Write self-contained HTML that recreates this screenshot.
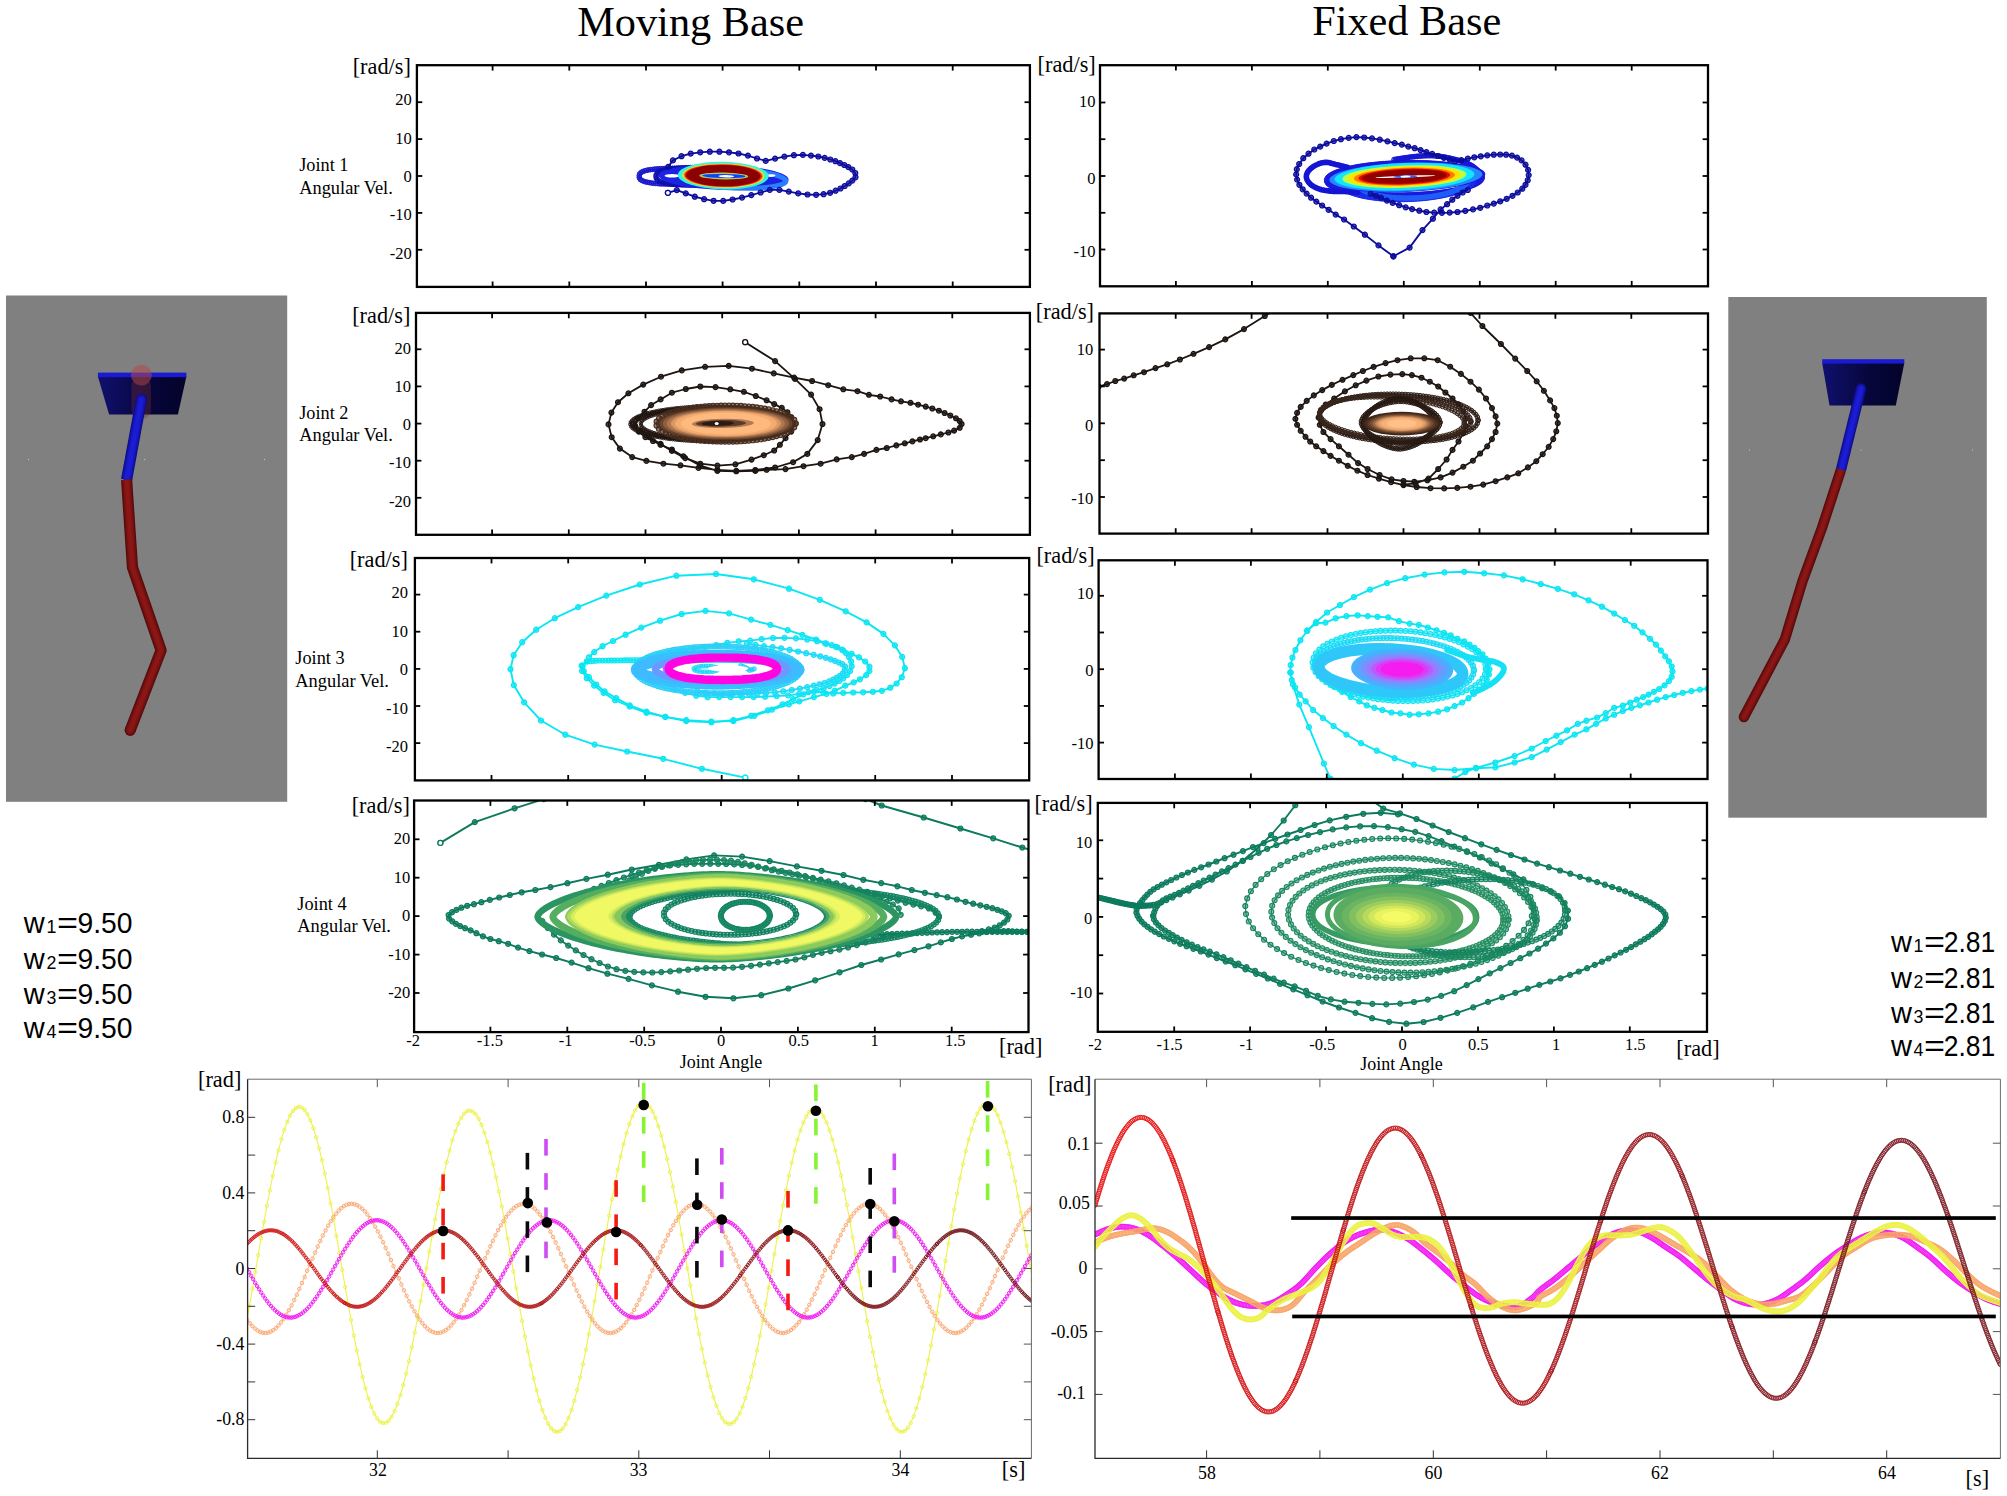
<!DOCTYPE html><html><head><meta charset="utf-8"><title>Moving Base vs Fixed Base</title><style>html,body{margin:0;padding:0;background:#fff}svg{display:block}text{fill:#000}</style></head><body><svg width="2007" height="1496" viewBox="0 0 2007 1496">
<defs><clipPath id="cL1"><rect x="416.9" y="65.2" width="613" height="221.7"/></clipPath><clipPath id="cL2"><rect x="416" y="312.9" width="613.9" height="221.9"/></clipPath><clipPath id="cL3"><rect x="414.9" y="558" width="614.3" height="222.4"/></clipPath><clipPath id="cL4"><rect x="414.1" y="800.5" width="614.4" height="231.6"/></clipPath><clipPath id="cR1"><rect x="1100" y="65.2" width="608" height="221.1"/></clipPath><clipPath id="cR2"><rect x="1099.5" y="313.4" width="608.5" height="220.2"/></clipPath><clipPath id="cR3"><rect x="1098.6" y="560.3" width="608.9" height="218.7"/></clipPath><clipPath id="cR4"><rect x="1097.8" y="802.9" width="609.2" height="228.9"/></clipPath><marker id="m0" markerUnits="userSpaceOnUse" markerWidth="6.6" markerHeight="6.6" refX="3.3" refY="3.3" viewBox="0 0 6.6 6.6"><circle cx="3.3" cy="3.3" r="2.3" fill="#1717cc" fill-opacity="0.5" stroke="#1717cc" stroke-width="1.0"/></marker><marker id="m1" markerUnits="userSpaceOnUse" markerWidth="6.6" markerHeight="6.6" refX="3.3" refY="3.3" viewBox="0 0 6.6 6.6"><circle cx="3.3" cy="3.3" r="2.3" fill="#0f0fb0" fill-opacity="0.5" stroke="#0f0fb0" stroke-width="1.0"/></marker><marker id="m2" markerUnits="userSpaceOnUse" markerWidth="7.4" markerHeight="7.4" refX="3.7" refY="3.7" viewBox="0 0 7.4 7.4"><circle cx="3.7" cy="3.7" r="2.5" fill="#0c0c9c" fill-opacity="0.7" stroke="#0c0c9c" stroke-width="1.2"/></marker><marker id="m3" markerUnits="userSpaceOnUse" markerWidth="6.8" markerHeight="6.8" refX="3.4" refY="3.4" viewBox="0 0 6.8 6.8"><circle cx="3.4" cy="3.4" r="2.4" fill="#1818dc" fill-opacity="0.5" stroke="#1818dc" stroke-width="1.0"/></marker><marker id="m4" markerUnits="userSpaceOnUse" markerWidth="6.6" markerHeight="6.6" refX="3.3" refY="3.3" viewBox="0 0 6.6 6.6"><circle cx="3.3" cy="3.3" r="2.3" fill="#1c2cec" fill-opacity="0.4" stroke="#1c2cec" stroke-width="1.0"/></marker><marker id="m5" markerUnits="userSpaceOnUse" markerWidth="6.4" markerHeight="6.4" refX="3.2" refY="3.2" viewBox="0 0 6.4 6.4"><circle cx="3.2" cy="3.2" r="2.2" fill="#2060f8" fill-opacity="0.4" stroke="#2060f8" stroke-width="1.0"/></marker><marker id="m6" markerUnits="userSpaceOnUse" markerWidth="6.6" markerHeight="6.6" refX="3.3" refY="3.3" viewBox="0 0 6.6 6.6"><circle cx="3.3" cy="3.3" r="2.3" fill="#1616d4" fill-opacity="0.5" stroke="#1616d4" stroke-width="1.0"/></marker><marker id="m7" markerUnits="userSpaceOnUse" markerWidth="7.4" markerHeight="7.4" refX="3.7" refY="3.7" viewBox="0 0 7.4 7.4"><circle cx="3.7" cy="3.7" r="2.4" fill="#1c1512" fill-opacity="0.75" stroke="#1c1512" stroke-width="1.3"/></marker><marker id="m8" markerUnits="userSpaceOnUse" markerWidth="5.2" markerHeight="5.2" refX="2.6" refY="2.6" viewBox="0 0 5.2 5.2"><circle cx="2.6" cy="2.6" r="1.7" fill="#241812" fill-opacity="0.4" stroke="#241812" stroke-width="0.9"/></marker><marker id="m9" markerUnits="userSpaceOnUse" markerWidth="7.4" markerHeight="7.4" refX="3.7" refY="3.7" viewBox="0 0 7.4 7.4"><circle cx="3.7" cy="3.7" r="2.6" fill="#4a2e1e" fill-opacity="0.6" stroke="#4a2e1e" stroke-width="1.1"/></marker><marker id="m10" markerUnits="userSpaceOnUse" markerWidth="6.4" markerHeight="6.4" refX="3.2" refY="3.2" viewBox="0 0 6.4 6.4"><circle cx="3.2" cy="3.2" r="2.2" fill="#2c1d15" fill-opacity="0.45" stroke="#2c1d15" stroke-width="1.0"/></marker><marker id="m11" markerUnits="userSpaceOnUse" markerWidth="6.4" markerHeight="6.4" refX="3.2" refY="3.2" viewBox="0 0 6.4 6.4"><circle cx="3.2" cy="3.2" r="2.2" fill="#33221a" fill-opacity="0.45" stroke="#33221a" stroke-width="1.0"/></marker><marker id="m12" markerUnits="userSpaceOnUse" markerWidth="6.4" markerHeight="6.4" refX="3.2" refY="3.2" viewBox="0 0 6.4 6.4"><circle cx="3.2" cy="3.2" r="2.2" fill="#3a281e" fill-opacity="0.45" stroke="#3a281e" stroke-width="1.0"/></marker><marker id="m13" markerUnits="userSpaceOnUse" markerWidth="6.6" markerHeight="6.6" refX="3.3" refY="3.3" viewBox="0 0 6.6 6.6"><circle cx="3.3" cy="3.3" r="2.3" fill="#241812" fill-opacity="0.5" stroke="#241812" stroke-width="1.0"/></marker><marker id="m14" markerUnits="userSpaceOnUse" markerWidth="6.4" markerHeight="6.4" refX="3.2" refY="3.2" viewBox="0 0 6.4 6.4"><circle cx="3.2" cy="3.2" r="2.2" fill="#2a1c14" fill-opacity="0.5" stroke="#2a1c14" stroke-width="1.0"/></marker><marker id="m15" markerUnits="userSpaceOnUse" markerWidth="7.4" markerHeight="7.4" refX="3.7" refY="3.7" viewBox="0 0 7.4 7.4"><circle cx="3.7" cy="3.7" r="2.5" fill="#0ae6f2" fill-opacity="0.7" stroke="#0ae6f2" stroke-width="1.2"/></marker><marker id="m16" markerUnits="userSpaceOnUse" markerWidth="7" markerHeight="7" refX="3.5" refY="3.5" viewBox="0 0 7 7"><circle cx="3.5" cy="3.5" r="2.4" fill="#0ae6f2" fill-opacity="0.45" stroke="#0ae6f2" stroke-width="1.1"/></marker><marker id="m17" markerUnits="userSpaceOnUse" markerWidth="7.4" markerHeight="7.4" refX="3.7" refY="3.7" viewBox="0 0 7.4 7.4"><circle cx="3.7" cy="3.7" r="2.5" fill="#14e2f4" fill-opacity="0.7" stroke="#14e2f4" stroke-width="1.2"/></marker><marker id="m18" markerUnits="userSpaceOnUse" markerWidth="7.4" markerHeight="7.4" refX="3.7" refY="3.7" viewBox="0 0 7.4 7.4"><circle cx="3.7" cy="3.7" r="2.5" fill="#1cdcf6" fill-opacity="0.7" stroke="#1cdcf6" stroke-width="1.2"/></marker><marker id="m19" markerUnits="userSpaceOnUse" markerWidth="7.2" markerHeight="7.2" refX="3.6" refY="3.6" viewBox="0 0 7.2 7.2"><circle cx="3.6" cy="3.6" r="2.5" fill="#2ccff8" fill-opacity="0.55" stroke="#2ccff8" stroke-width="1.1"/></marker><marker id="m20" markerUnits="userSpaceOnUse" markerWidth="7.4" markerHeight="7.4" refX="3.7" refY="3.7" viewBox="0 0 7.4 7.4"><circle cx="3.7" cy="3.7" r="2.6" fill="#38c0ff" fill-opacity="0.6" stroke="#38c0ff" stroke-width="1.1"/></marker><marker id="m21" markerUnits="userSpaceOnUse" markerWidth="5.8" markerHeight="5.8" refX="2.9" refY="2.9" viewBox="0 0 5.8 5.8"><circle cx="2.9" cy="2.9" r="2.0" fill="#20d8f4" fill-opacity="0.5" stroke="#20d8f4" stroke-width="0.9"/></marker><marker id="m22" markerUnits="userSpaceOnUse" markerWidth="6.2" markerHeight="6.2" refX="3.1" refY="3.1" viewBox="0 0 6.2 6.2"><circle cx="3.1" cy="3.1" r="2.2" fill="#28ccf6" fill-opacity="0.6" stroke="#28ccf6" stroke-width="0.9"/></marker><marker id="m23" markerUnits="userSpaceOnUse" markerWidth="7.2" markerHeight="7.2" refX="3.6" refY="3.6" viewBox="0 0 7.2 7.2"><circle cx="3.6" cy="3.6" r="2.5" fill="#0fe2f4" fill-opacity="0.55" stroke="#0fe2f4" stroke-width="1.1"/></marker><marker id="m24" markerUnits="userSpaceOnUse" markerWidth="7.2" markerHeight="7.2" refX="3.6" refY="3.6" viewBox="0 0 7.2 7.2"><circle cx="3.6" cy="3.6" r="2.5" fill="#1cdaf5" fill-opacity="0.55" stroke="#1cdaf5" stroke-width="1.1"/></marker><marker id="m25" markerUnits="userSpaceOnUse" markerWidth="7.4" markerHeight="7.4" refX="3.7" refY="3.7" viewBox="0 0 7.4 7.4"><circle cx="3.7" cy="3.7" r="2.5" fill="#0c7a5c" fill-opacity="0.7" stroke="#0c7a5c" stroke-width="1.2"/></marker><marker id="m26" markerUnits="userSpaceOnUse" markerWidth="7.4" markerHeight="7.4" refX="3.7" refY="3.7" viewBox="0 0 7.4 7.4"><circle cx="3.7" cy="3.7" r="2.5" fill="#137e5e" fill-opacity="0.7" stroke="#137e5e" stroke-width="1.2"/></marker><marker id="m27" markerUnits="userSpaceOnUse" markerWidth="7.4" markerHeight="7.4" refX="3.7" refY="3.7" viewBox="0 0 7.4 7.4"><circle cx="3.7" cy="3.7" r="2.5" fill="#12805e" fill-opacity="0.7" stroke="#12805e" stroke-width="1.2"/></marker><marker id="m28" markerUnits="userSpaceOnUse" markerWidth="7.4" markerHeight="7.4" refX="3.7" refY="3.7" viewBox="0 0 7.4 7.4"><circle cx="3.7" cy="3.7" r="2.5" fill="#188660" fill-opacity="0.7" stroke="#188660" stroke-width="1.2"/></marker><marker id="m29" markerUnits="userSpaceOnUse" markerWidth="7.2" markerHeight="7.2" refX="3.6" refY="3.6" viewBox="0 0 7.2 7.2"><circle cx="3.6" cy="3.6" r="2.5" fill="#138460" fill-opacity="0.5" stroke="#138460" stroke-width="1.1"/></marker><marker id="m30" markerUnits="userSpaceOnUse" markerWidth="7.2" markerHeight="7.2" refX="3.6" refY="3.6" viewBox="0 0 7.2 7.2"><circle cx="3.6" cy="3.6" r="2.5" fill="#108060" fill-opacity="0.5" stroke="#108060" stroke-width="1.1"/></marker><marker id="m31" markerUnits="userSpaceOnUse" markerWidth="7.2" markerHeight="7.2" refX="3.6" refY="3.6" viewBox="0 0 7.2 7.2"><circle cx="3.6" cy="3.6" r="2.5" fill="#148662" fill-opacity="0.5" stroke="#148662" stroke-width="1.1"/></marker><marker id="m32" markerUnits="userSpaceOnUse" markerWidth="7.4" markerHeight="7.4" refX="3.7" refY="3.7" viewBox="0 0 7.4 7.4"><circle cx="3.7" cy="3.7" r="2.5" fill="#0f7d5e" fill-opacity="0.7" stroke="#0f7d5e" stroke-width="1.2"/></marker><marker id="m33" markerUnits="userSpaceOnUse" markerWidth="7.2" markerHeight="7.2" refX="3.6" refY="3.6" viewBox="0 0 7.2 7.2"><circle cx="3.6" cy="3.6" r="2.5" fill="#15835f" fill-opacity="0.5" stroke="#15835f" stroke-width="1.1"/></marker><marker id="m34" markerUnits="userSpaceOnUse" markerWidth="7.2" markerHeight="7.2" refX="3.6" refY="3.6" viewBox="0 0 7.2 7.2"><circle cx="3.6" cy="3.6" r="2.5" fill="#1b8860" fill-opacity="0.5" stroke="#1b8860" stroke-width="1.1"/></marker><marker id="m35" markerUnits="userSpaceOnUse" markerWidth="7.2" markerHeight="7.2" refX="3.6" refY="3.6" viewBox="0 0 7.2 7.2"><circle cx="3.6" cy="3.6" r="2.5" fill="#218c61" fill-opacity="0.5" stroke="#218c61" stroke-width="1.1"/></marker><marker id="m36" markerUnits="userSpaceOnUse" markerWidth="7.2" markerHeight="7.2" refX="3.6" refY="3.6" viewBox="0 0 7.2 7.2"><circle cx="3.6" cy="3.6" r="2.5" fill="#289062" fill-opacity="0.5" stroke="#289062" stroke-width="1.1"/></marker><linearGradient id="gRed" x1="0" x2="1" y1="0" y2="0"><stop offset="0" stop-color="#5e0c0c"/><stop offset="0.45" stop-color="#961818"/><stop offset="1" stop-color="#5a0a0a"/></linearGradient><linearGradient id="gNavy" x1="0" x2="1" y1="0" y2="0"><stop offset="0" stop-color="#10106e"/><stop offset="0.6" stop-color="#06063a"/><stop offset="1" stop-color="#03032a"/></linearGradient><clipPath id="cBL"><rect x="247.6" y="1079.2" width="783.8000000000001" height="379.0999999999999"/></clipPath><marker id="m37" markerUnits="userSpaceOnUse" markerWidth="5.2" markerHeight="5.2" refX="2.6" refY="2.6" viewBox="0 0 5.2 5.2"><circle cx="2.6" cy="2.6" r="1.7" fill="none" stroke="#ecf24a" stroke-width="0.9"/></marker><marker id="m38" markerUnits="userSpaceOnUse" markerWidth="5.4" markerHeight="5.4" refX="2.7" refY="2.7" viewBox="0 0 5.4 5.4"><circle cx="2.7" cy="2.7" r="1.75" fill="none" stroke="#f9a873" stroke-width="0.95"/></marker><marker id="m39" markerUnits="userSpaceOnUse" markerWidth="5.3" markerHeight="5.3" refX="2.6" refY="2.6" viewBox="0 0 5.3 5.3"><circle cx="2.6" cy="2.6" r="1.75" fill="none" stroke="#f31af3" stroke-width="0.9"/></marker><marker id="m40" markerUnits="userSpaceOnUse" markerWidth="4.9" markerHeight="4.9" refX="2.5" refY="2.5" viewBox="0 0 4.9 4.9"><circle cx="2.5" cy="2.5" r="1.6" fill="none" stroke="#d01414" stroke-width="0.85"/></marker><marker id="m41" markerUnits="userSpaceOnUse" markerWidth="4.9" markerHeight="4.9" refX="2.5" refY="2.5" viewBox="0 0 4.9 4.9"><circle cx="2.5" cy="2.5" r="1.6" fill="none" stroke="#c21415" stroke-width="0.85"/></marker><marker id="m42" markerUnits="userSpaceOnUse" markerWidth="4.9" markerHeight="4.9" refX="2.5" refY="2.5" viewBox="0 0 4.9 4.9"><circle cx="2.5" cy="2.5" r="1.6" fill="none" stroke="#b41415" stroke-width="0.85"/></marker><marker id="m43" markerUnits="userSpaceOnUse" markerWidth="4.9" markerHeight="4.9" refX="2.5" refY="2.5" viewBox="0 0 4.9 4.9"><circle cx="2.5" cy="2.5" r="1.6" fill="none" stroke="#a61416" stroke-width="0.85"/></marker><marker id="m44" markerUnits="userSpaceOnUse" markerWidth="4.9" markerHeight="4.9" refX="2.5" refY="2.5" viewBox="0 0 4.9 4.9"><circle cx="2.5" cy="2.5" r="1.6" fill="none" stroke="#981416" stroke-width="0.85"/></marker><marker id="m45" markerUnits="userSpaceOnUse" markerWidth="4.9" markerHeight="4.9" refX="2.5" refY="2.5" viewBox="0 0 4.9 4.9"><circle cx="2.5" cy="2.5" r="1.6" fill="none" stroke="#8a1417" stroke-width="0.85"/></marker><marker id="m46" markerUnits="userSpaceOnUse" markerWidth="4.9" markerHeight="4.9" refX="2.5" refY="2.5" viewBox="0 0 4.9 4.9"><circle cx="2.5" cy="2.5" r="1.6" fill="none" stroke="#7c1417" stroke-width="0.85"/></marker><marker id="m47" markerUnits="userSpaceOnUse" markerWidth="4.9" markerHeight="4.9" refX="2.5" refY="2.5" viewBox="0 0 4.9 4.9"><circle cx="2.5" cy="2.5" r="1.6" fill="none" stroke="#6e1418" stroke-width="0.85"/></marker><clipPath id="cBR"><rect x="1095.0" y="1079.2" width="905.4000000000001" height="379.0999999999999"/></clipPath><marker id="m48" markerUnits="userSpaceOnUse" markerWidth="6.8" markerHeight="6.8" refX="3.4" refY="3.4" viewBox="0 0 6.8 6.8"><circle cx="3.4" cy="3.4" r="2.55" fill="#f31af3" fill-opacity="0.12" stroke="#f31af3" stroke-width="0.85"/></marker><marker id="m49" markerUnits="userSpaceOnUse" markerWidth="6.8" markerHeight="6.8" refX="3.4" refY="3.4" viewBox="0 0 6.8 6.8"><circle cx="3.4" cy="3.4" r="2.55" fill="#f9a567" fill-opacity="0.12" stroke="#f9a567" stroke-width="0.85"/></marker><marker id="m50" markerUnits="userSpaceOnUse" markerWidth="6.8" markerHeight="6.8" refX="3.4" refY="3.4" viewBox="0 0 6.8 6.8"><circle cx="3.4" cy="3.4" r="2.55" fill="#ecf246" fill-opacity="0.12" stroke="#ecf246" stroke-width="0.85"/></marker><marker id="m51" markerUnits="userSpaceOnUse" markerWidth="6" markerHeight="6" refX="3" refY="3" viewBox="0 0 6 6"><circle cx="3" cy="3" r="2.15" fill="none" stroke="#ea1212" stroke-width="0.85"/></marker><marker id="m52" markerUnits="userSpaceOnUse" markerWidth="6" markerHeight="6" refX="3" refY="3" viewBox="0 0 6 6"><circle cx="3" cy="3" r="2.15" fill="none" stroke="#e01313" stroke-width="0.85"/></marker><marker id="m53" markerUnits="userSpaceOnUse" markerWidth="6" markerHeight="6" refX="3" refY="3" viewBox="0 0 6 6"><circle cx="3" cy="3" r="2.15" fill="none" stroke="#d61315" stroke-width="0.85"/></marker><marker id="m54" markerUnits="userSpaceOnUse" markerWidth="6" markerHeight="6" refX="3" refY="3" viewBox="0 0 6 6"><circle cx="3" cy="3" r="2.15" fill="none" stroke="#cb1416" stroke-width="0.85"/></marker><marker id="m55" markerUnits="userSpaceOnUse" markerWidth="6" markerHeight="6" refX="3" refY="3" viewBox="0 0 6 6"><circle cx="3" cy="3" r="2.15" fill="none" stroke="#c11518" stroke-width="0.85"/></marker><marker id="m56" markerUnits="userSpaceOnUse" markerWidth="6" markerHeight="6" refX="3" refY="3" viewBox="0 0 6 6"><circle cx="3" cy="3" r="2.15" fill="none" stroke="#b71619" stroke-width="0.85"/></marker><marker id="m57" markerUnits="userSpaceOnUse" markerWidth="6" markerHeight="6" refX="3" refY="3" viewBox="0 0 6 6"><circle cx="3" cy="3" r="2.15" fill="none" stroke="#ad161b" stroke-width="0.85"/></marker><marker id="m58" markerUnits="userSpaceOnUse" markerWidth="6" markerHeight="6" refX="3" refY="3" viewBox="0 0 6 6"><circle cx="3" cy="3" r="2.15" fill="none" stroke="#a3171c" stroke-width="0.85"/></marker><marker id="m59" markerUnits="userSpaceOnUse" markerWidth="6" markerHeight="6" refX="3" refY="3" viewBox="0 0 6 6"><circle cx="3" cy="3" r="2.15" fill="none" stroke="#99181e" stroke-width="0.85"/></marker><marker id="m60" markerUnits="userSpaceOnUse" markerWidth="6" markerHeight="6" refX="3" refY="3" viewBox="0 0 6 6"><circle cx="3" cy="3" r="2.15" fill="none" stroke="#8e191f" stroke-width="0.85"/></marker><marker id="m61" markerUnits="userSpaceOnUse" markerWidth="6" markerHeight="6" refX="3" refY="3" viewBox="0 0 6 6"><circle cx="3" cy="3" r="2.15" fill="none" stroke="#841921" stroke-width="0.85"/></marker><marker id="m62" markerUnits="userSpaceOnUse" markerWidth="6" markerHeight="6" refX="3" refY="3" viewBox="0 0 6 6"><circle cx="3" cy="3" r="2.15" fill="none" stroke="#7a1a22" stroke-width="0.85"/></marker></defs>
<rect width="2007" height="1496" fill="#fff"/>
<polyline fill="none" stroke="#1717cc" stroke-width="1.2" stroke-linejoin="round" marker-start="url(#m0)" marker-mid="url(#m0)" marker-end="url(#m0)" points="718.5,176.2 718.2,178.2 716.9,179.8 715.2,180.8 713.3,181.5 711.4,182 709.5,182.5 707.5,182.8 705.5,183.1 703.5,183.3 701.5,183.5 699.5,183.7 697.5,183.8 695.5,183.9 693.5,184 691.5,184 689.5,184.1 687.5,184.1 685.5,184.1 683.5,184.1 681.5,184.2 679.5,184.2 677.5,184.2 675.5,184.1 673.5,184.1 671.5,184.1 669.5,184.1 667.5,184.1 665.5,184 663.5,183.9 661.5,183.9 659.6,183.8 657.6,183.6 655.6,183.5 653.6,183.3 651.6,183 649.6,182.7 647.6,182.3 645.7,181.9 643.8,181.3 641.9,180.5 640.3,179.4 639.3,177.7 639.2,175.7 639.7,173.8 641.2,172.4 642.9,171.5 644.8,170.8 646.8,170.3 648.7,169.9 650.7,169.6 652.7,169.4 654.7,169.1 656.6,169 658.6,168.8 660.6,168.7 662.6,168.6 664.6,168.5 666.6,168.5 668.6,168.4 670.6,168.4 672.6,168.4 674.6,168.4 676.6,168.3 678.6,168.3 680.6,168.3 682.6,168.4 684.6,168.4 686.6,168.4 688.6,168.4 690.6,168.4 692.6,168.5 694.6,168.6 696.6,168.7 698.6,168.8 700.6,168.9 702.6,169.1 704.6,169.3 706.6,169.6 708.6,169.9 710.5,170.3 712.5,170.7 714.4,171.4 716.2,172.2 717.7,173.5 718.4,175.3 718.5,176.2"/>
<polyline fill="none" stroke="#0f0fb0" stroke-width="1.2" stroke-linejoin="round" marker-start="url(#m1)" marker-mid="url(#m1)" marker-end="url(#m1)" points="749.6,176.4 749.3,178.3 748.1,180 746.5,181.1 744.6,181.8 742.7,182.4 740.8,182.9 738.8,183.3 736.8,183.6 734.9,183.9 732.9,184.2 730.9,184.3 728.9,184.5 726.9,184.7 724.9,184.8 722.9,184.9 720.9,185 718.9,185 716.9,185.1 714.9,185.1 712.9,185.1 710.9,185.2 708.9,185.2 706.9,185.2 704.9,185.2 702.9,185.2 700.9,185.2 698.9,185.2 696.9,185.2 694.9,185.2 692.9,185.1 690.9,185.1 688.9,185.1 686.9,185 684.9,185 682.9,184.9 680.9,184.8 678.9,184.7 676.9,184.5 674.9,184.4 672.9,184.2 671,184 669,183.7 667,183.4 665,183 663.1,182.5 661.2,181.9 659.3,181.2 657.6,180.1 656.4,178.6 656,176.6 656.2,174.7 657.2,173 658.9,171.8 660.7,171 662.6,170.4 664.5,169.9 666.5,169.5 668.5,169.2 670.4,168.9 672.4,168.6 674.4,168.4 676.4,168.3 678.4,168.1 680.4,168 682.4,167.9 684.4,167.8 686.4,167.7 688.4,167.7 690.4,167.6 692.4,167.6 694.4,167.6 696.4,167.6 698.4,167.6 700.4,167.6 702.4,167.6 704.4,167.6 706.4,167.6 708.4,167.6 710.4,167.6 712.4,167.6 714.4,167.6 716.4,167.7 718.4,167.7 720.4,167.8 722.4,167.9 724.4,168 726.4,168.1 728.4,168.2 730.4,168.4 732.4,168.6 734.4,168.8 736.3,169 738.3,169.4 740.3,169.7 742.2,170.2 744.1,170.7 746,171.5 747.7,172.5 749.1,173.9 749.5,175.9"/>
<ellipse cx="723.6" cy="177.5" rx="65" ry="12.6" fill="#1c24e4" transform="rotate(1.8 723.6 177.5)"/>
<ellipse cx="734" cy="178.5" rx="52" ry="9.3" fill="none" stroke="#2a7dff" stroke-width="5.0" transform="rotate(3 734 178.5)"/>
<ellipse cx="672.1" cy="175.7" rx="7.5" ry="1.7" fill="#ffffff"/>
<ellipse cx="770.9" cy="175.6" rx="4.5" ry="1.4" fill="#ffffff"/>
<ellipse cx="723.3" cy="175.6" rx="45.5" ry="13.8" fill="#35f2d8" transform="rotate(1 723.3 175.6)"/>
<ellipse cx="723.3" cy="175.6" rx="41.2" ry="12.2" fill="#d8f03a" transform="rotate(1 723.3 175.6)"/>
<ellipse cx="723.3" cy="175.6" rx="40" ry="11.7" fill="#ff9a10" transform="rotate(1 723.3 175.6)"/>
<ellipse cx="723.3" cy="175.6" rx="38.8" ry="11.2" fill="#e81a0a" transform="rotate(1 723.3 175.6)"/>
<ellipse cx="723.3" cy="175.6" rx="37.2" ry="10.6" fill="#8b0000" transform="rotate(1 723.3 175.6)"/>
<ellipse cx="723.8" cy="176" rx="24.5" ry="3.4" fill="#e8c020" transform="rotate(1 723.8 176)"/>
<ellipse cx="723.8" cy="176" rx="23.3" ry="2.6" fill="#38e0e0" transform="rotate(1 723.8 176)"/>
<ellipse cx="723.8" cy="176" rx="21.5" ry="2" fill="#1b3cf0" transform="rotate(1 723.8 176)"/>
<ellipse cx="726.3" cy="176.2" rx="8" ry="1.3" fill="#ffffff" transform="rotate(1 726.3 176.2)"/>
<polyline fill="none" stroke="#0c0c9c" stroke-width="1.8" stroke-linejoin="round" marker-start="url(#m2)" marker-mid="url(#m2)" marker-end="url(#m2)" points="667.9,192.8 676.8,190.1 685.8,193.4 694.8,196.7 704.1,199.2 713.6,200.8 723.2,200.9 732.6,199.5 742,197.6 751.3,195.1 760.6,192.5 769.8,189.9 779.4,189.9 788.8,191.6 798.2,193.4 807.5,194.5 816.1,194.8 823.6,194.2 830.1,192.8 835.6,190.7 840.5,188.5 844.7,186 848.7,183.4 852.3,180.6 855.5,177.3 855.3,173 852.3,169.5 848.4,167.1 844.3,165 840,163.1 835.4,161.2 830.3,159.5 824.7,157.9 818.3,156.5 811,155.6 802.9,154.9 793.9,155.2 784.4,156.6 775.1,158.6 765.7,160.9 757,158.5 747.9,155.6 738.5,153.5 729,152.3 719.4,151.7 709.8,151.7 700.2,152.3 690.7,153.6 681.5,156.2 672.9,160.4 668.2,166.9"/>
<polyline fill="none" stroke="#1818dc" stroke-width="1.0" stroke-linejoin="round" marker-start="url(#m3)" marker-mid="url(#m3)" marker-end="url(#m3)" points="1482.1,177.4 1481.8,178.9 1480.9,180.3 1479.8,181.4 1478.5,182.4 1477.1,183.2 1475.7,184 1474.3,184.7 1472.8,185.3 1471.3,185.9 1469.8,186.4 1468.3,186.9 1466.8,187.4 1465.2,187.9 1463.7,188.3 1462.1,188.7 1460.6,189.1 1459,189.4 1457.5,189.8 1455.9,190.1 1454.3,190.4 1452.8,190.7 1451.2,191 1449.6,191.2 1448,191.5 1446.4,191.8 1444.9,192 1443.3,192.2 1441.7,192.4 1440.1,192.6 1438.5,192.8 1436.9,193 1435.3,193.2 1433.8,193.4 1432.2,193.5 1430.6,193.7 1429,193.8 1427.4,194 1425.8,194.1 1424.2,194.2 1422.6,194.3 1421,194.4 1419.4,194.5 1417.8,194.6 1416.2,194.7 1414.6,194.8 1413,194.9 1411.4,194.9 1409.8,195 1408.2,195 1406.6,195.1 1405,195.1 1403.4,195.2 1401.8,195.2 1400.2,195.2 1398.6,195.2 1397,195.2 1395.4,195.2 1393.8,195.2 1392.2,195.2 1390.6,195.1 1389,195.1 1387.4,195.1 1385.8,195 1384.2,195 1382.6,194.9 1381,194.8 1379.4,194.8 1377.8,194.7 1376.2,194.6 1374.6,194.5 1373,194.4 1371.4,194.2 1369.8,194.1 1368.3,194 1366.7,193.8 1365.1,193.7 1363.5,193.5 1361.9,193.3 1360.3,193.1 1358.7,192.9 1357.1,192.7 1355.5,192.5 1354,192.2 1352.4,192 1350.8,191.7 1349.2,191.4 1347.7,191.1 1346.1,190.8 1344.5,190.4 1343,190.1 1341.4,189.6 1339.9,189.2 1338.4,188.8 1336.8,188.3 1335.3,187.7 1333.9,187.1 1332.4,186.4 1331,185.7 1329.6,184.8 1328.4,183.8 1327.4,182.6 1326.7,181.1 1326.8,179.6 1327.4,178.1 1328.5,176.9 1329.7,175.9 1331,175 1332.4,174.2 1333.9,173.5 1335.3,172.8 1336.8,172.2 1338.3,171.7 1339.8,171.2 1341.3,170.7 1342.9,170.2 1344.4,169.8 1346,169.4 1347.5,169 1349.1,168.6 1350.6,168.3 1352.2,167.9 1353.8,167.6 1355.3,167.3 1356.9,167 1358.5,166.7 1360.1,166.5 1361.7,166.2 1363.2,166 1364.8,165.8 1366.4,165.5 1368,165.3 1369.6,165.1 1371.2,164.9 1372.8,164.8 1374.3,164.6 1375.9,164.4 1377.5,164.3 1379.1,164.1 1380.7,164 1382.3,163.8 1383.9,163.7 1385.5,163.6 1387.1,163.5 1388.7,163.4 1390.3,163.3 1391.9,163.2 1393.5,163.1 1395.1,163 1396.7,163 1398.3,162.9 1399.9,162.9 1401.5,162.8 1403.1,162.8 1404.7,162.7 1406.3,162.7 1407.9,162.7 1409.5,162.7 1411.1,162.7 1412.7,162.7 1414.3,162.7 1415.9,162.7 1417.5,162.7 1419.1,162.8 1420.7,162.8 1422.3,162.8 1423.9,162.9 1425.5,163 1427.1,163 1428.7,163.1 1430.3,163.2 1431.9,163.3 1433.5,163.4 1435.1,163.5 1436.7,163.6 1438.2,163.7 1439.8,163.9 1441.4,164 1443,164.2 1444.6,164.3 1446.2,164.5 1447.8,164.7 1449.4,164.9 1451,165.1 1452.6,165.3 1454.1,165.6 1455.7,165.8 1457.3,166.1 1458.9,166.4 1460.4,166.7 1462,167 1463.6,167.3 1465.1,167.7 1466.7,168.1 1468.2,168.5 1469.8,168.9 1471.3,169.4 1472.8,170 1474.3,170.5 1475.8,171.2 1477.2,171.9 1478.6,172.7 1479.9,173.7 1481,174.8 1481.8,176.1 1482.1,177.4"/>
<polyline fill="none" stroke="#1c2cec" stroke-width="1.0" stroke-linejoin="round" marker-start="url(#m4)" marker-mid="url(#m4)" marker-end="url(#m4)" points="1474.2,179.4 1473.8,180.9 1473.1,182.2 1472.2,183.4 1471.2,184.4 1470,185.4 1468.8,186.3 1467.5,187.1 1466.2,187.8 1464.9,188.5 1463.6,189.2 1462.2,189.8 1460.8,190.4 1459.4,190.9 1458,191.4 1456.6,191.9 1455.1,192.4 1453.7,192.8 1452.3,193.2 1450.8,193.6 1449.4,194 1447.9,194.4 1446.5,194.7 1445,195.1 1443.5,195.4 1442.1,195.7 1440.6,196 1439.1,196.2 1437.6,196.5 1436.2,196.7 1434.7,197 1433.2,197.2 1431.7,197.4 1430.2,197.6 1428.7,197.8 1427.2,198 1425.8,198.2 1424.3,198.3 1422.8,198.5 1421.3,198.6 1419.8,198.7 1418.3,198.8 1416.8,198.9 1415.3,199 1413.8,199.1 1412.3,199.2 1410.8,199.3 1409.3,199.3 1407.8,199.4 1406.3,199.4 1404.8,199.5 1403.3,199.5 1401.8,199.5 1400.3,199.5 1398.8,199.5 1397.3,199.5 1395.8,199.5 1394.3,199.4 1392.8,199.4 1391.3,199.3 1389.8,199.3 1388.3,199.2 1386.8,199.1 1385.3,199 1383.8,198.9 1382.3,198.8 1380.8,198.7 1379.3,198.5 1377.8,198.4 1376.3,198.2 1374.9,198 1373.4,197.8 1371.9,197.6 1370.4,197.4 1368.9,197.2 1367.4,196.9 1366,196.6 1364.5,196.4 1363,196.1 1361.6,195.7 1360.1,195.4 1358.6,195 1357.2,194.6 1355.8,194.2 1354.3,193.8 1352.9,193.3 1351.5,192.8 1350.1,192.2 1348.7,191.6 1347.4,191 1346.1,190.3 1344.8,189.5 1343.5,188.6 1342.4,187.7 1341.4,186.6 1340.5,185.4 1339.9,184 1339.7,183.3"/>
<polyline fill="none" stroke="#2060f8" stroke-width="1.0" stroke-linejoin="round" marker-start="url(#m5)" marker-mid="url(#m5)" marker-end="url(#m5)" points="1468.6,180.9 1467.8,182.2 1466.9,183.4 1465.9,184.4 1464.7,185.4 1463.5,186.3 1462.3,187.1 1461,187.9 1459.7,188.6 1458.3,189.2 1456.9,189.9 1455.5,190.4 1454.2,191 1452.7,191.5 1451.3,192 1449.9,192.4 1448.5,192.9 1447,193.3 1445.6,193.6 1444.1,194 1442.6,194.4 1441.2,194.7 1439.7,195 1438.2,195.3 1436.8,195.6 1435.3,195.8 1433.8,196 1432.3,196.3 1430.8,196.5 1429.4,196.7 1427.9,196.9 1426.4,197 1424.9,197.2 1423.4,197.3 1421.9,197.5 1420.4,197.6 1418.9,197.7 1417.4,197.8 1415.9,197.9 1414.4,197.9 1412.9,198 1411.4,198 1409.9,198 1408.4,198.1 1406.9,198.1 1405.4,198.1 1403.9,198 1402.4,198 1400.9,197.9 1399.4,197.9 1397.9,197.8 1396.4,197.7 1394.9,197.6 1393.4,197.5 1391.9,197.4 1390.4,197.2 1388.9,197.1 1387.5,196.9 1386,196.7 1384.5,196.5 1383,196.2 1381.5,196 1380.1,195.7 1378.6,195.4 1377.1,195.1 1375.6,194.8 1374.2,194.4 1372.7,194 1371.3,193.6 1369.9,193.2 1368.5,192.7 1367,192.2 1365.7,191.6 1364.3,191 1362.9,190.3 1361.6,189.6 1360.3,188.8 1359.1,187.9 1358,187 1357,185.9"/>
<polyline fill="none" stroke="#1616d4" stroke-width="1.0" stroke-linejoin="round" marker-start="url(#m6)" marker-mid="url(#m6)" marker-end="url(#m6)" points="1394,159.5 1395.6,159.3 1397.2,159 1398.7,158.8 1400.3,158.5 1401.9,158.3 1403.5,158 1405.1,157.8 1406.7,157.6 1408.2,157.4 1409.8,157.1 1411.4,156.9 1413,156.8 1414.6,156.6 1416.2,156.4 1417.8,156.2 1419.4,156.1 1421,156 1422.6,155.9 1424.2,155.8 1425.8,155.8 1427.4,155.7 1429,155.7 1430.6,155.7 1432.2,155.7 1433.8,155.8 1435.4,155.9 1436.9,156 1438.5,156.2 1440.1,156.4 1441.7,156.6 1443.3,156.9 1444.9,157.1 1446.4,157.4 1448,157.7 1449.6,158.1 1451.1,158.4 1452.7,158.8 1454.2,159.2 1455.8,159.6 1457.3,160 1458.9,160.4 1460.4,160.9 1461.9,161.4 1463.4,161.9 1464.9,162.5 1466.4,163 1467.9,163.7 1469.4,164.3 1470.8,165.1 1472.2,165.9 1473.5,166.8 1474.8,167.7 1476,168.8 1477.2,169.8 1478.4,170.9 1479.5,171.8"/>
<polyline fill="none" stroke="#1414d2" stroke-width="5.6" stroke-linecap="round" stroke-linejoin="round" points="1357.7,192.5 1356.7,192.5 1355.4,192.3 1353.8,192.2 1352.1,192 1350.2,191.9 1348.3,191.7 1346.5,191.6 1344.8,191.5 1343.1,191.5 1341.5,191.4 1339.9,191.4 1338.2,191.4 1336.6,191.4 1335,191.4 1333.4,191.4 1331.8,191.3 1330.3,191.1 1328.8,190.9 1327.2,190.8 1325.7,190.5 1324.3,190.3 1322.9,190 1321.5,189.7 1320.2,189.3 1318.9,188.9 1317.6,188.4 1316.4,187.9 1315.2,187.3 1314,186.7 1313,186.1 1312,185.5 1311.1,184.8 1310.3,184.1 1309.5,183.3 1308.8,182.5 1308.2,181.7 1307.6,180.8 1307.2,180 1306.8,179.1 1306.6,178.3 1306.4,177.5 1306.3,176.7 1306.4,175.9 1306.5,175 1306.7,174.2 1307,173.4 1307.4,172.6 1307.9,171.8 1308.4,171 1309.1,170.2 1310,169.3 1310.8,168.5 1311.8,167.7 1312.8,166.9 1313.9,166.2 1315,165.6 1316.1,165 1317.3,164.5 1318.6,163.9 1319.9,163.4 1321.2,163 1322.6,162.7 1324,162.5 1325.3,162.4 1326.7,162.4 1328.2,162.5 1329.7,162.8 1331.2,163.2 1332.7,163.6 1334.1,164 1335.6,164.4 1337,164.7 1338.4,165 1339.9,165.4 1341.4,165.8 1342.9,166.1 1344.3,166.5 1345.5,166.8 1346.6,167.1 1347.4,167.3"/>
<ellipse cx="1405.9" cy="177.1" rx="79.5" ry="14.8" fill="#1a1ae0" transform="rotate(-2.2 1405.9 177.1)"/>
<ellipse cx="1405.9" cy="177.1" rx="76.5" ry="14.3" fill="#2488ff" transform="rotate(-2.2 1405.9 177.1)"/>
<ellipse cx="1404.4" cy="176.6" rx="70" ry="13.6" fill="#10e6ff" transform="rotate(-2.2 1404.4 176.6)"/>
<ellipse cx="1404.4" cy="176.6" rx="62" ry="11.2" fill="#b8ff48" transform="rotate(-2.2 1404.4 176.6)"/>
<ellipse cx="1404.4" cy="176.6" rx="56.5" ry="10.2" fill="#ffe400" transform="rotate(-2.2 1404.4 176.6)"/>
<ellipse cx="1404.4" cy="176.6" rx="50.5" ry="8.9" fill="#ff7800" transform="rotate(-2.2 1404.4 176.6)"/>
<ellipse cx="1404.4" cy="176.6" rx="46" ry="7.9" fill="#e00a00" transform="rotate(-2.2 1404.4 176.6)"/>
<ellipse cx="1404.4" cy="176.6" rx="42.5" ry="6.9" fill="#930000" transform="rotate(-2.2 1404.4 176.6)"/>
<ellipse cx="1405.4" cy="176.6" rx="30" ry="0.9" fill="#ffffff" transform="rotate(-2.2 1405.4 176.6)"/>
<ellipse cx="1405.4" cy="176.6" rx="12" ry="1.3" fill="#3060f0" transform="rotate(-2.2 1405.4 176.6)"/>
<ellipse cx="1405.4" cy="176.6" rx="5" ry="1" fill="#ffffff" transform="rotate(-2.2 1405.4 176.6)"/>
<polyline fill="none" stroke="#0c0c9c" stroke-width="1.8" stroke-linejoin="round" marker-start="url(#m2)" marker-mid="url(#m2)" marker-end="url(#m2)" points="1393.4,256.3 1378.5,245.4 1364.9,234.7 1353.8,226.5 1344.1,219.5 1335.7,214.6 1328.6,209.8 1322.1,205.5 1316.3,201.6 1311.1,197.7 1306.6,193.6 1302.7,189.3 1299.4,184.8 1297.1,179.6 1296.2,174.4 1296.8,169.2 1299.2,164 1303.3,158.2 1308.5,153.7 1314.3,149.5 1320.2,146.6 1326.6,143.6 1333.8,141 1340.9,139.2 1348.7,137.9 1356.4,137.1 1364.2,137.5 1372,138.4 1379.8,139.7 1387.5,141.4 1394.7,143.1 1401.8,144.6 1408.3,146.6 1414.7,148.2 1420.6,150.1 1426.4,152.1 1432.2,153.9 1438.1,156 1443.9,157.8 1449.7,159.5 1454.9,161.2 1461.4,160.2 1467.8,158.6 1474.3,157.3 1480.8,156.3 1487.3,155.4 1493.8,154.7 1500.2,154.5 1506.1,154.7 1511.9,155.6 1517.1,157.6 1521.6,160.4 1525.5,164.7 1528.1,169.9 1528.7,175.1 1527.7,180.2 1525.5,184.8 1522.3,188.7 1517.7,192.5 1512.5,195.8 1506.7,198.8 1500.2,201.4 1493.8,203.6 1487.3,205.5 1480.2,207.8 1473,209.4 1465.3,210.9 1457.5,212 1449.7,212.6 1441.9,212.8 1434.2,212.6 1426.4,212 1419.3,210.7 1412.1,209.1 1405.7,207.4 1399.2,205.2 1392.7,202.9 1386.9,200.6 1381,197.7 1375.9,195.8 1370.7,193.8"/>
<polyline fill="none" stroke="#0c0c9c" stroke-width="1.8" stroke-linejoin="round" marker-start="url(#m2)" marker-mid="url(#m2)" marker-end="url(#m2)" points="1393.4,256.3 1409.6,247.6 1422.5,230.1 1432.9,218.7 1440.6,209.4 1447.1,204.2 1452.3,199.7 1457.5,195.8 1462.7,192.5 1467.8,190"/>
<polyline fill="none" stroke="#1c1512" stroke-width="1.8" stroke-linejoin="round" marker-start="url(#m7)" marker-mid="url(#m7)" marker-end="url(#m7)" points="745.2,342.2 775.1,361.1 795,378.9 811.1,394.6 819.6,409.2 822.5,424 817.7,440.1 807.3,453.9 793.1,462.2 775.1,467.5 755.3,470 736.3,470.9 717.4,469.8 698.5,467.9 680.5,465.3 663.4,463.7 646.4,460.9 632.2,457.1 619.9,448.6 611.7,437.2 608.5,424.4 611.4,412.6 618,402.2 628.4,393.3 643.2,384.6 661,376.7 681.8,370.4 705.1,366.8 728.7,365.9 752,368.7 773.8,373.4 794.1,377.6 812.1,381 828.2,385.2 843.3,389.3 857.5,391.2 868.9,394.8 880.2,396.5 891.6,399.4 901,401.3 910.5,402.8 918.1,404.7 925.7,406.6 932.3,408.5 938.9,410.7 944.6,413 950.3,415.5 956,418.3 959.7,421.1 961.6,424 959.7,427.8 954.1,430.6 948.4,432.5 940.8,434.4 933.2,436.3 925.7,438.2 920,439.5 912.4,441.4 904.8,443.3 896.3,445.4 886.8,448 876.4,449.9 864.1,453.9 851.8,457.1 836.7,459.4 820.6,463.7 803.5,466.2 785.5,469.1 766.6,469.8 755.3,470.9 736.3,471.3 717.4,470.9 700.3,465.6 683.3,456.2 671.9,449.5 660.6,444.8 653,441 645.4,437.2 638.8,431.6 635,425.9"/>
<polyline fill="none" stroke="#1c1512" stroke-width="1.8" stroke-linejoin="round" marker-start="url(#m7)" marker-mid="url(#m7)" marker-end="url(#m7)" points="635,425.9 637.9,418.3 644.5,411.7 651.1,405.1 660.6,399.4 671.9,392.7 685.8,389 700.3,386.5 715.5,387.1 730.3,389.3 743.9,391.8 755.8,396 766.6,400.3 774.2,404.1 781.8,407.9 787.4,412.2 791.2,417.4 793.1,424 791.2,431.6 785.5,438.2 779.9,444.8 774.2,450.5 763.8,455.2 751.5,459.6 735.4,464.3 717.4,465.6 700.3,463.7 685.2,458.1 671.9,450.9 660.6,443.9 649.2,437.2 639.8,430.6 633.1,424"/>
<polyline fill="none" stroke="#241812" stroke-width="1.1" stroke-linejoin="round" marker-start="url(#m8)" marker-mid="url(#m8)" marker-end="url(#m8)" points="793.1,424 792.5,426.1 791.2,427.8 789.4,429.2 787.6,430.3 785.6,431.3 783.6,432.2 781.5,432.9 779.4,433.7 777.3,434.3 775.2,434.9 773.1,435.4 770.9,435.9 768.8,436.4 766.6,436.8 764.5,437.3 762.3,437.6 760.1,438 758,438.3 755.8,438.6 753.6,438.9 751.4,439.2 749.2,439.4 747,439.7 744.9,439.9 742.7,440.1 740.5,440.3 738.3,440.5 736.1,440.6 733.9,440.7 731.7,440.9 729.5,441 727.3,441.1 725.1,441.2 722.9,441.2 720.7,441.3 718.5,441.3 716.3,441.4 714.1,441.4 711.9,441.4 709.7,441.4 707.5,441.4 705.3,441.4 703.1,441.3 700.9,441.3 698.7,441.2 696.5,441.1 694.3,441 692.1,440.9 689.9,440.8 687.7,440.6 685.5,440.5 683.3,440.3 681.1,440.1 679,439.9 676.8,439.7 674.6,439.5 672.4,439.2 670.2,439 668,438.7 665.8,438.4 663.7,438.1 661.5,437.7 659.3,437.3 657.2,436.9 655,436.5 652.9,436 650.7,435.5 648.6,435 646.5,434.4 644.4,433.8 642.3,433.1 640.2,432.3 638.2,431.5 636.2,430.5 634.3,429.4 632.5,428.1 631.1,426.4 630.3,424.4 630.7,422.2 632,420.5 633.7,419 635.5,417.9 637.5,416.8 639.5,416 641.5,415.2 643.6,414.4 645.7,413.8 647.8,413.2 649.9,412.6 652.1,412.1 654.2,411.7 656.4,411.2 658.6,410.8 660.7,410.4 662.9,410.1 665.1,409.7 667.2,409.4 669.4,409.1 671.6,408.8 673.8,408.6 676,408.3 678.2,408.1 680.4,407.9 682.5,407.7 684.7,407.6 686.9,407.4 689.1,407.3 691.3,407.1 693.5,407 695.7,406.9 697.9,406.8 700.1,406.7 702.3,406.7 704.5,406.6 706.7,406.6 708.9,406.6 711.1,406.6 713.3,406.6 715.5,406.6 717.7,406.6 719.9,406.7 722.1,406.7 724.3,406.8 726.5,406.9 728.7,407 730.9,407.1 733.1,407.2 735.3,407.3 737.5,407.5 739.7,407.6 741.9,407.8 744.1,408 746.3,408.2 748.4,408.4 750.6,408.7 752.8,409 755,409.2 757.2,409.5 759.4,409.9 761.5,410.2 763.7,410.6 765.9,411 768,411.4 770.2,411.9 772.3,412.4 774.5,412.9 776.6,413.5 778.7,414.1 780.8,414.8 782.8,415.5 784.9,416.4 786.9,417.3 788.8,418.4 790.6,419.7 792.1,421.2 793,423.2"/>
<polyline fill="none" stroke="#241812" stroke-width="1.1" stroke-linejoin="round" marker-start="url(#m8)" marker-mid="url(#m8)" marker-end="url(#m8)" points="792.2,424 791.6,426.1 790.1,427.7 788.4,429.1 786.5,430.2 784.5,431.2 782.5,432 780.4,432.8 778.3,433.4 776.2,434.1 774.1,434.6 772,435.1 769.8,435.6 767.7,436.1 765.5,436.5 763.3,436.9 761.2,437.2 759,437.6 756.8,437.9 754.6,438.2 752.5,438.5 750.3,438.7 748.1,439 745.9,439.2 743.7,439.4 741.5,439.6 739.3,439.7 737.1,439.9 734.9,440 732.7,440.1 730.5,440.3 728.3,440.4 726.1,440.4 723.9,440.5 721.7,440.6 719.5,440.6 717.3,440.6 715.1,440.6 712.9,440.6 710.7,440.6 708.5,440.6 706.3,440.6 704.1,440.5 701.9,440.5 699.7,440.4 697.5,440.3 695.3,440.2 693.1,440.1 691,439.9 688.8,439.8 686.6,439.6 684.4,439.5 682.2,439.3 680,439 677.8,438.8 675.6,438.6 673.4,438.3 671.2,438 669.1,437.7 666.9,437.4 664.7,437 662.6,436.7 660.4,436.2 658.2,435.8 656.1,435.3 653.9,434.8 651.8,434.3 649.7,433.7 647.6,433 645.5,432.3 643.5,431.5 641.5,430.6 639.5,429.6 637.7,428.3 636.1,426.8 635.1,424.8 635.3,422.7 636.4,420.8 638.1,419.4 639.9,418.2 641.9,417.2 643.9,416.3 646,415.5 648,414.8 650.1,414.2 652.3,413.6 654.4,413 656.5,412.5 658.7,412.1 660.8,411.6 663,411.2 665.2,410.9 667.4,410.5 669.5,410.2 671.7,409.9 673.9,409.6 676.1,409.3 678.3,409.1 680.4,408.9 682.6,408.7 684.8,408.5 687,408.3 689.2,408.1 691.4,408 693.6,407.9 695.8,407.8 698,407.7 700.2,407.6 702.4,407.5 704.6,407.4 706.8,407.4 709,407.4 711.2,407.3 713.4,407.3 715.6,407.3 717.8,407.4 720,407.4 722.2,407.4 724.4,407.5 726.6,407.6 728.8,407.6 731,407.7 733.2,407.9 735.4,408 737.6,408.1 739.8,408.3 742,408.5 744.2,408.6 746.4,408.8 748.5,409.1 750.7,409.3 752.9,409.6 755.1,409.8 757.3,410.1 759.5,410.5 761.6,410.8 763.8,411.2 766,411.6 768.1,412 770.3,412.4 772.4,412.9 774.5,413.5 776.7,414.1 778.8,414.7 780.9,415.4 782.9,416.1 784.9,417 786.9,418 788.8,419.1 790.5,420.5 791.8,422.3 792.2,424"/>
<polyline fill="none" stroke="#241812" stroke-width="1.1" stroke-linejoin="round" marker-start="url(#m8)" marker-mid="url(#m8)" marker-end="url(#m8)" points="792.2,424 791.5,426.1 790.1,427.7 788.3,429 786.4,430.1 784.4,431 782.3,431.8 780.3,432.5 778.2,433.2 776.1,433.8 773.9,434.3 771.8,434.8 769.6,435.3 767.5,435.7 765.3,436.1 763.1,436.5 761,436.9 758.8,437.2 756.6,437.5 754.4,437.7 752.2,438 750.1,438.2 747.9,438.5 745.7,438.7 743.5,438.8 741.3,439 739.1,439.2 736.9,439.3 734.7,439.4 732.5,439.5 730.3,439.6 728.1,439.7 725.9,439.8 723.7,439.8 721.5,439.9 719.3,439.9 717.1,439.9 714.9,439.9 712.7,439.9 710.5,439.8 708.3,439.8 706.1,439.7 703.9,439.7 701.7,439.6 699.5,439.5 697.3,439.4 695.1,439.2 692.9,439.1 690.7,438.9 688.5,438.8 686.4,438.6 684.2,438.4 682,438.1 679.8,437.9 677.6,437.6 675.4,437.4 673.2,437.1 671.1,436.7 668.9,436.4 666.7,436 664.6,435.6 662.4,435.1 660.3,434.7 658.1,434.1 656,433.6 653.9,433 651.8,432.3 649.7,431.5 647.7,430.7 645.7,429.7 643.9,428.5 642.2,427.1 641,425.3 640.8,423.1 641.9,421.2 643.5,419.7 645.3,418.5 647.3,417.5 649.3,416.6 651.3,415.9 653.4,415.2 655.5,414.5 657.7,414 659.8,413.4 661.9,412.9 664.1,412.5 666.3,412.1 668.4,411.7 670.6,411.3 672.8,411 674.9,410.7 677.1,410.4 679.3,410.1 681.5,409.9 683.7,409.6 685.9,409.4 688.1,409.2 690.3,409.1 692.4,408.9 694.6,408.8 696.8,408.6 699,408.5 701.2,408.4 703.4,408.3 705.6,408.2 707.8,408.2 710,408.1 712.2,408.1 714.4,408.1 716.6,408.1 718.8,408.1 721,408.1 723.2,408.1 725.4,408.2 727.6,408.3 729.8,408.3 732,408.4 734.2,408.5 736.4,408.6 738.6,408.8 740.8,408.9 743,409.1 745.2,409.3 747.4,409.5 749.6,409.7 751.8,409.9 753.9,410.2 756.1,410.4 758.3,410.7 760.5,411.1 762.7,411.4 764.8,411.8 767,412.1 769.2,412.6 771.3,413 773.5,413.5 775.6,414.1 777.7,414.6 779.8,415.3 781.9,416 783.9,416.8 786,417.7 787.9,418.7 789.7,420 791.3,421.5 792.1,423.5"/>
<polyline fill="none" stroke="#4a2e1e" stroke-width="1.0" stroke-linejoin="round" marker-start="url(#m9)" marker-mid="url(#m9)" marker-end="url(#m9)" points="795.6,423.6 794.1,427.3 791.2,429.9 787.7,431.9 784,433.5 780.3,434.9 776.4,436 772.6,437 768.7,437.8 764.7,438.5 760.8,439.2 756.8,439.7 752.8,440.2 748.9,440.6 744.9,440.9 740.9,441.2 736.9,441.4 732.9,441.5 728.9,441.6 724.9,441.6 720.9,441.5 716.9,441.4 712.9,441.3 708.9,441.1 704.9,440.8 700.9,440.4 696.9,440 693,439.5 689,438.9 685.1,438.2 681.2,437.4 677.3,436.5 673.4,435.4 669.6,434.2 665.9,432.7 662.3,430.9 659,428.7 656.6,425.5 656.7,421.6 659.1,418.5 662.4,416.2 666,414.4 669.7,413 673.5,411.8 677.4,410.7 681.3,409.8 685.2,409 689.1,408.3 693.1,407.7 697,407.2 701,406.8 705,406.5 709,406.2 713,405.9 717,405.8 721,405.7 725,405.6 729,405.6 733,405.7 737,405.9 741,406 745,406.3 749,406.6 752.9,407 756.9,407.5 760.9,408.1 764.8,408.7 768.7,409.4 772.7,410.3 776.5,411.3 780.4,412.4 784.1,413.7 787.8,415.3 791.2,417.4 794.2,420 795.6,423.6"/>
<ellipse cx="725.9" cy="423.6" rx="69" ry="16.8" fill="#4a3020"/>
<ellipse cx="725.9" cy="423.6" rx="66.5" ry="16" fill="#6a452e"/>
<ellipse cx="725.9" cy="423.6" rx="63" ry="15" fill="#8e6040"/>
<ellipse cx="725.9" cy="423.6" rx="59" ry="14" fill="#b07850"/>
<ellipse cx="725.9" cy="423.6" rx="55" ry="13.2" fill="#d99764"/>
<ellipse cx="725.9" cy="423.6" rx="51" ry="12.4" fill="#f4ab70"/>
<ellipse cx="725.9" cy="423.6" rx="45" ry="10.8" fill="#ffb87e"/>
<ellipse cx="722.9" cy="423.4" rx="31" ry="4.6" fill="#b07a54" transform="rotate(-1 722.9 423.4)"/>
<ellipse cx="720.9" cy="423.4" rx="25" ry="3.4" fill="#5a3a28" transform="rotate(-1 720.9 423.4)"/>
<ellipse cx="717.9" cy="423.4" rx="16" ry="2.4" fill="#2a1a12" transform="rotate(-1 717.9 423.4)"/>
<ellipse cx="716.7" cy="423.4" rx="2" ry="1.5" fill="#ffffff"/>
<polyline fill="none" stroke="#1c1512" stroke-width="1.8" stroke-linejoin="round" marker-start="url(#m7)" marker-mid="url(#m7)" marker-end="url(#m7)" clip-path="url(#cR2)" points="1098.6,386.5 1107,384.1 1115.3,381 1124.2,378.6 1133.7,375.3 1144,372.2 1155.5,368.1 1167.2,364.3 1179.9,359.5 1193.5,353.8 1209.1,347.1 1225.3,339.4 1244,329.1 1264.8,316 1276.8,308.8"/>
<polyline fill="none" stroke="#1c1512" stroke-width="1.8" stroke-linejoin="round" marker-start="url(#m7)" marker-mid="url(#m7)" marker-end="url(#m7)" clip-path="url(#cR2)" points="1464.5,306.4 1470.5,312.9 1482.4,326 1500.9,344 1515.2,358.6 1527.2,371 1536.7,381.3 1543.9,390.8 1550.1,400.4 1554.4,408.1 1556.8,415.7 1557.8,423.1 1556.3,431.3 1553.2,439.1 1548.7,446.8 1542.7,454.2 1536.3,461.2 1527.9,467.4 1518.3,473.3 1507.3,477.4 1495.6,481.2 1483.2,484.6 1470.5,486.7 1457.3,487.9 1444.2,488.4 1430.5,488.2 1416.7,487 1403.5,485.1 1391.1,482.2 1378.9,478.6 1367.6,475 1357.4,470.7 1347.8,465.9 1338.9,460.7 1330.6,455.9 1323.4,451.1 1316.2,446.3 1310.2,441.5 1305.5,436.8 1300.7,430.8 1297.1,424.8 1295.4,418.8 1297.1,412.8 1300.7,406.9 1306.7,400.9 1313.8,395.4 1322.2,390.1 1331.8,384.9 1342.5,379.8 1353.3,375.1 1362.9,371 1373.6,366.9 1385.6,363.1 1397.5,360.2 1410.7,358.3 1424.3,358.3 1437.7,360.2 1450.2,366.7 1460.9,373.9 1470.5,381.7 1478.9,389.6 1486,398.5 1492,408.1 1495.6,416.4 1497.3,423.6 1495.6,432 1492,439.1 1487.2,446.3 1480.1,453.5 1472.9,460.7 1463.3,466.7 1452.5,472.6 1440.6,477.4 1427.4,480.3 1414.3,481.7 1403.5,481 1391.6,479.3 1379.6,475 1367.6,469 1358.1,463.1 1348.5,454.7 1338.9,446.3 1330.6,439.1 1323.4,432 1319.8,424.8 1318.6,417.6 1321,410.4 1325.8,404.5 1334.2,398.5 1344.9,391.3 1355.7,385.3 1366.4,380.6 1378.4,376.5 1390.4,374.6 1402.3,374.1 1411.9,375.1 1421.5,377.7 1429.8,381.7 1438.2,386.5 1445.4,392.5 1452.5,398.5 1458.5,404.5 1463.3,411.6 1465.7,418.8 1465.7,426 1463.3,433.2 1458.5,441.5 1452.5,449.9 1446.6,459.5 1438.2,469 1428.6,478.6 1415.5,483.4 1403.5,484.6"/>
<polyline fill="none" stroke="#2c1d15" stroke-width="1.1" stroke-linejoin="round" marker-start="url(#m10)" marker-mid="url(#m10)" marker-end="url(#m10)" points="1478.1,420.5 1477.4,423.4 1475.8,425.9 1473.7,428 1471.3,429.8 1468.7,431.3 1466,432.6 1463.2,433.8 1460.4,434.8 1457.6,435.8 1454.7,436.6 1451.8,437.3 1448.9,438 1445.9,438.6 1443,439.2 1440,439.7 1437,440.1 1434.1,440.5 1431.1,440.8 1428.1,441.1 1425.1,441.4 1422.1,441.6 1419.1,441.8 1416.1,441.9 1413.1,442 1410.1,442.1 1407.1,442.1 1404.1,442.1 1401.1,442.1 1398.1,442 1395.1,441.9 1392.1,441.8 1389.1,441.6 1386.1,441.4 1383.2,441.1 1380.2,440.9 1377.2,440.5 1374.2,440.2 1371.2,439.8 1368.3,439.4 1365.3,438.9 1362.3,438.4 1359.4,437.8 1356.5,437.2 1353.5,436.5 1350.6,435.8 1347.7,435 1344.8,434.2 1342,433.3 1339.2,432.3 1336.4,431.2 1333.6,430 1330.9,428.7 1328.3,427.2 1325.8,425.6 1323.5,423.7 1321.5,421.4 1320,418.9 1319.4,415.9 1320,413 1321.5,410.5 1323.6,408.3 1326,406.5 1328.6,405 1331.3,403.7 1334,402.5 1336.9,401.4 1339.7,400.5 1342.6,399.7 1345.5,398.9 1348.4,398.2 1351.3,397.6 1354.3,397.1 1357.3,396.6 1360.2,396.1 1363.2,395.7 1366.2,395.4 1369.2,395.1 1372.1,394.8 1375.1,394.6 1378.1,394.4 1381.1,394.3 1384.1,394.2 1387.1,394.1 1390.1,394.1 1393.1,394.1 1396.1,394.1 1399.1,394.2 1402.1,394.3 1405.1,394.4 1408.1,394.6 1411.1,394.8 1414.1,395 1417.1,395.3 1420.1,395.6 1423.1,396 1426,396.4 1429,396.8 1432,397.3 1434.9,397.8 1437.9,398.4 1440.8,399 1443.7,399.6 1446.6,400.3 1449.5,401.1 1452.4,401.9 1455.3,402.9 1458.1,403.8 1460.9,404.9 1463.7,406.1 1466.4,407.4 1469,408.9 1471.5,410.5 1473.8,412.4 1475.9,414.6 1477.4,417.1 1478.1,420"/>
<polyline fill="none" stroke="#33221a" stroke-width="1.1" stroke-linejoin="round" marker-start="url(#m11)" marker-mid="url(#m11)" marker-end="url(#m11)" points="1470.9,421.9 1470.1,424.8 1468.3,427.2 1466.1,429.2 1463.5,430.8 1460.9,432.2 1458.1,433.3 1455.3,434.4 1452.4,435.3 1449.6,436.1 1446.6,436.8 1443.7,437.4 1440.8,438 1437.8,438.4 1434.8,438.9 1431.9,439.3 1428.9,439.6 1425.9,439.9 1422.9,440.1 1419.9,440.3 1416.9,440.4 1413.9,440.5 1410.9,440.6 1407.9,440.6 1404.9,440.6 1401.9,440.6 1398.9,440.5 1395.9,440.4 1392.9,440.3 1389.9,440.1 1386.9,439.9 1383.9,439.6 1381,439.3 1378,439 1375,438.6 1372,438.2 1369,437.8 1366.1,437.3 1363.1,436.8 1360.2,436.3 1357.2,435.6 1354.3,435 1351.4,434.3 1348.5,433.5 1345.6,432.7 1342.8,431.8 1339.9,430.8 1337.1,429.8 1334.3,428.6 1331.6,427.3 1329,425.9 1326.4,424.3 1324,422.5 1321.9,420.4 1320.2,417.9 1319.4,415.1 1319.9,412.1 1321.5,409.6 1323.6,407.5 1326.1,405.8 1328.7,404.4 1331.5,403.1 1334.3,402.1 1337.1,401.1 1340,400.3 1342.9,399.6 1345.9,398.9 1348.8,398.4 1351.8,397.9 1354.7,397.4 1357.7,397 1360.7,396.7 1363.7,396.4 1366.7,396.2 1369.7,396 1372.6,395.8 1375.6,395.7 1378.6,395.6 1381.6,395.6 1384.6,395.6 1387.6,395.6 1390.6,395.7 1393.6,395.8 1396.6,395.9 1399.6,396.1 1402.6,396.3 1405.6,396.5 1408.6,396.8 1411.6,397.1 1414.6,397.5 1417.5,397.9 1420.5,398.3 1423.5,398.7 1426.4,399.3 1429.4,399.8 1432.3,400.4 1435.2,401 1438.2,401.7 1441.1,402.5 1444,403.3 1446.8,404.2 1449.7,405.1 1452.5,406.2 1455.3,407.3 1458,408.6 1460.7,409.9 1463.2,411.5 1465.7,413.2 1467.9,415.2 1469.7,417.6 1470.8,420.4 1470.9,421.9"/>
<polyline fill="none" stroke="#3a281e" stroke-width="1.1" stroke-linejoin="round" marker-start="url(#m12)" marker-mid="url(#m12)" marker-end="url(#m12)" points="1464.3,423.2 1463.3,426.3 1461,428.7 1458.3,430.6 1455.4,432.1 1452.4,433.4 1449.2,434.4 1446.1,435.3 1442.8,436 1439.6,436.7 1436.4,437.2 1433.1,437.7 1429.8,438.1 1426.5,438.4 1423.2,438.7 1419.9,438.9 1416.7,439.1 1413.4,439.2 1410.1,439.2 1406.8,439.2 1403.5,439.2 1400.2,439.1 1396.9,439 1393.6,438.8 1390.3,438.6 1387,438.3 1383.7,438.1 1380.4,437.7 1377.1,437.3 1373.9,436.9 1370.6,436.4 1367.3,435.9 1364.1,435.3 1360.8,434.7 1357.6,434 1354.4,433.3 1351.2,432.5 1348,431.7 1344.8,430.7 1341.7,429.7 1338.6,428.6 1335.5,427.4 1332.5,426.1 1329.6,424.6 1326.7,422.9 1324.1,420.9 1321.7,418.6 1320,415.8 1319.6,412.6 1320.8,409.6 1323.1,407.2 1325.9,405.4 1328.8,403.9 1331.9,402.7 1335,401.7 1338.2,400.8 1341.4,400.1 1344.7,399.4 1347.9,398.9 1351.2,398.4 1354.5,398 1357.7,397.7 1361,397.5 1364.3,397.3 1367.6,397.1 1370.9,397 1374.2,397 1377.5,397 1380.8,397 1384.1,397.1 1387.4,397.2 1390.7,397.4 1394,397.6 1397.3,397.9 1400.6,398.2 1403.9,398.5 1407.1,398.9 1410.4,399.4 1413.7,399.8 1416.9,400.4 1420.2,400.9 1423.4,401.6 1426.6,402.3 1429.9,403 1433.1,403.8 1436.2,404.7 1439.4,405.6 1442.5,406.6 1445.7,407.7 1448.7,409 1451.7,410.3 1454.7,411.8 1457.5,413.6 1460.1,415.5 1462.4,417.9 1464,420.8 1464.3,423.2"/>
<polyline fill="none" stroke="#241812" stroke-width="1.1" stroke-linejoin="round" marker-start="url(#m13)" marker-mid="url(#m13)" marker-end="url(#m13)" points="1435.1,423.6 1434.7,426 1433.8,428.2 1432.7,430.3 1431.3,432.3 1429.8,434.2 1428.2,435.9 1426.4,437.5 1424.6,439.1 1422.6,440.5 1420.6,441.8 1418.6,443 1416.5,444.2 1414.3,445.2 1412.1,446.1 1409.8,446.9 1407.5,447.6 1405.2,448.2 1402.8,448.6 1400.4,448.9 1398,448.9 1395.7,448.6 1393.3,448.2 1391,447.6 1388.7,446.9 1386.4,446.1 1384.2,445.2 1382,444.2 1379.9,443.1 1377.8,441.8 1375.8,440.5 1373.9,439.1 1372,437.6 1370.3,435.9 1368.6,434.2 1367.1,432.3 1365.8,430.3 1364.6,428.2 1363.8,426 1363.3,423.6 1363.7,421.3 1364.6,419 1365.7,416.9 1367.1,414.9 1368.6,413.1 1370.2,411.3 1372,409.7 1373.8,408.2 1375.8,406.7 1377.8,405.4 1379.8,404.2 1381.9,403.1 1384.1,402 1386.3,401.1 1388.6,400.3 1390.9,399.6 1393.2,399 1395.6,398.6 1398,398.3 1400.3,398.3 1402.7,398.6 1405.1,399 1407.4,399.6 1409.7,400.3 1412,401.1 1414.2,402 1416.4,403 1418.5,404.1 1420.6,405.3 1422.6,406.7 1424.5,408.1 1426.4,409.6 1428.1,411.2 1429.8,413 1431.3,414.8 1432.6,416.8 1433.8,418.9 1434.6,421.2 1435.1,423.5"/>
<polyline fill="none" stroke="#2a1c14" stroke-width="1.1" stroke-linejoin="round" marker-start="url(#m14)" marker-mid="url(#m14)" marker-end="url(#m14)" points="1440.1,422.4 1439.5,424.9 1438.3,427.2 1436.8,429.3 1434.9,431.1 1432.9,432.8 1430.8,434.3 1428.6,435.7 1426.3,436.9 1424,438.1 1421.6,439.1 1419.2,440 1416.7,440.8 1414.2,441.5 1411.7,442.1 1409.1,442.6 1406.5,443 1404,443.3 1401.4,443.4 1398.8,443.4 1396.2,443.2 1393.6,442.8 1391,442.4 1388.5,441.8 1386,441.2 1383.5,440.4 1381,439.6 1378.6,438.6 1376.2,437.6 1373.9,436.4 1371.7,435.1 1369.5,433.7 1367.4,432.1 1365.5,430.3 1363.8,428.4 1362.4,426.2 1361.4,423.8 1361.3,421.2 1362.3,418.8 1363.6,416.6 1365.3,414.7 1367.2,412.9 1369.3,411.3 1371.5,409.8 1373.7,408.5 1376,407.3 1378.4,406.3 1380.8,405.3 1383.2,404.4 1385.7,403.7 1388.2,403 1390.8,402.5 1393.3,402 1395.9,401.7 1398.5,401.4 1401.1,401.4 1403.7,401.5 1406.3,401.8 1408.9,402.2 1411.4,402.7 1413.9,403.3 1416.5,403.9 1418.9,404.7 1421.4,405.6 1423.8,406.6 1426.1,407.8 1428.4,409 1430.6,410.3 1432.7,411.8 1434.7,413.5 1436.6,415.3 1438.2,417.4 1439.4,419.7 1440.1,422.2"/>
<ellipse cx="1401.6" cy="423.6" rx="39" ry="11.8" fill="#3a2418"/>
<ellipse cx="1401.6" cy="423.6" rx="36.5" ry="10.8" fill="#4a2e20"/>
<ellipse cx="1401.6" cy="423.6" rx="34" ry="10" fill="#5e3c28"/>
<ellipse cx="1401.6" cy="423.6" rx="31.5" ry="9.2" fill="#7a5034"/>
<ellipse cx="1401.6" cy="423.6" rx="29" ry="8.4" fill="#9a6844"/>
<ellipse cx="1401.6" cy="423.6" rx="26.5" ry="7.6" fill="#c08858"/>
<ellipse cx="1401.6" cy="423.6" rx="24" ry="6.8" fill="#e4a06a"/>
<ellipse cx="1401.6" cy="423.6" rx="21" ry="5.8" fill="#f8b078"/>
<ellipse cx="1401.6" cy="423.6" rx="15" ry="4" fill="#ffc08a"/>
<polyline fill="none" stroke="#0ae6f2" stroke-width="1.9" stroke-linejoin="round" marker-start="url(#m15)" marker-mid="url(#m15)" marker-end="url(#m15)" clip-path="url(#cL3)" points="745.3,777.6 701.9,768.8 663.2,758.8 627.2,751.5 594.6,744.6 565.3,734.7 541,720.5 524.1,702.3 513.8,685.1 510.5,669.2 513.6,655.2 522.2,642.2 536.2,629.7 554.8,618.2 578.1,607.1 606.3,595.6 639.8,584.5 676.4,575.7 716,574 753.8,579.3 789,588.7 819.8,599.8 845.7,611.3 866.6,622.4 883.4,633.9 894.9,645.4 902.2,656.9 904.9,668.2 901.8,677.2 896.6,683.5 890.3,687.7 881.9,690.8 872.9,691.8 863.1,692.3 853.2,692.5 843.2,692.9 833.2,693.5 823.3,692.3 813.9,691.8 803.4,694.3 793,699.2 782.5,704.4 767.9,710.3 751.1,715.9 733.3,720.1 711.4,722.2 686.2,721.1 665.3,716.9 646.5,712.8 629.7,706.5 615.1,700.2 603.6,692.9 594.2,685.6 586.8,678.2 582,670.9 581.6,665.7 586.8,661.5"/>
<polyline fill="none" stroke="#0ae6f2" stroke-width="1.4" stroke-linejoin="round" marker-start="url(#m16)" marker-mid="url(#m16)" marker-end="url(#m16)" points="586.8,661.5 589.9,661.3 593,661 596.1,660.8 599.2,660.6 602.3,660.6 605.4,660.6 608.5,660.5 611.6,660.5 614.7,660.5 617.8,660.4 620.9,660.4 624,660.3 627.1,660.3 630.2,660.2 633.3,660.2 636.4,660.1 639.5,660.1 642.3,660"/>
<polyline fill="none" stroke="#0ae6f2" stroke-width="1.9" stroke-linejoin="round" marker-start="url(#m15)" marker-mid="url(#m15)" marker-end="url(#m15)" points="588.9,657.3 594.2,652.1 602.5,646.2 613,641 625.6,634.7 641.3,627.6 660.1,620.7 681.6,614 705.5,610.9 729.1,613.4 751.1,619.6 770.4,624.9 787.7,630.1 802.4,634.9 816,639.5 826.5,643.7 835.9,646.8 843.2,650.4 851.6,653.8 858.9,657.3 865.2,661.5 869.4,666.7 869.4,670.9 866.2,675.1 859.9,679.3 853.7,682.4 845.3,685.6 834.8,690.8 826.5,693.9 813.9,697.1 799.3,701.3 788.8,704.4 772,709.6 754.3,715.9 733.3,721.1 711.4,721.6 686.2,720.1 665.3,716.9 646.5,711.7 629.7,705.4 616.1,698.1 604.6,691.4 596.3,684.5 588.9,677.2 583.7,670.9 582.7,665.7"/>
<polyline fill="none" stroke="#14e2f4" stroke-width="1.8" stroke-linejoin="round" marker-start="url(#m17)" marker-mid="url(#m17)" marker-end="url(#m17)" points="648.6,658.4 659.6,655.1 670.7,652.3 682.1,650.7 693.5,648.7 704.8,646.9 716.2,645 727.4,642.8 738.8,641.3 750.2,640.7 761.6,639.1 773,638 784.5,637.8 796,638.3 807.2,639.6 817.1,641.2 825.1,643.3 831.8,645.2 837.4,647.3 842.1,649.7 845.9,653 848.9,657 851.2,661.4 851.7,666.3 850.1,671 847.1,675 843.3,678.2 839.1,681 834.6,683.6 829.5,686 823.7,688.2 816.8,690.2 808.6,692.1 799,694 788.1,695.4 776.6,696 765.1,696.7 753.6,697.1 742.1,697.1 730.6,697.1 719.1,697.1 707.6,697.2 696.2,695.7 685.1,692.8 674.3,689.1"/>
<polyline fill="none" stroke="#1cdcf6" stroke-width="1.8" stroke-linejoin="round" marker-start="url(#m18)" marker-mid="url(#m18)" marker-end="url(#m18)" points="746.9,643.7 755.5,644.9 764,646.1 772.6,647.1 781.1,648.3 789.6,649.8 798.1,651.5 806.2,653.2 813.7,654.8 820.2,656.3 825.8,657.8 830.7,659.4 835,660.9 838.9,662.5 842.4,664.2 845.2,666.6 844.8,670.2 842.8,673.4 839.9,675.8 836.6,677.8 833,679.6 829.1,681.4 824.6,683 819.5,684.3 813.7,685.6 807.2,687.1 799.9,688.6 791.8,690 783.3,691.3 774.7,692.2 766.1,692.9 757.5,693.4 748.9,693.9 740.2,694 731.6,694 723,693.8 714.4,693.3 705.8,692.5 697.3,691.2"/>
<polyline fill="none" stroke="#2ccff8" stroke-width="1.2" stroke-linejoin="round" marker-start="url(#m19)" marker-mid="url(#m19)" marker-end="url(#m19)" points="800.3,669.9 799.7,672.8 798,675.3 795.9,677.4 793.5,679.2 790.9,680.7 788.2,682.1 785.5,683.2 782.7,684.3 779.8,685.3 777,686.2 774.1,687 771.2,687.7 768.3,688.4 765.3,689 762.4,689.6 759.4,690.1 756.5,690.6 753.5,691 750.5,691.4 747.5,691.7 744.6,692 741.6,692.3 738.6,692.5 735.6,692.7 732.6,692.9 729.6,693.1 726.6,693.2 723.6,693.2 720.6,693.3 717.6,693.3 714.6,693.3 711.6,693.2 708.6,693.2 705.6,693.1 702.6,692.9 699.6,692.7 696.6,692.5 693.6,692.3 690.6,692 687.6,691.7 684.7,691.4 681.7,691 678.7,690.5 675.8,690.1 672.8,689.6 669.9,689 666.9,688.4 664,687.7 661.1,687 658.2,686.2 655.3,685.3 652.5,684.3 649.7,683.2 647,682 644.3,680.7 641.7,679.1 639.3,677.3 637.2,675.2 635.6,672.7 635,669.8 635.7,666.9 637.3,664.4 639.4,662.3 641.9,660.5 644.4,659 647.1,657.6 649.9,656.4 652.7,655.4 655.5,654.4 658.4,653.5 661.3,652.7 664.2,652 667.1,651.3 670,650.7 673,650.1 675.9,649.6 678.9,649.2 681.9,648.7 684.8,648.4 687.8,648 690.8,647.7 693.8,647.4 696.8,647.2 699.8,647 702.8,646.8 705.8,646.7 708.8,646.6 711.8,646.5 714.8,646.4 717.8,646.4 720.8,646.4 723.8,646.5 726.8,646.6 729.8,646.7 732.8,646.8 735.8,647 738.8,647.2 741.7,647.4 744.7,647.7 747.7,648 750.7,648.4 753.7,648.8 756.6,649.2 759.6,649.7 762.6,650.2 765.5,650.8 768.4,651.4 771.4,652.1 774.3,652.8 777.2,653.6 780,654.5 782.9,655.5 785.7,656.5 788.4,657.8 791.1,659.1 793.6,660.7 796,662.5 798.2,664.6 799.7,667.1 800.3,669.9"/>
<polyline fill="none" stroke="#38c0ff" stroke-width="1.2" stroke-linejoin="round" marker-start="url(#m20)" marker-mid="url(#m20)" marker-end="url(#m20)" points="801.3,669.7 800.8,671.6 799.5,673.1 798,674.3 796.3,675.4 794.5,676.3 792.7,677.1 790.8,677.8 788.9,678.4 787,679 785.1,679.6 783.1,680.1 781.2,680.6 779.2,681 777.3,681.4 775.3,681.8 773.3,682.2 771.4,682.5 769.4,682.8 767.4,683.1 765.4,683.4 763.5,683.7 761.5,683.9 759.5,684.2 757.5,684.4 755.5,684.6 753.5,684.8 751.5,685 749.5,685.1 747.5,685.3 745.5,685.4 743.6,685.6 741.6,685.7 739.6,685.8 737.6,685.9 735.6,686 733.6,686.1 731.6,686.2 729.6,686.2 727.6,686.3 725.6,686.3 723.6,686.4 721.6,686.4 719.6,686.4 717.6,686.4 715.6,686.4 713.6,686.4 711.6,686.4 709.6,686.3 707.6,686.3 705.6,686.2 703.6,686.2 701.6,686.1 699.6,686 697.6,685.9 695.6,685.8 693.6,685.7 691.6,685.6 689.6,685.4 687.6,685.3 685.6,685.1 683.6,685 681.6,684.8 679.6,684.6 677.6,684.4 675.7,684.1 673.7,683.9 671.7,683.6 669.7,683.4 667.7,683.1 665.7,682.8 663.8,682.5 661.8,682.1 659.8,681.8 657.9,681.4 655.9,681 654,680.5 652,680 650.1,679.5 648.2,679 646.3,678.4 644.4,677.7 642.5,677 640.7,676.2 638.9,675.3 637.2,674.3 635.6,673 634.4,671.4 633.9,669.5 634.5,667.6 635.8,666.1 637.4,664.9 639.1,663.9 640.9,663 642.7,662.2 644.6,661.5 646.5,660.8 648.4,660.2 650.4,659.7 652.3,659.2 654.2,658.7 656.2,658.3 658.1,657.9 660.1,657.5 662.1,657.1 664,656.8 666,656.5 668,656.2 670,655.9 672,655.6 673.9,655.4 675.9,655.1 677.9,654.9 679.9,654.7 681.9,654.5 683.9,654.3 685.9,654.2 687.9,654 689.9,653.9 691.9,653.7 693.9,653.6 695.9,653.5 697.9,653.4 699.8,653.3 701.8,653.2 703.8,653.1 705.8,653.1 707.8,653 709.8,653 711.8,653 713.8,652.9 715.8,652.9 717.8,652.9 719.8,652.9 721.8,652.9 723.8,653 725.8,653 727.8,653 729.8,653.1 731.8,653.2 733.8,653.2 735.8,653.3 737.8,653.4 739.8,653.5 741.8,653.6 743.8,653.8 745.8,653.9 747.8,654 749.8,654.2 751.8,654.4 753.8,654.6 755.8,654.8 757.8,655 759.8,655.2 761.7,655.4 763.7,655.7 765.7,656 767.7,656.2 769.7,656.5 771.6,656.9 773.6,657.2 775.6,657.6 777.5,658 779.5,658.4 781.4,658.8 783.4,659.3 785.3,659.8 787.2,660.4 789.2,661 791,661.6 792.9,662.3 794.7,663.1 796.5,664.1 798.2,665.1 799.7,666.4 800.9,668 801.3,669.7"/>
<ellipse cx="717.2" cy="669.7" rx="78" ry="11.5" fill="none" stroke="#3fbaff" stroke-width="9"/>
<ellipse cx="721.2" cy="669.4" rx="66" ry="11.5" fill="none" stroke="#6a9aff" stroke-width="7"/>
<ellipse cx="722.7" cy="669.1" rx="57.5" ry="11" fill="none" stroke="#9a78ff" stroke-width="5"/>
<polygon fill="none" stroke="#ff05e2" stroke-width="8.4" stroke-linejoin="round" points="776.8,668.8 776.8,669.4 776.7,669.9 776.5,670.5 776.2,670.9 775.9,671.4 775.5,671.9 775,672.3 774.5,672.7 773.9,673.2 773.2,673.6 772.4,674 771.6,674.3 770.7,674.7 769.8,675.1 768.7,675.4 767.6,675.8 766.5,676.1 765.3,676.4 764,676.7 762.6,677 761.2,677.3 759.8,677.6 758.2,677.8 756.6,678 755,678.3 753.3,678.5 751.6,678.7 749.8,678.9 747.9,679 746,679.2 744,679.3 742,679.5 740,679.6 737.8,679.7 735.6,679.8 733.4,679.8 731,679.9 728.6,679.9 725.9,679.9 722.8,680 719.7,679.9 717.1,679.9 714.6,679.9 712.3,679.8 710,679.8 707.8,679.7 705.7,679.6 703.6,679.5 701.6,679.3 699.6,679.2 697.7,679 695.9,678.9 694.1,678.7 692.3,678.5 690.6,678.3 689,678 687.4,677.8 685.9,677.6 684.4,677.3 683,677 681.7,676.7 680.4,676.4 679.2,676.1 678,675.8 676.9,675.4 675.9,675.1 674.9,674.7 674,674.3 673.2,674 672.5,673.6 671.8,673.2 671.2,672.7 670.6,672.3 670.1,671.9 669.7,671.4 669.4,670.9 669.1,670.5 669,669.9 668.9,669.4 668.8,668.8 668.9,668.1 669,667.6 669.1,667.1 669.4,666.6 669.7,666.1 670.1,665.6 670.6,665.2 671.2,664.8 671.8,664.4 672.5,663.9 673.2,663.6 674,663.2 674.9,662.8 675.9,662.4 676.9,662.1 678,661.7 679.2,661.4 680.4,661.1 681.7,660.8 683,660.5 684.4,660.2 685.9,660 687.4,659.7 689,659.5 690.6,659.2 692.3,659 694.1,658.8 695.9,658.6 697.7,658.5 699.6,658.3 701.6,658.2 703.6,658 705.7,657.9 707.8,657.8 710,657.7 712.3,657.7 714.6,657.6 717.1,657.6 719.7,657.6 722.8,657.6 725.9,657.6 728.6,657.6 731,657.6 733.4,657.7 735.6,657.7 737.8,657.8 740,657.9 742,658 744,658.2 746,658.3 747.9,658.5 749.8,658.6 751.6,658.8 753.3,659 755,659.2 756.6,659.5 758.2,659.7 759.8,660 761.2,660.2 762.6,660.5 764,660.8 765.3,661.1 766.5,661.4 767.6,661.7 768.7,662.1 769.8,662.4 770.7,662.8 771.6,663.2 772.4,663.6 773.2,663.9 773.9,664.4 774.5,664.8 775,665.2 775.5,665.6 775.9,666.1 776.2,666.6 776.5,667.1 776.7,667.6 776.8,668.1 776.8,668.8"/>
<polyline fill="none" stroke="#20d8f4" stroke-width="1.0" stroke-linejoin="round" marker-start="url(#m21)" marker-mid="url(#m21)" marker-end="url(#m21)" points="718.7,669 716.8,670.5 714.4,671.2 712,671.6 709.5,671.8 707,671.9 704.5,671.9 702,671.8 699.5,671.5 697.1,671 694.7,670.2 693.9,668.4 696.1,667.3 698.6,666.7 701,666.3 703.5,666.2 706,666.1 708.5,666.2 711,666.3 713.5,666.7 715.9,667.2 718.2,668.2"/>
<polyline fill="none" stroke="#28ccf6" stroke-width="1.0" stroke-linejoin="round" marker-start="url(#m22)" marker-mid="url(#m22)" marker-end="url(#m22)" points="740.7,665.7 743,666.6 745.3,667.5 747.5,668.8 749.5,670.2 751.8,669.8 754.1,668.9"/>
<ellipse cx="728.1" cy="668.4" rx="20" ry="3.2" fill="#ffffff"/>
<polyline fill="none" stroke="#0ae6f2" stroke-width="1.9" stroke-linejoin="round" marker-start="url(#m15)" marker-mid="url(#m15)" marker-end="url(#m15)" clip-path="url(#cR3)" points="1710.6,688.1 1707.4,688.6 1699.9,689.6 1691.4,691.1 1682.8,692.8 1674.2,695 1665.7,697.1 1657.1,699.7 1648.5,702.5 1639.9,705.3 1631.4,707.8 1622.8,711 1614.2,714.7 1605.7,718.5 1596,723.9 1586.4,729.3 1574.6,734.6 1560.7,742.1 1546.7,749.6 1531.7,757.1 1514.6,762.5 1495.3,767.4 1476,768.3 1454.6,770 1433.8,768.9 1413.9,764.6 1394.6,758.2 1376.8,750.7 1361,743.2 1346.4,734.6 1333.6,726 1322.9,718.1 1313.2,710 1305.7,701.4 1299.7,694.6 1295,687.5 1291.8,680 1290.3,672.5 1290.7,665 1292.4,657.5 1295.4,650 1300.4,640.3 1307.2,630.7 1316,622.1 1327.1,612.5 1340,605 1353.9,597.1 1370,589.6 1387.1,583.1 1405.3,578.2 1424.6,574.6 1444.5,572.4 1464.3,571.8 1484.2,573.3 1503.9,575.4 1522.7,579.3 1540.7,584 1557.9,588.9 1574.2,594.3 1588.5,600.3 1602,606.7 1614.2,613.6 1624.9,620 1634.2,625.8 1642.5,632.4 1650,638.8 1656,644.6 1660.9,650.6 1665.2,656.4 1668.9,661.3 1671.7,666.5 1672.5,671.4 1671.7,676.8 1668.9,681.1 1664.6,685.3 1659.2,689 1653.9,691.8 1648.5,694.6 1643.2,697.1 1636.7,699.7 1630.3,702.5 1622.8,705.7 1614.2,707.8 1605.7,713.2 1597.1,717.5 1586.4,720.7 1577.8,723.9 1567.1,730.3 1556.4,735.7 1545.7,741 1531.7,748.5 1514.6,756 1495.3,762.5 1476,767.8 1465.3,772.1 1454.6,778.5 1449.3,782.8"/>
<polyline fill="none" stroke="#0ae6f2" stroke-width="1.9" stroke-linejoin="round" marker-start="url(#m15)" marker-mid="url(#m15)" marker-end="url(#m15)" clip-path="url(#cR3)" points="1290.7,672.5 1292.9,684.3 1299.3,704.6 1308.9,727.1 1323.9,763.5 1330.3,778.5 1332.5,783.9"/>
<polyline fill="none" stroke="#0ae6f2" stroke-width="1.9" stroke-linejoin="round" marker-start="url(#m15)" marker-mid="url(#m15)" marker-end="url(#m15)" points="1307.2,630.7 1316,623.2 1325.4,622.6 1335.7,618.3 1346.4,616.1 1357.6,615.3 1367.8,616.1 1377.5,616.8 1388.2,617.4 1398.9,621.1 1409.6,623.6 1418.8,624.9 1427.8,627.5 1436.4,630.3 1443.9,632.8 1450.8,635.4 1457.4,638.8 1464.3,641.4 1469.6,644.6 1474.5,647.8 1478.2,651.1 1482.5,654.3 1485.7,658.6 1488.3,663.9 1489.5,669.3 1488.9,674.6 1486.8,680 1483.5,685.3 1479.3,689.6 1473.9,693.9 1468.5,698.2 1462.1,702.5 1454.6,706.1 1447.1,709.3 1438.1,711.7 1428.5,713.4 1418.8,714.3 1409.6,714.7 1400.4,713.4 1391.4,712.5 1382.4,710 1374.3,707.8 1366.8,705.3 1359.3,701.4 1350.7,697.1 1342.1,691.8 1333.6,686.4 1326.1,680 1319.6,673.6"/>
<polyline fill="none" stroke="#0fe2f4" stroke-width="1.2" stroke-linejoin="round" marker-start="url(#m23)" marker-mid="url(#m23)" marker-end="url(#m23)" points="1486,669.3 1485,674.2 1482.5,678.5 1479.2,682.2 1475.3,685.3 1471.1,688 1466.6,690.3 1462,692.2 1457.3,693.9 1452.5,695.4 1447.7,696.6 1442.8,697.7 1437.9,698.6 1432.9,699.4 1428,700 1423,700.5 1418,700.8 1413,701 1408,701.1 1403,701.1 1398,701 1393,700.7 1388,700.3 1383.1,699.8 1378.1,699.2 1373.2,698.5 1368.2,697.6 1363.3,696.6 1358.5,695.5 1353.6,694.2 1348.9,692.7 1344.1,691.1 1339.5,689.3 1334.9,687.2 1330.5,684.9 1326.2,682.3 1322.2,679.3 1318.6,675.9 1315.5,672 1313.3,667.5 1312.6,662.5 1313.6,657.7 1316,653.3 1319.4,649.6 1323.2,646.4 1327.5,643.8 1331.9,641.5 1336.5,639.5 1341.2,637.8 1346,636.3 1350.8,635.1 1355.7,634 1360.6,633.1 1365.6,632.3 1370.5,631.7 1375.5,631.2 1380.5,630.9 1385.5,630.7 1390.5,630.6 1395.5,630.6 1400.5,630.7 1405.5,631 1410.5,631.3 1415.4,631.8 1420.4,632.4 1425.3,633.2 1430.3,634 1435.2,635 1440,636.2 1444.9,637.4 1449.7,638.9 1454.4,640.5 1459,642.3 1463.6,644.4 1468,646.7 1472.3,649.3 1476.3,652.2 1480,655.6 1483.1,659.6 1485.3,664 1486,669"/>
<polyline fill="none" stroke="#1cdaf5" stroke-width="1.2" stroke-linejoin="round" marker-start="url(#m24)" marker-mid="url(#m24)" marker-end="url(#m24)" points="1473.8,671 1473.1,674.5 1471.4,677.6 1469.1,680.4 1466.4,682.7 1463.4,684.8 1460.3,686.6 1457.1,688.1 1453.7,689.5 1450.3,690.7 1446.9,691.8 1443.4,692.7 1439.9,693.6 1436.4,694.3 1432.9,695 1429.3,695.5 1425.7,696 1422.2,696.4 1418.6,696.8 1415,697 1411.4,697.2 1407.8,697.4 1404.2,697.5 1400.6,697.5 1397,697.4 1393.4,697.3 1389.8,697.2 1386.2,696.9 1382.6,696.6 1379,696.3 1375.5,695.9 1371.9,695.4 1368.3,694.9 1364.8,694.3 1361.3,693.6 1357.7,692.8 1354.2,692 1350.8,691.1 1347.3,690.1 1343.9,689 1340.5,687.8 1337.1,686.4 1333.8,685 1330.6,683.4 1327.5,681.6 1324.5,679.7 1321.6,677.4 1319,675 1316.8,672.1 1315.2,668.9 1314.6,665.4 1315,661.8 1316.5,658.6 1318.7,655.7 1321.4,653.3 1324.3,651.2 1327.4,649.4 1330.6,647.8 1333.9,646.3 1337.3,645.1 1340.7,644 1344.2,643 1347.7,642.1 1351.2,641.4 1354.7,640.7 1358.3,640.1 1361.9,639.6 1365.4,639.2 1369,638.8 1372.6,638.5 1376.2,638.3 1379.8,638.2 1383.4,638.1 1387,638.1 1390.6,638.1 1394.2,638.2 1397.8,638.3 1401.4,638.6 1405,638.8 1408.6,639.2 1412.1,639.6 1415.7,640 1419.3,640.6 1422.8,641.1 1426.4,641.8 1429.9,642.5 1433.4,643.4 1436.9,644.3 1440.3,645.2 1443.8,646.3 1447.2,647.5 1450.5,648.8 1453.8,650.2 1457.1,651.8 1460.2,653.5 1463.3,655.4 1466.2,657.6 1468.8,660 1471.1,662.8 1472.9,665.9 1473.8,669.4"/>
<polyline fill="none" stroke="#14e0f6" stroke-width="5.8" stroke-linecap="round" stroke-linejoin="round" points="1447.1,650 1448.6,650.5 1450.7,651.2 1453.1,652.1 1455.8,653 1458.6,654 1461.4,654.9 1464.1,655.7 1466.4,656.4 1468.5,657 1470.5,657.5 1472.4,657.9 1474.3,658.3 1476.1,658.6 1477.9,659 1479.7,659.3 1481.4,659.6 1483.1,659.9 1484.9,660.2 1486.6,660.4 1488.2,660.6 1489.8,660.9 1491.4,661.1 1492.9,661.4 1494.3,661.8 1495.6,662.2 1496.9,662.7 1498.1,663.2 1499.3,663.7 1500.4,664.3 1501.4,664.9 1502.2,665.5 1502.8,666.1 1503.3,666.7 1503.6,667.3 1503.8,667.9 1503.9,668.6 1503.8,669.3 1503.7,670 1503.5,670.7 1503.3,671.4 1502.9,672.2 1502.5,673 1501.9,673.8 1501.3,674.6 1500.7,675.5 1500,676.3 1499.2,677.1 1498.5,677.8 1497.8,678.6 1497.1,679.3 1496.3,679.9 1495.6,680.6 1494.8,681.3 1493.9,681.9 1493,682.6 1492.1,683.2 1491.2,683.8 1490.2,684.5 1489.1,685.1 1488.1,685.7 1487,686.3 1485.9,686.9 1484.7,687.5 1483.5,688.1 1482.2,688.8 1480.8,689.4 1479.2,690.1 1477.6,690.8 1476.2,691.4 1474.8,692 1473.7,692.5 1472.8,692.8"/>
<ellipse cx="1390.8" cy="670.3" rx="72" ry="21.3" fill="none" stroke="#2fc6fa" stroke-width="11.5" transform="rotate(3 1390.8 670.3)"/>
<ellipse cx="1402.1" cy="669.3" rx="51" ry="20.5" fill="#46b2ff" transform="rotate(2 1402.1 669.3)"/>
<ellipse cx="1402.1" cy="669.3" rx="46" ry="17.5" fill="#5ca2ff" transform="rotate(1 1402.1 669.3)"/>
<ellipse cx="1402.1" cy="669.3" rx="41" ry="15.2" fill="#7a90ff" transform="rotate(1 1402.1 669.3)"/>
<ellipse cx="1402.1" cy="669.3" rx="36" ry="13" fill="#9a7afe" transform="rotate(1 1402.1 669.3)"/>
<ellipse cx="1402.1" cy="669.3" rx="31" ry="11" fill="#bc5afb" transform="rotate(1 1402.1 669.3)"/>
<ellipse cx="1402.1" cy="669.3" rx="26.5" ry="9.2" fill="#dc3af6" transform="rotate(1 1402.1 669.3)"/>
<ellipse cx="1402.1" cy="669.3" rx="21.5" ry="7.4" fill="#f41cee" transform="rotate(1 1402.1 669.3)"/>
<polyline fill="none" stroke="#0c7a5c" stroke-width="1.9" stroke-linejoin="round" marker-start="url(#m25)" marker-mid="url(#m25)" marker-end="url(#m25)" clip-path="url(#cL4)" points="440.4,842.9 474.8,822.1 514.6,808.3 543.7,799.1"/>
<polyline fill="none" stroke="#0c7a5c" stroke-width="1.9" stroke-linejoin="round" marker-start="url(#m25)" marker-mid="url(#m25)" marker-end="url(#m25)" clip-path="url(#cL4)" points="865.5,799.1 881.7,805.5 923.7,817.5 960.4,828.5 993.2,838.3 1022.3,847.5 1037.1,852.1"/>
<polyline fill="none" stroke="#0c7a5c" stroke-width="1.9" stroke-linejoin="round" marker-start="url(#m25)" marker-mid="url(#m25)" marker-end="url(#m25)" clip-path="url(#cL4)" points="981.9,931.2 988.7,929.4 994.7,927.5 999.8,925.3 1004,922.6 1007.3,919.5 1008.7,915.8 1005.8,913.2 1001.8,911.4 997.3,909.8 992.3,908.2 986.6,906.8 980.3,905.3 973.2,903.7 965.5,901.8 956.9,899.5 947.4,897.2 936.7,895.1 924.9,892.8 911.8,890 897.4,886.3 881.2,883.1 863.3,879.8 843.5,875 821.5,870.8 796.9,866.4 769.7,861.1 742.1,856.6 714.1,855.4 686.4,859.4 659,864.8 631.8,869.5 607.8,874.7 586.4,878.9 567.4,883.2 550.5,887.1 535.3,890 521.7,892.3 509.8,895 499.2,897.5 489.8,899.9 481.4,902.2 473.9,904.2 467.2,905.8 461.4,907.7 456.4,909.9 452,912.2 448.6,915 449.1,918.6 452.2,921.3 455.9,923.8 460.2,926.1 465.1,928.2 470.6,930.4 476.4,933.2 482.9,936.3 490.4,939 498.8,941.2 508.1,943.8 518.1,947.6 529.4,951.1 542.1,954.5 556.2,958 571.6,962.6 588.5,968.2 607.4,973.7 628.6,978.9 651.9,985.4 678,991.7 705.5,996.8 733.4,998.3 761.2,995.2 788.4,988.5 815.2,980.3 839.6,972.3 861.3,965 881.1,959.5 898.6,954.4 914.4,950.1 928.5,946.3 940.8,942.4 951.9,939 962,936.4 971.1,934.7 979.2,933.3 986.4,932 992.9,931.4 998.6,931.2 1003.8,931.2 1008.4,931.2 1012.4,931.4 1016.8,931.6 1021.7,931.7 1027.1,931.8 1033.2,931.8 1037.1,931.8"/>
<polyline fill="none" stroke="#0c7a5c" stroke-width="1.8" stroke-linejoin="round" marker-start="url(#m25)" marker-mid="url(#m25)" marker-end="url(#m25)" clip-path="url(#cL4)" points="1037.1,931.8 1032.1,931.8 1027.1,931.8 1022.1,931.8 1017.1,931.8 1012.1,931.8 1007.1,931.8 1002.1,931.8 997.1,931.8 992.1,931.8 987.1,931.8 982.1,931.8 977.1,931.8 972.1,931.7 967.1,931.7 962.1,931.8 957.1,931.8 952.1,931.9 947.1,932.1 942.1,932.2 937.1,932.3 932.1,932.5 927.1,932.7 922.1,932.9 917.1,933.1 912.1,933.3 907.1,933.5 902.1,933.6 897.1,933.8 892.1,934 887.1,934.2 882.1,934.4 877.1,934.6 872.1,934.8 867.1,935.1 862.1,935.5 857.2,936.1 852.2,937 847.3,937.9 844,938.5"/>
<polyline fill="none" stroke="#137e5e" stroke-width="1.8" stroke-linejoin="round" marker-start="url(#m26)" marker-mid="url(#m26)" marker-end="url(#m26)" points="542.2,921 547.9,928 554,934.6 560.8,940.4 568.2,945.6 575.8,950.4 583.5,955 591.5,959.2 599.6,963 607.9,966.5 616.5,969.2 625.3,970.9 634.3,971.9 643.3,972.4 652.3,972.5 661.3,972.1 670.2,971.4 679.2,970.5 688.1,969.7 697.1,968.8 706.1,968 715.1,967.8 724.1,967.8 733.1,967.6 742,966.8 751,965.8 759.9,964.6 768.8,963.3 777.7,962.1 786.6,960.9 795.5,959.5 804.3,957.4 812.9,954.9 821.7,952.8 830.5,951.2 839.4,949.6 848.1,947.5 856.8,945.1 865.4,942.5 874.1,940 882.7,937.6 891.4,935.3"/>
<polyline fill="none" stroke="#12805e" stroke-width="1.8" stroke-linejoin="round" marker-start="url(#m27)" marker-mid="url(#m27)" marker-end="url(#m27)" points="586.6,891.9 594,888.9 601.4,885.9 608.9,883 616.4,880.2 623.9,877.5 631.5,874.9 639.1,872.5 646.7,870.1 654.5,868 662.3,866.5 670.2,865.4 678.2,864.8 686.2,864.3 694.2,863.9 702.2,863.8 710.2,863.7 718.2,863.8 726.2,864 734.2,864.4 742.1,865 750.1,865.8 758,866.8 765.9,868 773.8,869.4 781.7,870.9 789.5,872.5 797.3,874.3 805.1,876.1 812.9,877.9 820.7,879.6 828.5,881.4 836.3,883.3 844,885.4 851.7,887.6 859.4,889.7 867.1,891.8 874.8,894 882.5,896.1 890.2,898.3 897.9,900.6 905.6,902.7 913.4,904.6 921.2,906.3 928.9,908.5 935.6,912.7 939,916.4"/>
<polyline fill="none" stroke="#188660" stroke-width="1.8" stroke-linejoin="round" marker-start="url(#m28)" marker-mid="url(#m28)" marker-end="url(#m28)" points="629.5,880.3 635.7,877 641.9,873.8 648.3,870.9 654.9,868.8 661.7,866.9 668.5,865.2 675.3,863.6 682.1,862.2 689.1,861.1 696,860.4 703,860 710,859.8 717,859.8 724,860.1 731,860.7 737.9,861.9 744.7,863.3 751.6,864.8 758.3,866.6 765.1,868.5 771.9,870.2 778.7,871.6 785.6,872.9 792.5,874.3 799.3,875.7 806.2,877.2 813,878.8 819.7,880.7 826.4,882.7 833.1,884.6 839.9,886.5 846.6,888.4 853.3,890.5 859.9,892.7 866.6,894.9 873.2,897.1 879.9,899.2 886.5,901.6 892.8,904.5 898.7,908.4 900.7,914.8"/>
<polyline fill="none" stroke="#138460" stroke-width="1.2" stroke-linejoin="round" marker-start="url(#m29)" marker-mid="url(#m29)" marker-end="url(#m29)" points="939,917.1 938.1,920.1 936.2,922.6 933.7,924.6 931,926.3 928.1,927.8 925.2,929.1 922.2,930.2 919.2,931.3 916.1,932.3 913.1,933.2 910,934 906.9,934.8 903.8,935.5 900.6,936.2 897.5,936.9 894.4,937.5 891.2,938.1 888.1,938.6 884.9,939.2 881.8,939.7 878.6,940.1 875.4,940.6 872.3,941 869.1,941.4 865.9,941.8 862.7,942.1 859.5,942.5 856.4,942.8 853.2,943.1 850,943.4 846.8,943.7 843.6,943.9 840.4,944.2 837.2,944.4 834,944.6 830.8,944.8 827.6,945 824.4,945.2 821.3,945.3 818.1,945.5 814.9,945.6 811.7,945.7 808.5,945.8 805.3,945.9 802.1,946 798.9,946 795.7,946.1 792.5,946.1 789.3,946.1 786.1,946.2 782.9,946.2 779.7,946.2 776.5,946.1 773.3,946.1 770.1,946 766.9,946 763.7,945.9 760.5,945.8 757.3,945.7 754.1,945.6 750.9,945.5 747.7,945.3 744.5,945.2 741.3,945 738.1,944.8 734.9,944.6 731.7,944.4 728.5,944.2 725.3,944 722.1,943.7 718.9,943.4 715.8,943.2 712.6,942.9 709.4,942.5 706.2,942.2 703,941.8 699.8,941.5 696.7,941.1 693.5,940.6 690.3,940.2 687.2,939.7 684,939.2 680.8,938.7 677.7,938.2 674.5,937.6 671.4,937 668.3,936.3 665.1,935.6 662,934.9 658.9,934.1 655.8,933.3 652.8,932.4 649.7,931.4 646.7,930.4 643.7,929.2 640.8,928 637.9,926.5 635.2,924.9 632.7,922.9 630.6,920.5 629.5,917.5 630.2,914.4 632,911.8 634.5,909.7 637.2,908 640,906.5 642.9,905.2 645.9,904 648.9,902.9 651.9,902 655,901 658.1,900.2 661.2,899.4 664.3,898.7 667.4,898 670.6,897.3 673.7,896.7 676.8,896.1 680,895.5 683.1,895 686.3,894.5 689.5,894 692.6,893.6 695.8,893.2 699,892.8 702.2,892.4 705.3,892 708.5,891.7 711.7,891.3 714.9,891 718.1,890.7 721.3,890.5 724.5,890.2 727.6,890 730.8,889.7 734,889.5 737.2,889.3 740.4,889.1 743.6,889 746.8,888.8 750,888.7 753.2,888.5 756.4,888.4 759.6,888.3 762.8,888.2 766,888.1 769.2,888.1 772.4,888 775.6,888 778.8,888 782,888 785.2,887.9 788.4,888 791.6,888 794.8,888 798,888.1 801.2,888.1 804.4,888.2 807.6,888.3 810.8,888.4 814,888.5 817.2,888.6 820.4,888.8 823.6,888.9 826.8,889.1 830,889.2 833.2,889.4 836.4,889.6 839.5,889.9 842.7,890.1 845.9,890.4 849.1,890.6 852.3,890.9 855.5,891.2 858.7,891.5 861.9,891.9 865,892.2 868.2,892.6 871.4,893 874.6,893.4 877.7,893.9 880.9,894.3 884.1,894.8 887.2,895.3 890.4,895.9 893.5,896.4 896.7,897.1 899.8,897.7 902.9,898.4 906,899.1 909.1,899.9 912.2,900.7 915.3,901.6 918.4,902.5 921.4,903.6 924.4,904.7 927.3,906 930.2,907.4 933,909 935.5,910.9 937.7,913.3 938.9,916.2"/>
<polygon fill="none" stroke="#2b9562" stroke-width="6.5" stroke-linejoin="round" points="896.1,916.7 896,917.4 895.7,918.2 895.1,919.1 894.4,920.1 893.4,921.2 892.2,922.3 890.8,923.4 889.2,924.5 887.4,925.7 885.4,926.9 883.2,928.1 880.9,929.3 878.3,930.6 875.5,931.8 872.6,933 869.4,934.2 866.1,935.4 862.7,936.6 859,937.8 855.3,939 851.3,940.2 847.3,941.3 843.1,942.5 838.7,943.6 834.3,944.7 829.7,945.7 825.1,946.7 820.3,947.7 815.5,948.7 810.6,949.6 805.6,950.5 800.6,951.4 795.5,952.2 790.4,953 785.2,953.7 780.1,954.5 774.9,955.1 769.8,955.7 764.7,956.3 759.6,956.8 754.6,957.3 749.7,957.7 744.8,958.1 740.1,958.4 735.5,958.7 731.1,958.9 726.9,959.1 723,959.2 719.5,959.3 716.8,959.3 714.2,959.3 710.7,959.2 706.8,959.1 702.6,958.9 698.2,958.7 693.6,958.4 688.9,958.1 684,957.7 679.1,957.3 674.1,956.8 669,956.3 663.9,955.7 658.7,955.1 653.6,954.5 648.4,953.7 643.3,953 638.2,952.2 633.1,951.4 628.1,950.5 623.1,949.6 618.2,948.7 613.3,947.7 608.6,946.7 603.9,945.7 599.4,944.7 594.9,943.6 590.6,942.5 586.4,941.3 582.3,940.2 578.4,939 574.6,937.8 571,936.6 567.5,935.4 564.2,934.2 561.1,933 558.2,931.8 555.4,930.6 552.8,929.3 550.4,928.1 548.2,926.9 546.2,925.7 544.4,924.5 542.8,923.4 541.4,922.3 540.3,921.2 539.3,920.1 538.5,919.1 538,918.2 537.7,917.4 537.6,916.7 537.7,916.1 538,915.3 538.5,914.4 539.3,913.4 540.3,912.3 541.4,911.2 542.8,910.1 544.4,909 546.2,907.8 548.2,906.6 550.4,905.4 552.8,904.2 555.4,902.9 558.2,901.7 561.1,900.5 564.2,899.3 567.5,898.1 571,896.9 574.6,895.7 578.4,894.5 582.3,893.3 586.4,892.2 590.6,891 594.9,889.9 599.4,888.8 603.9,887.8 608.6,886.8 613.3,885.8 618.2,884.8 623.1,883.9 628.1,883 633.1,882.1 638.2,881.3 643.3,880.5 648.4,879.7 653.6,879 658.7,878.4 663.9,877.8 669,877.2 674.1,876.7 679.1,876.2 684,875.8 688.9,875.4 693.6,875.1 698.2,874.8 702.6,874.6 706.8,874.4 710.7,874.3 714.2,874.2 716.8,874.2 719.5,874.2 723,874.3 726.9,874.4 731.1,874.6 735.5,874.8 740.1,875.1 744.8,875.4 749.7,875.8 754.6,876.2 759.6,876.7 764.7,877.2 769.8,877.8 774.9,878.4 780.1,879 785.2,879.7 790.4,880.5 795.5,881.3 800.6,882.1 805.6,883 810.6,883.9 815.5,884.8 820.3,885.8 825.1,886.8 829.7,887.8 834.3,888.8 838.7,889.9 843.1,891 847.3,892.2 851.3,893.3 855.3,894.5 859,895.7 862.7,896.9 866.1,898.1 869.4,899.3 872.6,900.5 875.5,901.7 878.3,902.9 880.9,904.2 883.2,905.4 885.4,906.6 887.4,907.8 889.2,909 890.8,910.1 892.2,911.2 893.4,912.3 894.4,913.4 895.1,914.4 895.7,915.3 896,916.1 896.1,916.7"/>
<polygon fill="none" stroke="#55ae60" stroke-width="7.0" stroke-linejoin="round" points="883.8,916.7 883.7,917.3 883.4,918.1 882.9,919 882.2,920 881.4,921 880.3,922 879,923.1 877.5,924.2 875.9,925.3 874,926.5 872,927.6 869.8,928.8 867.4,930 864.8,931.1 862.1,932.3 859.2,933.5 856.2,934.6 853,935.8 849.6,936.9 846.1,938.1 842.5,939.2 838.8,940.3 834.9,941.4 830.9,942.4 826.8,943.5 822.6,944.5 818.3,945.4 813.9,946.4 809.4,947.3 804.9,948.2 800.3,949.1 795.7,949.9 791,950.7 786.2,951.4 781.5,952.2 776.8,952.8 772,953.5 767.3,954 762.5,954.6 757.9,955.1 753.2,955.5 748.7,955.9 744.2,956.3 739.8,956.6 735.6,956.9 731.5,957.1 727.6,957.3 724,957.4 720.8,957.5 718.4,957.5 715.9,957.5 712.7,957.4 709.1,957.3 705.2,957.1 701.2,956.9 696.9,956.6 692.5,956.3 688.1,955.9 683.5,955.5 678.9,955.1 674.2,954.6 669.5,954 664.7,953.5 660,952.8 655.2,952.2 650.5,951.4 645.8,950.7 641.1,949.9 636.4,949.1 631.8,948.2 627.3,947.3 622.8,946.4 618.5,945.4 614.2,944.5 609.9,943.5 605.8,942.4 601.9,941.4 598,940.3 594.2,939.2 590.6,938.1 587.1,936.9 583.8,935.8 580.6,934.6 577.5,933.5 574.6,932.3 571.9,931.1 569.3,930 567,928.8 564.7,927.6 562.7,926.5 560.9,925.3 559.2,924.2 557.7,923.1 556.5,922 555.4,921 554.5,920 553.8,919 553.3,918.1 553,917.3 552.9,916.7 553,916.2 553.3,915.4 553.8,914.5 554.5,913.5 555.4,912.5 556.5,911.5 557.7,910.4 559.2,909.3 560.9,908.2 562.7,907 564.7,905.9 567,904.7 569.3,903.5 571.9,902.4 574.6,901.2 577.5,900 580.6,898.9 583.8,897.7 587.1,896.6 590.6,895.4 594.2,894.3 598,893.2 601.9,892.1 605.8,891.1 609.9,890 614.2,889 618.5,888.1 622.8,887.1 627.3,886.2 631.8,885.3 636.4,884.4 641.1,883.6 645.8,882.8 650.5,882.1 655.2,881.3 660,880.7 664.7,880 669.5,879.5 674.2,878.9 678.9,878.4 683.5,878 688.1,877.6 692.5,877.2 696.9,876.9 701.2,876.6 705.2,876.4 709.1,876.2 712.7,876.1 715.9,876 718.4,876 720.8,876 724,876.1 727.6,876.2 731.5,876.4 735.6,876.6 739.8,876.9 744.2,877.2 748.7,877.6 753.2,878 757.9,878.4 762.5,878.9 767.3,879.5 772,880 776.8,880.7 781.5,881.3 786.2,882.1 791,882.8 795.7,883.6 800.3,884.4 804.9,885.3 809.4,886.2 813.9,887.1 818.3,888.1 822.6,889 826.8,890 830.9,891.1 834.9,892.1 838.8,893.2 842.5,894.3 846.1,895.4 849.6,896.6 853,897.7 856.2,898.9 859.2,900 862.1,901.2 864.8,902.4 867.4,903.5 869.8,904.7 872,905.9 874,907 875.9,908.2 877.5,909.3 879,910.4 880.3,911.5 881.4,912.5 882.2,913.5 882.9,914.5 883.4,915.4 883.7,916.2 883.8,916.7"/>
<polygon fill="none" stroke="#8cca5c" stroke-width="7.5" stroke-linejoin="round" points="874,916.7 873.9,917.3 873.7,918.1 873.2,918.9 872.6,919.9 871.7,920.8 870.7,921.8 869.6,922.9 868.2,923.9 866.7,925 865,926.1 863.1,927.2 861.1,928.3 858.9,929.5 856.5,930.6 854,931.7 851.3,932.8 848.5,934 845.6,935.1 842.5,936.2 839.3,937.3 835.9,938.3 832.5,939.4 828.9,940.4 825.2,941.5 821.4,942.4 817.5,943.4 813.6,944.4 809.5,945.3 805.4,946.2 801.2,947 797,947.9 792.7,948.7 788.4,949.4 784,950.1 779.7,950.8 775.3,951.5 770.9,952.1 766.5,952.6 762.2,953.2 757.8,953.6 753.6,954.1 749.4,954.5 745.2,954.8 741.2,955.1 737.3,955.4 733.5,955.6 730,955.8 726.6,955.9 723.7,955.9 721.4,956 719.2,955.9 716.2,955.9 712.9,955.8 709.3,955.6 705.6,955.4 701.6,955.1 697.6,954.8 693.5,954.5 689.3,954.1 685,953.6 680.7,953.2 676.3,952.6 672,952.1 667.6,951.5 663.2,950.8 658.8,950.1 654.5,949.4 650.1,948.7 645.9,947.9 641.6,947 637.4,946.2 633.3,945.3 629.3,944.4 625.3,943.4 621.4,942.4 617.7,941.5 614,940.4 610.4,939.4 606.9,938.3 603.6,937.3 600.4,936.2 597.3,935.1 594.3,934 591.5,932.8 588.9,931.7 586.4,930.6 584,929.5 581.8,928.3 579.8,927.2 577.9,926.1 576.2,925 574.7,923.9 573.3,922.9 572.1,921.8 571.1,920.8 570.3,919.9 569.7,918.9 569.2,918.1 568.9,917.3 568.8,916.7 568.9,916.2 569.2,915.4 569.7,914.6 570.3,913.6 571.1,912.7 572.1,911.7 573.3,910.6 574.7,909.6 576.2,908.5 577.9,907.4 579.8,906.3 581.8,905.2 584,904 586.4,902.9 588.9,901.8 591.5,900.7 594.3,899.5 597.3,898.4 600.4,897.3 603.6,896.2 606.9,895.2 610.4,894.1 614,893.1 617.7,892 621.4,891.1 625.3,890.1 629.3,889.1 633.3,888.2 637.4,887.3 641.6,886.5 645.9,885.6 650.1,884.8 654.5,884.1 658.8,883.4 663.2,882.7 667.6,882 672,881.4 676.3,880.9 680.7,880.3 685,879.9 689.3,879.4 693.5,879 697.6,878.7 701.6,878.4 705.6,878.1 709.3,877.9 712.9,877.7 716.2,877.6 719.2,877.6 721.4,877.5 723.7,877.6 726.6,877.6 730,877.7 733.5,877.9 737.3,878.1 741.2,878.4 745.2,878.7 749.4,879 753.6,879.4 757.8,879.9 762.2,880.3 766.5,880.9 770.9,881.4 775.3,882 779.7,882.7 784,883.4 788.4,884.1 792.7,884.8 797,885.6 801.2,886.5 805.4,887.3 809.5,888.2 813.6,889.1 817.5,890.1 821.4,891.1 825.2,892 828.9,893.1 832.5,894.1 835.9,895.2 839.3,896.2 842.5,897.3 845.6,898.4 848.5,899.5 851.3,900.7 854,901.8 856.5,902.9 858.9,904 861.1,905.2 863.1,906.3 865,907.4 866.7,908.5 868.2,909.6 869.6,910.6 870.7,911.7 871.7,912.7 872.6,913.6 873.2,914.6 873.7,915.4 873.9,916.2 874,916.7"/>
<path d="M869 916.5L868.9 917.3L868.4 918.4L867.7 919.5L866.8 920.7L865.5 922L864 923.4L862.2 924.7L860.2 926.1L857.9 927.5L855.3 928.9L852.5 930.3L849.5 931.7L846.2 933.1L842.7 934.5L839 935.9L835.1 937.3L831 938.6L826.7 939.9L822.2 941.2L817.6 942.4L812.9 943.6L808 944.8L802.9 945.9L797.8 947L792.6 948L787.3 949L781.9 949.9L776.5 950.7L771.1 951.5L765.7 952.2L760.3 952.9L754.9 953.5L749.6 954L744.4 954.5L739.2 954.9L734.3 955.2L729.6 955.5L725.1 955.7L721.1 955.8L718 955.8L714.9 955.8L710.9 955.7L706.4 955.5L701.7 955.2L696.8 954.9L691.6 954.5L686.4 954L681.1 953.5L675.7 952.9L670.3 952.2L664.9 951.5L659.5 950.7L654.1 949.9L648.7 949L643.4 948L638.2 947L633.1 945.9L628 944.8L623.1 943.6L618.4 942.4L613.8 941.2L609.3 939.9L605 938.6L600.9 937.3L597 935.9L593.3 934.5L589.8 933.1L586.5 931.7L583.5 930.3L580.7 928.9L578.1 927.5L575.8 926.1L573.8 924.7L572 923.4L570.5 922L569.2 920.7L568.3 919.5L567.6 918.4L567.1 917.3L567 916.5L567.1 915.7L567.6 914.6L568.3 913.5L569.2 912.3L570.5 911L572 909.6L573.8 908.3L575.8 906.9L578.1 905.5L580.7 904.1L583.5 902.7L586.5 901.3L589.8 899.9L593.3 898.5L597 897.1L600.9 895.7L605 894.4L609.3 893.1L613.8 891.8L618.4 890.6L623.1 889.4L628 888.2L633.1 887.1L638.2 886L643.4 885L648.7 884L654.1 883.1L659.5 882.3L664.9 881.5L670.3 880.8L675.7 880.1L681.1 879.5L686.4 879L691.6 878.5L696.8 878.1L701.7 877.8L706.4 877.5L710.9 877.3L714.9 877.2L718 877.2L721.1 877.2L725.1 877.3L729.6 877.5L734.3 877.8L739.2 878.1L744.4 878.5L749.6 879L754.9 879.5L760.3 880.1L765.7 880.8L771.1 881.5L776.5 882.3L781.9 883.1L787.3 884L792.6 885L797.8 886L802.9 887.1L808 888.2L812.9 889.4L817.6 890.6L822.2 891.8L826.7 893.1L831 894.4L835.1 895.7L839 897.1L842.7 898.5L846.2 899.9L849.5 901.3L852.5 902.7L855.3 904.1L857.9 905.5L860.2 906.9L862.2 908.3L864 909.6L865.5 911L866.8 912.3L867.7 913.5L868.4 914.6L868.9 915.7L869 916.5ZM832.5 916.5L832.4 917.2L832.1 918.1L831.6 919L831 920L830.1 921L829 922L827.8 923L826.4 924.1L824.8 925.1L823 926.2L821.1 927.2L819 928.3L816.7 929.3L814.2 930.3L811.7 931.4L808.9 932.3L806.1 933.3L803 934.3L799.9 935.2L796.7 936.1L793.3 937L789.9 937.8L786.3 938.6L782.7 939.4L778.9 940.1L775.2 940.8L771.3 941.5L767.5 942.1L763.5 942.6L759.6 943.2L755.7 943.6L751.7 944.1L747.8 944.4L744 944.8L740.1 945.1L736.4 945.3L732.8 945.5L729.3 945.6L726.1 945.7L723.5 945.7L720.9 945.7L717.7 945.6L714.2 945.5L710.6 945.3L706.9 945.1L703 944.8L699.2 944.4L695.3 944.1L691.3 943.6L687.4 943.2L683.5 942.6L679.5 942.1L675.7 941.5L671.8 940.8L668.1 940.1L664.3 939.4L660.7 938.6L657.1 937.8L653.7 937L650.3 936.1L647.1 935.2L644 934.3L640.9 933.3L638.1 932.3L635.3 931.4L632.8 930.3L630.3 929.3L628 928.3L625.9 927.2L624 926.2L622.2 925.1L620.6 924.1L619.2 923L618 922L616.9 921L616 920L615.4 919L614.9 918.1L614.6 917.2L614.5 916.5L614.6 915.8L614.9 914.9L615.4 914L616 913L616.9 912L618 911L619.2 910L620.6 908.9L622.2 907.9L624 906.8L625.9 905.8L628 904.7L630.3 903.7L632.8 902.7L635.3 901.6L638.1 900.7L640.9 899.7L644 898.7L647.1 897.8L650.3 896.9L653.7 896L657.1 895.2L660.7 894.4L664.3 893.6L668.1 892.9L671.8 892.2L675.7 891.5L679.5 890.9L683.5 890.4L687.4 889.8L691.3 889.4L695.3 888.9L699.2 888.6L703 888.2L706.9 887.9L710.6 887.7L714.2 887.5L717.7 887.4L720.9 887.3L723.5 887.3L726.1 887.3L729.3 887.4L732.8 887.5L736.4 887.7L740.1 887.9L744 888.2L747.8 888.6L751.7 888.9L755.7 889.4L759.6 889.8L763.5 890.4L767.5 890.9L771.3 891.5L775.2 892.2L778.9 892.9L782.7 893.6L786.3 894.4L789.9 895.2L793.3 896L796.7 896.9L799.9 897.8L803 898.7L806.1 899.7L808.9 900.7L811.7 901.6L814.2 902.7L816.7 903.7L819 904.7L821.1 905.8L823 906.8L824.8 907.9L826.4 908.9L827.8 910L829 911L830.1 912L831 913L831.6 914L832.1 914.9L832.4 915.8L832.5 916.5Z" fill="#b4dc5c" fill-rule="evenodd"/>
<path d="M865.7 916.5L865.6 917.3L865.2 918.3L864.5 919.4L863.5 920.6L862.3 921.9L860.8 923.2L859.1 924.5L857.1 925.9L854.8 927.2L852.3 928.6L849.6 930L846.6 931.3L843.4 932.7L840 934.1L836.4 935.4L832.6 936.7L828.6 938L824.4 939.3L820 940.6L815.5 941.8L810.9 942.9L806.1 944.1L801.2 945.2L796.2 946.2L791.1 947.2L785.9 948.1L780.7 949L775.4 949.8L770.1 950.6L764.8 951.3L759.5 952L754.2 952.6L749 953.1L743.9 953.5L739 953.9L734.1 954.2L729.5 954.5L725.2 954.7L721.2 954.8L718.2 954.8L715.2 954.8L711.2 954.7L706.9 954.5L702.3 954.2L697.4 953.9L692.5 953.5L687.4 953.1L682.2 952.6L676.9 952L671.6 951.3L666.3 950.6L661 949.8L655.7 949L650.5 948.1L645.3 947.2L640.2 946.2L635.2 945.2L630.3 944.1L625.5 942.9L620.9 941.8L616.4 940.6L612 939.3L607.8 938L603.8 936.7L600 935.4L596.4 934.1L593 932.7L589.8 931.3L586.8 930L584.1 928.6L581.6 927.2L579.3 925.9L577.3 924.5L575.6 923.2L574.1 921.9L572.9 920.6L571.9 919.4L571.2 918.3L570.8 917.3L570.7 916.5L570.8 915.7L571.2 914.7L571.9 913.6L572.9 912.4L574.1 911.1L575.6 909.8L577.3 908.5L579.3 907.1L581.6 905.8L584.1 904.4L586.8 903L589.8 901.7L593 900.3L596.4 898.9L600 897.6L603.8 896.3L607.8 895L612 893.7L616.4 892.4L620.9 891.2L625.5 890.1L630.3 888.9L635.2 887.8L640.2 886.8L645.3 885.8L650.5 884.9L655.7 884L661 883.2L666.3 882.4L671.6 881.7L676.9 881L682.2 880.4L687.4 879.9L692.5 879.5L697.4 879.1L702.3 878.8L706.9 878.5L711.2 878.3L715.2 878.2L718.2 878.2L721.2 878.2L725.2 878.3L729.5 878.5L734.1 878.8L739 879.1L743.9 879.5L749 879.9L754.2 880.4L759.5 881L764.8 881.7L770.1 882.4L775.4 883.2L780.7 884L785.9 884.9L791.1 885.8L796.2 886.8L801.2 887.8L806.1 888.9L810.9 890.1L815.5 891.2L820 892.4L824.4 893.7L828.6 895L832.6 896.3L836.4 897.6L840 898.9L843.4 900.3L846.6 901.7L849.6 903L852.3 904.4L854.8 905.8L857.1 907.1L859.1 908.5L860.8 909.8L862.3 911.1L863.5 912.4L864.5 913.6L865.2 914.7L865.6 915.7L865.7 916.5ZM836.5 916.5L836.4 917.2L836.1 918.1L835.6 919.1L834.9 920.1L834 921.1L832.9 922.2L831.7 923.2L830.2 924.3L828.5 925.4L826.7 926.5L824.7 927.6L822.5 928.7L820.2 929.8L817.7 930.8L815 931.9L812.2 932.9L809.2 933.9L806.1 934.9L802.9 935.8L799.5 936.8L796.1 937.7L792.5 938.5L788.8 939.4L785.1 940.2L781.2 940.9L777.3 941.6L773.4 942.3L769.4 942.9L765.3 943.5L761.3 944.1L757.2 944.6L753.1 945L749.1 945.4L745.1 945.7L741.2 946L737.3 946.3L733.6 946.5L730 946.6L726.7 946.7L724 946.7L721.3 946.7L718 946.6L714.4 946.5L710.7 946.3L706.8 946L702.9 945.7L698.9 945.4L694.9 945L690.8 944.6L686.7 944.1L682.7 943.5L678.6 942.9L674.6 942.3L670.7 941.6L666.8 940.9L662.9 940.2L659.2 939.4L655.5 938.5L651.9 937.7L648.5 936.8L645.1 935.8L641.9 934.9L638.8 933.9L635.8 932.9L633 931.9L630.3 930.8L627.8 929.8L625.5 928.7L623.3 927.6L621.3 926.5L619.5 925.4L617.8 924.3L616.3 923.2L615.1 922.2L614 921.1L613.1 920.1L612.4 919.1L611.9 918.1L611.6 917.2L611.5 916.5L611.6 915.8L611.9 914.9L612.4 913.9L613.1 912.9L614 911.9L615.1 910.8L616.3 909.8L617.8 908.7L619.5 907.6L621.3 906.5L623.3 905.4L625.5 904.3L627.8 903.2L630.3 902.2L633 901.1L635.8 900.1L638.8 899.1L641.9 898.1L645.1 897.2L648.5 896.2L651.9 895.3L655.5 894.5L659.2 893.6L662.9 892.8L666.8 892.1L670.7 891.4L674.6 890.7L678.6 890.1L682.7 889.5L686.7 888.9L690.8 888.4L694.9 888L698.9 887.6L702.9 887.3L706.8 887L710.7 886.7L714.4 886.5L718 886.4L721.3 886.3L724 886.3L726.7 886.3L730 886.4L733.6 886.5L737.3 886.7L741.2 887L745.1 887.3L749.1 887.6L753.1 888L757.2 888.4L761.3 888.9L765.3 889.5L769.4 890.1L773.4 890.7L777.3 891.4L781.2 892.1L785.1 892.8L788.8 893.6L792.5 894.5L796.1 895.3L799.5 896.2L802.9 897.2L806.1 898.1L809.2 899.1L812.2 900.1L815 901.1L817.7 902.2L820.2 903.2L822.5 904.3L824.7 905.4L826.7 906.5L828.5 907.6L830.2 908.7L831.7 909.8L832.9 910.8L834 911.9L834.9 912.9L835.6 913.9L836.1 914.9L836.4 915.8L836.5 916.5Z" fill="#d6ee5e" fill-rule="evenodd"/>
<path d="M862.4 916.5L862.3 917.3L861.9 918.3L861.2 919.3L860.3 920.5L859.1 921.7L857.6 923L855.9 924.3L854 925.6L851.8 926.9L849.3 928.2L846.7 929.6L843.8 930.9L840.7 932.3L837.3 933.6L833.8 934.9L830.1 936.2L826.1 937.4L822.1 938.7L817.8 939.9L813.4 941L808.9 942.2L804.2 943.3L799.4 944.3L794.5 945.3L789.5 946.3L784.5 947.2L779.4 948.1L774.2 948.9L769.1 949.6L763.9 950.3L758.7 951L753.6 951.5L748.5 952L743.5 952.5L738.7 952.8L733.9 953.2L729.4 953.4L725.2 953.6L721.4 953.7L718.4 953.7L715.4 953.7L711.6 953.6L707.4 953.4L702.9 953.2L698.1 952.8L693.3 952.5L688.3 952L683.2 951.5L678.1 951L672.9 950.3L667.7 949.6L662.6 948.9L657.4 948.1L652.3 947.2L647.3 946.3L642.3 945.3L637.4 944.3L632.6 943.3L627.9 942.2L623.4 941L619 939.9L614.7 938.7L610.7 937.4L606.7 936.2L603 934.9L599.5 933.6L596.1 932.3L593 930.9L590.1 929.6L587.5 928.2L585 926.9L582.8 925.6L580.9 924.3L579.2 923L577.7 921.7L576.5 920.5L575.6 919.3L574.9 918.3L574.5 917.3L574.4 916.5L574.5 915.7L574.9 914.7L575.6 913.7L576.5 912.5L577.7 911.3L579.2 910L580.9 908.7L582.8 907.4L585 906.1L587.5 904.8L590.1 903.4L593 902.1L596.1 900.7L599.5 899.4L603 898.1L606.7 896.8L610.7 895.6L614.7 894.3L619 893.1L623.4 892L627.9 890.8L632.6 889.7L637.4 888.7L642.3 887.7L647.3 886.7L652.3 885.8L657.4 884.9L662.6 884.1L667.7 883.4L672.9 882.7L678.1 882L683.2 881.5L688.3 881L693.3 880.5L698.1 880.2L702.9 879.8L707.4 879.6L711.6 879.4L715.4 879.3L718.4 879.3L721.4 879.3L725.2 879.4L729.4 879.6L733.9 879.8L738.7 880.2L743.5 880.5L748.5 881L753.6 881.5L758.7 882L763.9 882.7L769.1 883.4L774.2 884.1L779.4 884.9L784.5 885.8L789.5 886.7L794.5 887.7L799.4 888.7L804.2 889.7L808.9 890.8L813.4 892L817.8 893.1L822.1 894.3L826.1 895.6L830.1 896.8L833.8 898.1L837.3 899.4L840.7 900.7L843.8 902.1L846.7 903.4L849.3 904.8L851.8 906.1L854 907.4L855.9 908.7L857.6 910L859.1 911.3L860.3 912.5L861.2 913.7L861.9 914.7L862.3 915.7L862.4 916.5ZM840.3 916.5L840.2 917.3L839.9 918.2L839.4 919.2L838.7 920.2L837.7 921.3L836.6 922.4L835.3 923.5L833.8 924.6L832.1 925.7L830.2 926.8L828.1 928L825.9 929.1L823.5 930.2L820.9 931.3L818.1 932.4L815.2 933.4L812.2 934.5L809 935.5L805.6 936.5L802.2 937.4L798.6 938.4L794.9 939.3L791.1 940.1L787.3 941L783.3 941.7L779.3 942.5L775.2 943.2L771.1 943.8L766.9 944.4L762.7 945L758.5 945.5L754.4 946L750.2 946.4L746.1 946.7L742 947L738 947.3L734.2 947.5L730.5 947.6L727.1 947.7L724.3 947.7L721.5 947.7L718.1 947.6L714.4 947.5L710.6 947.3L706.6 947L702.5 946.7L698.4 946.4L694.2 946L690.1 945.5L685.9 945L681.7 944.4L677.5 943.8L673.4 943.2L669.3 942.5L665.3 941.7L661.3 941L657.5 940.1L653.7 939.3L650 938.4L646.4 937.4L643 936.5L639.6 935.5L636.4 934.5L633.4 933.4L630.5 932.4L627.7 931.3L625.1 930.2L622.7 929.1L620.5 928L618.4 926.8L616.5 925.7L614.8 924.6L613.3 923.5L612 922.4L610.9 921.3L609.9 920.2L609.2 919.2L608.7 918.2L608.4 917.3L608.3 916.5L608.4 915.7L608.7 914.8L609.2 913.8L609.9 912.8L610.9 911.7L612 910.6L613.3 909.5L614.8 908.4L616.5 907.3L618.4 906.2L620.5 905L622.7 903.9L625.1 902.8L627.7 901.7L630.5 900.6L633.4 899.6L636.4 898.5L639.6 897.5L643 896.5L646.4 895.6L650 894.6L653.7 893.7L657.5 892.9L661.3 892L665.3 891.3L669.3 890.5L673.4 889.8L677.5 889.2L681.7 888.6L685.9 888L690.1 887.5L694.2 887L698.4 886.6L702.5 886.3L706.6 886L710.6 885.7L714.4 885.5L718.1 885.4L721.5 885.3L724.3 885.3L727.1 885.3L730.5 885.4L734.2 885.5L738 885.7L742 886L746.1 886.3L750.2 886.6L754.4 887L758.5 887.5L762.7 888L766.9 888.6L771.1 889.2L775.2 889.8L779.3 890.5L783.3 891.3L787.3 892L791.1 892.9L794.9 893.7L798.6 894.6L802.2 895.6L805.6 896.5L809 897.5L812.2 898.5L815.2 899.6L818.1 900.6L820.9 901.7L823.5 902.8L825.9 903.9L828.1 905L830.2 906.2L832.1 907.3L833.8 908.4L835.3 909.5L836.6 910.6L837.7 911.7L838.7 912.8L839.4 913.8L839.9 914.8L840.2 915.7L840.3 916.5Z" fill="#f0f864" fill-rule="evenodd"/>
<path d="M834 916.5L833.9 917.2L833.6 918.1L833.1 919L832.4 920L831.6 921L830.5 922.1L829.3 923.1L827.8 924.2L826.2 925.2L824.4 926.3L822.5 927.4L820.3 928.4L818 929.5L815.6 930.5L813 931.6L810.2 932.6L807.3 933.6L804.3 934.5L801.1 935.5L797.8 936.4L794.5 937.3L791 938.1L787.4 938.9L783.7 939.7L780 940.4L776.1 941.1L772.3 941.8L768.4 942.4L764.4 943L760.4 943.5L756.5 944L752.5 944.4L748.6 944.8L744.6 945.2L740.8 945.4L737 945.7L733.4 945.9L729.9 946L726.7 946.1L724 946.1L721.3 946.1L718.1 946L714.6 945.9L711 945.7L707.2 945.4L703.4 945.2L699.4 944.8L695.5 944.4L691.5 944L687.6 943.5L683.6 943L679.6 942.4L675.7 941.8L671.9 941.1L668 940.4L664.3 939.7L660.6 938.9L657 938.1L653.5 937.3L650.2 936.4L646.9 935.5L643.7 934.5L640.7 933.6L637.8 932.6L635 931.6L632.4 930.5L630 929.5L627.7 928.4L625.5 927.4L623.6 926.3L621.8 925.2L620.2 924.2L618.7 923.1L617.5 922.1L616.4 921L615.6 920L614.9 919L614.4 918.1L614.1 917.2L614 916.5L614.1 915.8L614.4 914.9L614.9 914L615.6 913L616.4 912L617.5 910.9L618.7 909.9L620.2 908.8L621.8 907.8L623.6 906.7L625.5 905.6L627.7 904.6L630 903.5L632.4 902.5L635 901.4L637.8 900.4L640.7 899.4L643.7 898.5L646.9 897.5L650.2 896.6L653.5 895.7L657 894.9L660.6 894.1L664.3 893.3L668 892.6L671.9 891.9L675.7 891.2L679.6 890.6L683.6 890L687.6 889.5L691.5 889L695.5 888.6L699.4 888.2L703.4 887.8L707.2 887.6L711 887.3L714.6 887.1L718.1 887L721.3 886.9L724 886.9L726.7 886.9L729.9 887L733.4 887.1L737 887.3L740.8 887.6L744.6 887.8L748.6 888.2L752.5 888.6L756.5 889L760.4 889.5L764.4 890L768.4 890.6L772.3 891.2L776.1 891.9L780 892.6L783.7 893.3L787.4 894.1L791 894.9L794.5 895.7L797.8 896.6L801.1 897.5L804.3 898.5L807.3 899.4L810.2 900.4L813 901.4L815.6 902.5L818 903.5L820.3 904.6L822.5 905.6L824.4 906.7L826.2 907.8L827.8 908.8L829.3 909.9L830.5 910.9L831.6 912L832.4 913L833.1 914L833.6 914.9L833.9 915.8L834 916.5ZM830 916.5L829.9 917.2L829.6 918.1L829.2 919L828.6 920L827.8 920.9L826.8 921.9L825.6 922.9L824.3 923.9L822.8 924.9L821.2 925.9L819.4 926.9L817.4 927.9L815.3 928.9L813 929.8L810.6 930.8L808 931.7L805.3 932.6L802.5 933.5L799.6 934.4L796.5 935.2L793.4 936L790.1 936.8L786.8 937.6L783.4 938.3L779.8 938.9L776.3 939.6L772.6 940.2L768.9 940.8L765.2 941.3L761.5 941.8L757.7 942.2L753.9 942.6L750.1 942.9L746.4 943.2L742.7 943.5L739 943.7L735.5 943.9L732 944L728.8 944.1L726 944.1L723.2 944.1L720 944L716.5 943.9L713 943.7L709.3 943.5L705.6 943.2L701.9 942.9L698.1 942.6L694.3 942.2L690.5 941.8L686.8 941.3L683.1 940.8L679.4 940.2L675.7 939.6L672.2 938.9L668.6 938.3L665.2 937.6L661.9 936.8L658.6 936L655.5 935.2L652.4 934.4L649.5 933.5L646.7 932.6L644 931.7L641.4 930.8L639 929.8L636.7 928.9L634.6 927.9L632.6 926.9L630.8 925.9L629.2 924.9L627.7 923.9L626.4 922.9L625.2 921.9L624.2 920.9L623.4 920L622.8 919L622.4 918.1L622.1 917.2L622 916.5L622.1 915.8L622.4 914.9L622.8 914L623.4 913L624.2 912.1L625.2 911.1L626.4 910.1L627.7 909.1L629.2 908.1L630.8 907.1L632.6 906.1L634.6 905.1L636.7 904.1L639 903.2L641.4 902.2L644 901.3L646.7 900.4L649.5 899.5L652.4 898.6L655.5 897.8L658.6 897L661.9 896.2L665.2 895.4L668.6 894.7L672.2 894.1L675.7 893.4L679.4 892.8L683.1 892.2L686.8 891.7L690.5 891.2L694.3 890.8L698.1 890.4L701.9 890.1L705.6 889.8L709.3 889.5L713 889.3L716.5 889.1L720 889L723.2 888.9L726 888.9L728.8 888.9L732 889L735.5 889.1L739 889.3L742.7 889.5L746.4 889.8L750.1 890.1L753.9 890.4L757.7 890.8L761.5 891.2L765.2 891.7L768.9 892.2L772.6 892.8L776.3 893.4L779.8 894.1L783.4 894.7L786.8 895.4L790.1 896.2L793.4 897L796.5 897.8L799.6 898.6L802.5 899.5L805.3 900.4L808 901.3L810.6 902.2L813 903.2L815.3 904.1L817.4 905.1L819.4 906.1L821.2 907.1L822.8 908.1L824.3 909.1L825.6 910.1L826.8 911.1L827.8 912.1L828.6 913L829.2 914L829.6 914.9L829.9 915.8L830 916.5Z" fill="#86c65e" fill-rule="evenodd"/>
<path d="M830 916.5L829.9 917.2L829.6 918.1L829.2 919L828.6 920L827.8 921L826.8 922L825.6 923L824.3 924L822.8 925L821.1 926L819.3 927L817.3 928L815.2 929L812.9 930L810.5 930.9L807.9 931.9L805.2 932.8L802.4 933.7L799.4 934.6L796.4 935.4L793.2 936.2L789.9 937L786.6 937.8L783.1 938.5L779.6 939.2L776 939.8L772.4 940.4L768.7 941L764.9 941.5L761.1 942L757.3 942.5L753.5 942.9L749.8 943.2L746 943.5L742.3 943.8L738.6 944L735 944.2L731.5 944.3L728.3 944.4L725.5 944.4L722.7 944.4L719.5 944.3L716 944.2L712.4 944L708.7 943.8L705 943.5L701.2 943.2L697.5 942.9L693.7 942.5L689.9 942L686.1 941.5L682.3 941L678.6 940.4L675 939.8L671.4 939.2L667.9 938.5L664.4 937.8L661.1 937L657.8 936.2L654.6 935.4L651.6 934.6L648.6 933.7L645.8 932.8L643.1 931.9L640.5 930.9L638.1 930L635.8 929L633.7 928L631.7 927L629.9 926L628.2 925L626.7 924L625.4 923L624.2 922L623.2 921L622.4 920L621.8 919L621.4 918.1L621.1 917.2L621 916.5L621.1 915.8L621.4 914.9L621.8 914L622.4 913L623.2 912L624.2 911L625.4 910L626.7 909L628.2 908L629.9 907L631.7 906L633.7 905L635.8 904L638.1 903L640.5 902.1L643.1 901.1L645.8 900.2L648.6 899.3L651.6 898.4L654.6 897.6L657.8 896.8L661.1 896L664.4 895.2L667.9 894.5L671.4 893.8L675 893.2L678.6 892.6L682.3 892L686.1 891.5L689.9 891L693.7 890.5L697.5 890.1L701.2 889.8L705 889.5L708.7 889.2L712.4 889L716 888.8L719.5 888.7L722.7 888.6L725.5 888.6L728.3 888.6L731.5 888.7L735 888.8L738.6 889L742.3 889.2L746 889.5L749.8 889.8L753.5 890.1L757.3 890.5L761.1 891L764.9 891.5L768.7 892L772.4 892.6L776 893.2L779.6 893.8L783.1 894.5L786.6 895.2L789.9 896L793.2 896.8L796.4 897.6L799.4 898.4L802.4 899.3L805.2 900.2L807.9 901.1L810.5 902.1L812.9 903L815.2 904L817.3 905L819.3 906L821.1 907L822.8 908L824.3 909L825.6 910L826.8 911L827.8 912L828.6 913L829.2 914L829.6 914.9L829.9 915.8L830 916.5ZM826.5 916.5L826.4 917.2L826.2 918L825.7 918.9L825.1 919.8L824.4 920.7L823.4 921.7L822.3 922.6L821 923.6L819.6 924.5L818 925.5L816.3 926.5L814.4 927.4L812.3 928.3L810.1 929.3L807.8 930.2L805.4 931.1L802.8 931.9L800.1 932.8L797.3 933.6L794.3 934.4L791.3 935.2L788.2 935.9L784.9 936.6L781.6 937.3L778.3 938L774.8 938.6L771.3 939.2L767.8 939.7L764.2 940.2L760.6 940.7L757 941.1L753.3 941.5L749.7 941.8L746.1 942.1L742.5 942.3L739 942.5L735.6 942.7L732.3 942.8L729.2 942.9L726.5 942.9L723.8 942.9L720.7 942.8L717.4 942.7L714 942.5L710.5 942.3L706.9 942.1L703.3 941.8L699.7 941.5L696 941.1L692.4 940.7L688.8 940.2L685.2 939.7L681.7 939.2L678.2 938.6L674.7 938L671.4 937.3L668.1 936.6L664.8 935.9L661.7 935.2L658.7 934.4L655.7 933.6L652.9 932.8L650.2 931.9L647.6 931.1L645.2 930.2L642.9 929.3L640.7 928.3L638.6 927.4L636.7 926.5L635 925.5L633.4 924.5L632 923.6L630.7 922.6L629.6 921.7L628.6 920.7L627.9 919.8L627.3 918.9L626.8 918L626.6 917.2L626.5 916.5L626.6 915.8L626.8 915L627.3 914.1L627.9 913.2L628.6 912.3L629.6 911.3L630.7 910.4L632 909.4L633.4 908.5L635 907.5L636.7 906.5L638.6 905.6L640.7 904.7L642.9 903.7L645.2 902.8L647.6 901.9L650.2 901.1L652.9 900.2L655.7 899.4L658.7 898.6L661.7 897.8L664.8 897.1L668.1 896.4L671.4 895.7L674.7 895L678.2 894.4L681.7 893.8L685.2 893.3L688.8 892.8L692.4 892.3L696 891.9L699.7 891.5L703.3 891.2L706.9 890.9L710.5 890.7L714 890.5L717.4 890.3L720.7 890.2L723.8 890.1L726.5 890.1L729.2 890.1L732.3 890.2L735.6 890.3L739 890.5L742.5 890.7L746.1 890.9L749.7 891.2L753.3 891.5L757 891.9L760.6 892.3L764.2 892.8L767.8 893.3L771.3 893.8L774.8 894.4L778.3 895L781.6 895.7L784.9 896.4L788.2 897.1L791.3 897.8L794.3 898.6L797.3 899.4L800.1 900.2L802.8 901.1L805.4 901.9L807.8 902.8L810.1 903.7L812.3 904.7L814.4 905.6L816.3 906.5L818 907.5L819.6 908.5L821 909.4L822.3 910.4L823.4 911.3L824.4 912.3L825.1 913.2L825.7 914.1L826.2 915L826.4 915.8L826.5 916.5Z" fill="#4aa562" fill-rule="evenodd"/>
<path d="M826.8 916.5L826.7 917.2L826.5 918L826 918.9L825.4 919.8L824.6 920.8L823.7 921.7L822.6 922.7L821.3 923.6L819.9 924.6L818.3 925.6L816.5 926.5L814.6 927.5L812.6 928.4L810.4 929.4L808 930.3L805.6 931.2L803 932L800.2 932.9L797.4 933.7L794.5 934.5L791.4 935.3L788.3 936.1L785 936.8L781.7 937.5L778.3 938.1L774.9 938.8L771.4 939.3L767.8 939.9L764.2 940.4L760.6 940.8L756.9 941.3L753.3 941.6L749.6 942L746 942.3L742.4 942.5L738.9 942.7L735.4 942.9L732.1 943L729 943.1L726.3 943.1L723.6 943.1L720.5 943L717.2 942.9L713.7 942.7L710.2 942.5L706.6 942.3L703 942L699.3 941.6L695.7 941.3L692 940.8L688.4 940.4L684.8 939.9L681.2 939.3L677.7 938.8L674.3 938.1L670.9 937.5L667.6 936.8L664.3 936.1L661.2 935.3L658.1 934.5L655.2 933.7L652.4 932.9L649.6 932L647 931.2L644.6 930.3L642.2 929.4L640 928.4L638 927.5L636.1 926.5L634.3 925.6L632.7 924.6L631.3 923.6L630 922.7L628.9 921.7L628 920.8L627.2 919.8L626.6 918.9L626.1 918L625.9 917.2L625.8 916.5L625.9 915.8L626.1 915L626.6 914.1L627.2 913.2L628 912.2L628.9 911.3L630 910.3L631.3 909.4L632.7 908.4L634.3 907.4L636.1 906.5L638 905.5L640 904.6L642.2 903.6L644.6 902.7L647 901.8L649.6 901L652.4 900.1L655.2 899.3L658.1 898.5L661.2 897.7L664.3 896.9L667.6 896.2L670.9 895.5L674.3 894.9L677.7 894.2L681.2 893.7L684.8 893.1L688.4 892.6L692 892.2L695.7 891.7L699.3 891.4L703 891L706.6 890.7L710.2 890.5L713.7 890.3L717.2 890.1L720.5 890L723.6 889.9L726.3 889.9L729 889.9L732.1 890L735.4 890.1L738.9 890.3L742.4 890.5L746 890.7L749.6 891L753.3 891.4L756.9 891.7L760.6 892.2L764.2 892.6L767.8 893.1L771.4 893.7L774.9 894.2L778.3 894.9L781.7 895.5L785 896.2L788.3 896.9L791.4 897.7L794.5 898.5L797.4 899.3L800.2 900.1L803 901L805.6 901.8L808 902.7L810.4 903.6L812.6 904.6L814.6 905.5L816.5 906.5L818.3 907.4L819.9 908.4L821.3 909.4L822.6 910.3L823.7 911.3L824.6 912.2L825.4 913.2L826 914.1L826.5 915L826.7 915.8L826.8 916.5ZM823.9 916.5L823.8 917.2L823.6 918L823.1 918.8L822.6 919.7L821.8 920.6L820.9 921.5L819.8 922.4L818.6 923.3L817.2 924.2L815.7 925.1L814 926L812.1 926.9L810.2 927.8L808 928.7L805.8 929.6L803.4 930.5L800.9 931.3L798.3 932.1L795.5 932.9L792.7 933.7L789.8 934.4L786.7 935.1L783.6 935.8L780.4 936.5L777.1 937.1L773.8 937.7L770.4 938.2L767 938.7L763.5 939.2L760 939.7L756.5 940.1L752.9 940.4L749.4 940.7L745.9 941L742.5 941.3L739 941.5L735.7 941.6L732.5 941.7L729.5 941.8L726.9 941.8L724.3 941.8L721.3 941.7L718.1 941.6L714.8 941.5L711.3 941.3L707.9 941L704.4 940.7L700.9 940.4L697.3 940.1L693.8 939.7L690.3 939.2L686.8 938.7L683.4 938.2L680 937.7L676.7 937.1L673.4 936.5L670.2 935.8L667.1 935.1L664 934.4L661.1 933.7L658.3 932.9L655.5 932.1L652.9 931.3L650.4 930.5L648 929.6L645.8 928.7L643.6 927.8L641.7 926.9L639.8 926L638.1 925.1L636.6 924.2L635.2 923.3L634 922.4L632.9 921.5L632 920.6L631.2 919.7L630.7 918.8L630.2 918L630 917.2L629.9 916.5L630 915.8L630.2 915L630.7 914.2L631.2 913.3L632 912.4L632.9 911.5L634 910.6L635.2 909.7L636.6 908.8L638.1 907.9L639.8 907L641.7 906.1L643.6 905.2L645.8 904.3L648 903.4L650.4 902.5L652.9 901.7L655.5 900.9L658.3 900.1L661.1 899.3L664 898.6L667.1 897.9L670.2 897.2L673.4 896.5L676.7 895.9L680 895.3L683.4 894.8L686.8 894.3L690.3 893.8L693.8 893.3L697.3 892.9L700.9 892.6L704.4 892.3L707.9 892L711.3 891.7L714.8 891.5L718.1 891.4L721.3 891.3L724.3 891.2L726.9 891.2L729.5 891.2L732.5 891.3L735.7 891.4L739 891.5L742.5 891.7L745.9 892L749.4 892.3L752.9 892.6L756.5 892.9L760 893.3L763.5 893.8L767 894.3L770.4 894.8L773.8 895.3L777.1 895.9L780.4 896.5L783.6 897.2L786.7 897.9L789.8 898.6L792.7 899.3L795.5 900.1L798.3 900.9L800.9 901.7L803.4 902.5L805.8 903.4L808 904.3L810.2 905.2L812.1 906.1L814 907L815.7 907.9L817.2 908.8L818.6 909.7L819.8 910.6L820.9 911.5L821.8 912.4L822.6 913.3L823.1 914.2L823.6 915L823.8 915.8L823.9 916.5Z" fill="#1f8b60" fill-rule="evenodd"/>
<polyline fill="none" stroke="#108060" stroke-width="1.2" stroke-linejoin="round" marker-start="url(#m30)" marker-mid="url(#m30)" marker-end="url(#m30)" points="796.2,914.3 795.3,917.7 793,920.6 790.2,922.8 787.2,924.7 783.9,926.2 780.6,927.5 777.2,928.7 773.7,929.7 770.2,930.6 766.7,931.4 763.2,932.1 759.6,932.7 756.1,933.2 752.5,933.6 748.9,934 745.3,934.3 741.7,934.5 738.1,934.7 734.5,934.8 730.9,934.8 727.3,934.8 723.7,934.7 720.1,934.6 716.5,934.4 712.9,934.1 709.4,933.8 705.8,933.4 702.2,932.9 698.7,932.4 695.1,931.7 691.6,931 688.1,930.2 684.6,929.2 681.2,928.2 677.8,926.9 674.5,925.5 671.3,923.8 668.3,921.8 665.8,919.2 664.1,916.1 664.1,912.5 665.7,909.4 668.3,906.9 671.3,904.8 674.4,903.1 677.7,901.7 681.1,900.5 684.6,899.4 688,898.4 691.5,897.6 695.1,896.9 698.6,896.2 702.2,895.7 705.7,895.2 709.3,894.8 712.9,894.5 716.5,894.2 720.1,894 723.7,893.9 727.3,893.8 730.9,893.8 734.5,893.8 738.1,893.9 741.7,894.1 745.3,894.3 748.8,894.6 752.4,895 756,895.4 759.6,895.9 763.1,896.5 766.6,897.2 770.2,898 773.6,898.9 777.1,899.9 780.5,901 783.9,902.4 787.1,903.9 790.2,905.8 793,908 795.2,910.8 796.2,914.2"/>
<polyline fill="none" stroke="#148662" stroke-width="1.2" stroke-linejoin="round" marker-start="url(#m31)" marker-mid="url(#m31)" marker-end="url(#m31)" points="769.8,915.8 769.5,918 768.7,920 767.5,921.9 766,923.4 764.2,924.8 762.4,926 760.4,926.9 758.4,927.8 756.3,928.4 754.1,929 752,929.4 749.8,929.7 747.6,929.9 745.4,929.9 743.2,929.9 741,929.7 738.8,929.4 736.7,929 734.5,928.5 732.4,927.8 730.4,927 728.4,926 726.5,924.9 724.8,923.5 723.3,922 722,920.2 721.2,918.1 720.8,916 721.1,913.8 721.9,911.8 723.1,909.9 724.6,908.3 726.3,906.9 728.2,905.8 730.1,904.8 732.2,903.9 734.2,903.3 736.4,902.7 738.5,902.3 740.7,902 742.9,901.8 745.1,901.7 747.3,901.8 749.5,901.9 751.7,902.2 753.8,902.6 756,903.1 758.1,903.8 760.1,904.6 762.1,905.6 764,906.7 765.7,908 767.3,909.6 768.6,911.4 769.5,913.4 769.8,915.5"/>
<polyline fill="none" stroke="#0c7a5c" stroke-width="1.9" stroke-linejoin="round" marker-start="url(#m25)" marker-mid="url(#m25)" marker-end="url(#m25)" clip-path="url(#cR4)" points="1091.9,896.8 1094.1,897 1096.3,897.2 1098.5,897.5 1100.6,898 1102.8,898.5 1104.9,899.1 1107,899.6 1109.2,900.1 1111.3,900.6 1113.5,901.1 1115.6,901.7 1117.7,902.2 1119.9,902.7 1122,903.2 1124.2,903.6 1126.3,904 1128.5,904.5 1130.7,904.9 1132.8,905.2 1135,905.6 1137.2,905.8 1139.4,905.9 1141.6,905.9 1143.8,905.7 1146,905.6 1148.2,905.5 1150.6,905.3 1153.6,904.8 1157.2,903.9 1161.4,902.3 1166.4,900.1 1172.5,897.5 1179.8,894.4 1188.7,890.6 1199.3,885.8 1211.9,879.6 1226.8,871.5 1242.7,860.8 1257.4,848.4 1271.1,835 1283.7,820.5 1295.3,805.2 1300.9,796.9"/>
<polyline fill="none" stroke="#0c7a5c" stroke-width="1.9" stroke-linejoin="round" marker-start="url(#m25)" marker-mid="url(#m25)" marker-end="url(#m25)" clip-path="url(#cR4)" points="1369.3,798.5 1383.3,808.6 1400,813.4 1416.5,819 1432.6,825.5 1448.7,832 1465,838.2 1481.3,844.3 1496.6,849.9 1511,855 1524.5,859.5 1537.1,863.6 1548.9,867.2 1560,870.5 1570.3,873.7 1579.9,876.8 1588.8,879.5 1597.2,882.1 1604.9,884.7 1612.2,887 1619,889.2 1625.2,891.4 1631,893.7 1636.3,896 1641.3,898.2 1645.9,900.2 1650.1,902.4 1653.9,904.6 1657.5,906.8 1660.7,909.1 1663.4,911.6 1665.3,914.5 1665.8,917.8 1664.8,921.1 1663,924 1660.7,926.8 1658.1,929.3 1655,931.7 1651.8,934.2 1648.3,936.8 1644.4,939.2 1640.3,941.7 1635.8,944.3 1631.1,947.1 1626.1,949.8 1620.6,952.5 1614.7,955.4 1608.5,958.5 1601.9,961.7 1594.7,964.9 1587.1,968.2 1578.8,971.5 1570,974.9 1560.5,978.3 1550.3,981.5 1539.3,984.9 1527.7,988.7 1515.3,992.8 1502.1,997.2 1488,1001.9 1473.2,1007.4 1457.2,1012.9 1440.5,1017.8 1423.6,1022 1406.4,1023.7 1389.1,1021.9 1372.1,1018.2 1355.5,1012.9 1339,1007.5 1322.6,1001.5 1307.5,995.2 1293.3,989.3 1280.1,983.9 1267.8,978.5 1256.2,973.9 1245.4,969.3 1235.3,965.2 1225.7,961.5 1216.8,958.1 1208.5,954.6 1200.8,951.5 1193.4,948.8 1186.6,946.2 1180.2,943.8 1174.3,941.3 1168.9,938.9 1163.8,936.5 1159.2,934.1 1154.9,931.7 1151,929.3 1147.5,926.8 1144.3,924.3 1141.6,921.6 1139.3,918.7 1137.5,915.7 1136.4,912.5 1136.7,909 1138.2,905.9 1140.1,903 1142.3,900.2 1144.7,897.4 1147.3,894.6 1150.3,891.8 1153.7,889.3 1157.6,887 1161.8,884.7 1166.3,882.4 1171.2,880 1176.4,877.5 1181.9,875 1187.9,872.5 1194.3,869.9 1201.2,867.3 1208.5,864.5 1216.3,861.5 1224.6,858.2 1233.5,854.7 1242.9,851.1 1252.9,847.1 1263.7,843.1 1275.2,838.9 1287.5,834.5 1300.6,830 1314.6,825 1329.7,820.4 1346.2,816.8 1363.3,813.8 1380.7,812.8 1398,814.4"/>
<polyline fill="none" stroke="#0f7d5e" stroke-width="1.9" stroke-linejoin="round" marker-start="url(#m32)" marker-mid="url(#m32)" marker-end="url(#m32)" points="1153.2,915.8 1154.2,912.4 1155.4,909 1157.3,905.8 1159.8,902.9 1162.8,900.4 1166.4,898.3 1170.3,896.6 1174.5,894.9 1178.9,892.9 1183.4,890.7 1188.1,888.3 1193.1,885.8 1198.3,883.2 1203.7,880.5 1209.5,877.6 1215.5,874.6 1221.9,871.4 1228.5,868.1 1235.5,864.6 1242.8,860.9 1250.5,857 1258.6,852.8 1267.2,848.8 1276.4,845 1286.3,841.4 1296.8,838.1 1308.1,835 1320,832.1 1332.7,829.4 1346.2,827.4 1360.1,826.3 1374,826.1 1387.9,827.1 1401.7,829.2 1415.3,831.9 1428.6,836.1 1441.5,841.2 1454.4,846.6 1467.2,851.9 1479.9,857.5 1491.6,863.5 1502.7,869 1513.3,874.3 1523.4,879.4 1532.9,884.2 1542.2,888.2 1551.2,891.7 1559,896.4 1564.6,903 1567.9,910.6 1568.1,918.7 1565,926.2 1559.9,932.7 1553.4,938.4 1546,943.6 1538.1,948.7 1529.5,953.5 1520.3,958.2 1510.6,963 1500.4,968.1 1489.7,973.4 1478.4,979.1 1466.7,985.1 1454.2,991.2 1441.1,995.9 1427.7,999.6 1414,1002 1400.2,1003.6 1386.3,1004.4 1372.4,1003.9 1358.5,1002.8 1344.6,1001.7 1330.9,999.4 1317.8,995.8 1306,990.8 1294.7,986.4 1283.8,982.6 1273.6,978.7 1264.1,974.7 1255,970.8 1246.5,967.1 1238.4,963.7 1230.7,960.3 1223.4,957.2 1216.4,954.3 1209.8,951.7 1203.5,949.4 1197.5,947 1191.9,944.7 1186.7,942.3 1181.7,939.9 1177.1,937.6 1172.8,935.2 1168.8,932.8 1165,930.5 1161.5,928 1158.5,925.3 1155.9,922.5 1153.9,919.3 1153.2,915.8"/>
<polyline fill="none" stroke="#15835f" stroke-width="1.2" stroke-linejoin="round" marker-start="url(#m33)" marker-mid="url(#m33)" marker-end="url(#m33)" points="1533.2,908.2 1531.8,916 1528.5,923.3 1524,929.9 1518.6,935.8 1512.6,941.1 1506.2,945.9 1499.5,950.2 1492.5,954.1 1485.3,957.6 1478,960.8 1470.5,963.7 1462.9,966.2 1455.3,968.6 1447.5,970.6 1439.8,972.4 1431.9,974 1424,975.3 1416.1,976.3 1408.1,977.1 1400.1,977.7 1392.2,978 1384.2,978 1376.2,977.6 1368.2,977 1360.2,976.1 1352.3,975 1344.4,973.6 1336.6,972 1328.8,970.1 1321.1,968 1313.5,965.6 1305.9,963 1298.5,960 1291.2,956.7 1284.1,953.1 1277.1,949.1 1270.5,944.7 1264.1,939.8 1258.3,934.3 1253.1,928.3 1248.8,921.5 1246,914.1 1245.3,906.1 1247.2,898.4 1250.9,891.3 1255.6,884.9 1261.2,879.2 1267.3,874 1273.8,869.3 1280.6,865.1 1287.7,861.3 1294.9,857.9 1302.3,854.8 1309.7,852 1317.3,849.5 1325,847.2 1332.8,845.2 1340.6,843.5 1348.4,842 1356.3,840.8 1364.3,839.8 1372.2,839 1380.2,838.5 1388.2,838.3 1396.2,838.5 1404.2,838.9 1412.2,839.6 1420.1,840.5 1428,841.7 1435.9,843.1 1443.7,844.8 1451.5,846.7 1459.2,848.9 1466.8,851.4 1474.3,854.1 1481.7,857.1 1489,860.5 1496.1,864.2 1502.9,868.3 1509.5,872.8 1515.7,877.9 1521.4,883.5 1526.4,889.7 1530.4,896.7 1532.8,904.3 1533.2,908.2"/>
<polyline fill="none" stroke="#1b8860" stroke-width="1.2" stroke-linejoin="round" marker-start="url(#m34)" marker-mid="url(#m34)" marker-end="url(#m34)" points="1534.7,919.2 1533.6,925 1531.1,930.5 1527.6,935.4 1523.5,939.8 1519,943.7 1514.1,947.1 1509,950.3 1503.7,953.1 1498.3,955.7 1492.7,958 1487.1,960.1 1481.4,962 1475.7,963.7 1469.9,965.2 1464,966.6 1458.1,967.8 1452.2,968.9 1446.3,969.8 1440.4,970.6 1434.4,971.3 1428.4,971.8 1422.4,972.2 1416.4,972.5 1410.4,972.6 1404.4,972.6 1398.4,972.4 1392.5,972.1 1386.5,971.6 1380.5,971 1374.5,970.2 1368.6,969.4 1362.7,968.4 1356.8,967.2 1350.9,965.9 1345.1,964.5 1339.3,963 1333.6,961.3 1327.9,959.4 1322.2,957.3 1316.7,955.1 1311.2,952.7 1305.8,950.1 1300.5,947.2 1295.4,944.1 1290.5,940.7 1285.8,936.9 1281.4,932.8 1277.5,928.2 1274.3,923.1 1272.1,917.6 1271.3,911.7 1272.2,905.8 1274.6,900.3 1278.1,895.4 1282.1,890.9 1286.7,887 1291.5,883.5 1296.6,880.3 1301.9,877.5 1307.3,874.9 1312.8,872.6 1318.5,870.5 1324.1,868.6 1329.9,866.8 1335.7,865.3 1341.5,863.9 1347.4,862.7 1353.3,861.6 1359.2,860.7 1365.2,859.9 1371.1,859.2 1377.1,858.7 1383.1,858.3 1389.1,858 1395.1,857.9 1401.1,857.9 1407.1,858 1413.1,858.4 1419.1,858.8 1425,859.4 1431,860.1 1436.9,861 1442.8,862 1448.7,863.1 1454.6,864.4 1460.4,865.8 1466.2,867.4 1472,869.1 1477.7,870.9 1483.3,873 1488.9,875.2 1494.4,877.6 1499.8,880.2 1505.1,883 1510.2,886.1 1515.2,889.5 1519.9,893.3 1524.2,897.4 1528.1,901.9 1531.4,906.9 1533.7,912.5 1534.7,918.4"/>
<polyline fill="none" stroke="#218c61" stroke-width="1.2" stroke-linejoin="round" marker-start="url(#m35)" marker-mid="url(#m35)" marker-end="url(#m35)" points="1508.6,919.8 1507.8,924.7 1506,929.3 1503.2,933.5 1499.9,937.2 1496.1,940.4 1492,943.3 1487.7,945.9 1483.3,948.2 1478.8,950.3 1474.1,952.2 1469.4,953.8 1464.6,955.3 1459.8,956.7 1454.9,957.8 1450.1,958.9 1445.1,959.8 1440.2,960.6 1435.2,961.3 1430.3,961.8 1425.3,962.3 1420.3,962.6 1415.3,962.9 1410.3,963.1 1405.3,963.1 1400.3,963.1 1395.3,962.9 1390.3,962.7 1385.3,962.4 1380.4,962 1375.4,961.4 1370.4,960.8 1365.5,960.1 1360.5,959.3 1355.6,958.3 1350.7,957.3 1345.9,956.1 1341.1,954.8 1336.3,953.4 1331.5,951.8 1326.8,950.1 1322.2,948.3 1317.6,946.2 1313.2,943.9 1308.8,941.4 1304.7,938.7 1300.7,935.7 1297,932.3 1293.7,928.5 1291,924.4 1289,919.8 1288.1,914.8 1288.5,909.9 1290,905.1 1292.5,900.8 1295.7,896.9 1299.3,893.5 1303.3,890.5 1307.5,887.8 1311.9,885.4 1316.4,883.3 1321,881.3 1325.7,879.6 1330.5,878.1 1335.3,876.7 1340.1,875.4 1345,874.4 1349.9,873.4 1354.8,872.6 1359.8,871.8 1364.7,871.2 1369.7,870.7 1374.7,870.4 1379.7,870.1 1384.7,869.9 1389.7,869.8 1394.7,869.8 1399.7,869.9 1404.7,870.1 1409.7,870.4 1414.7,870.8 1419.6,871.3 1424.6,871.8 1429.6,872.5 1434.5,873.3 1439.4,874.2 1444.3,875.2 1449.2,876.3 1454,877.6 1458.8,879 1463.6,880.5 1468.3,882.1 1473,884 1477.5,886 1482,888.2 1486.4,890.6 1490.7,893.2 1494.7,896.2 1498.5,899.4 1502,903 1504.9,907.1 1507.1,911.5 1508.4,916.3 1508.6,919.8"/>
<polyline fill="none" stroke="#289062" stroke-width="1.2" stroke-linejoin="round" marker-start="url(#m36)" marker-mid="url(#m36)" marker-end="url(#m36)" points="1503.4,920 1502.9,923.5 1501.7,926.9 1499.8,930 1497.6,932.8 1495,935.3 1492.2,937.5 1489.2,939.6 1486.1,941.4 1482.9,943.1 1479.6,944.6 1476.3,946 1472.9,947.2 1469.5,948.4 1466.1,949.5 1462.6,950.4 1459.1,951.3 1455.6,952.1 1452.1,952.8 1448.5,953.4 1445,954 1441.4,954.5 1437.9,954.9 1434.3,955.3 1430.7,955.6 1427.1,955.9 1423.5,956.1 1419.9,956.2 1416.3,956.3 1412.7,956.4 1409.1,956.3 1405.5,956.3 1401.9,956.2 1398.3,956 1394.7,955.7 1391.1,955.5 1387.6,955.1 1384,954.7 1380.4,954.3 1376.8,953.8 1373.3,953.2 1369.7,952.6 1366.2,951.9 1362.7,951.1 1359.2,950.3 1355.7,949.4 1352.2,948.4 1348.8,947.4 1345.4,946.2 1342,945 1338.6,943.7 1335.3,942.3 1332.1,940.7 1328.9,939.1 1325.8,937.3 1322.7,935.3 1319.8,933.2 1317.1,930.8 1314.6,928.3 1312.3,925.5 1310.5,922.4 1309.2,919 1308.6,915.5 1308.9,911.9 1309.9,908.4 1311.5,905.2 1313.6,902.3 1316.1,899.7 1318.8,897.4 1321.8,895.3 1324.8,893.4 1328,891.6 1331.2,890.1 1334.5,888.6 1337.9,887.3 1341.3,886.1 1344.7,885 1348.1,884 1351.6,883.1 1355.1,882.3 1358.7,881.6 1362.2,880.9 1365.7,880.3 1369.3,879.8 1372.9,879.3 1376.5,878.9 1380,878.6 1383.6,878.3 1387.2,878.1 1390.8,877.9 1394.4,877.8 1398,877.8 1401.6,877.8 1405.2,877.8 1408.8,877.9 1412.4,878.1 1416,878.3 1419.6,878.5 1423.2,878.9 1426.8,879.2 1430.3,879.7 1433.9,880.2 1437.5,880.7 1441,881.3 1444.5,882 1448.1,882.7 1451.6,883.5 1455.1,884.4 1458.5,885.3 1462,886.4 1465.4,887.5 1468.8,888.6 1472.2,889.9 1475.5,891.3 1478.8,892.8 1482,894.4 1485.1,896.2 1488.2,898.1 1491.2,900.1 1494,902.4 1496.6,904.9 1498.9,907.6 1500.9,910.6 1502.4,913.8 1503.3,917.3 1503.4,920"/>
<polyline fill="none" stroke="#1b8860" stroke-width="1.2" stroke-linejoin="round" marker-start="url(#m34)" marker-mid="url(#m34)" marker-end="url(#m34)" points="1536.6,920.4 1535.9,924.8 1534.6,928.9 1532.6,932.8 1530,936.4 1527,939.6 1523.7,942.5 1520.1,945 1516.2,947.2 1512.3,949.1 1508.2,950.8 1504.1,952.2 1499.8,953.5 1495.6,954.5 1491.3,955.4 1486.9,956 1482.5,956.6 1478.2,957 1473.8,957.2 1469.4,957.3 1465,957.3 1460.6,957.2 1456.2,957 1451.8,956.6 1447.4,956.2 1443,955.7 1438.7,955 1434.4,954.3 1430.1,953.4 1425.8,952.3 1421.5,951.2 1417.3,949.8 1413.2,948.4 1409.1,946.7 1405.1,944.9 1401.2,942.9 1397.4,940.7 1393.7,938.2 1390.2,935.5 1387,932.6 1384,929.4 1381.4,925.8 1379.2,922 1377.6,917.9 1376.7,913.6 1376.5,909.2 1376.9,904.8 1378,900.6 1379.8,896.6 1382.1,892.9 1385,889.5 1388.2,886.5 1391.7,883.9 1395.5,881.6 1399.4,879.6 1403.4,877.8 1407.5,876.3 1411.7,875 1416,873.9 1420.3,872.9 1424.6,872.2 1429,871.6 1433.4,871.1 1437.8,870.8 1442.2,870.7 1446.6,870.6 1451,870.7 1455.3,870.9 1459.7,871.2 1464.1,871.6 1468.5,872.1 1472.9,872.7 1477.2,873.4 1481.5,874.3 1485.8,875.3 1490.1,876.4 1494.3,877.6 1498.4,879 1502.5,880.6 1506.6,882.4 1510.5,884.3 1514.4,886.5 1518.1,888.8 1521.6,891.4 1525,894.2 1528.1,897.4 1530.9,900.8 1533.2,904.5 1535,908.5 1536.2,912.7 1536.7,917.1 1536.6,920.4"/>
<polyline fill="none" stroke="#15835f" stroke-width="1.2" stroke-linejoin="round" marker-start="url(#m33)" marker-mid="url(#m33)" marker-end="url(#m33)" points="1565.2,910.2 1564.9,914.6 1563.6,918.8 1561.4,922.6 1558.5,925.9 1555.3,928.9 1551.8,931.5 1548.1,933.9 1544.2,936 1540.2,937.9 1536.2,939.6 1532.1,941.2 1527.9,942.6 1523.7,943.9 1519.5,945.1 1515.2,946.2 1510.9,947.2 1506.6,948 1502.3,948.8 1497.9,949.5 1493.6,950.1 1489.2,950.6 1484.8,951.1 1480.4,951.5 1476.1,951.8 1471.7,952.1 1467.3,952.3 1462.9,952.4 1458.5,952.5 1454.1,952.4 1449.7,952.4 1445.3,952.2 1440.9,951.9 1436.5,951.6 1432.1,951.1 1427.8,950.5 1423.4,949.9 1419.1,949.1 1414.8,948.1 1410.5,947.1 1406.3,945.8 1402.1,944.4 1398.1,942.7 1394.1,940.8 1390.3,938.6 1386.8,936 1383.6,932.9 1381,929.4 1379.3,925.3 1378.6,921 1379,916.6 1380.4,912.5 1382.7,908.7 1385.6,905.4 1388.8,902.5 1392.4,899.9 1396.1,897.6 1400,895.5 1404,893.6 1408,891.9 1412.1,890.3 1416.3,888.9 1420.5,887.6 1424.7,886.4 1429,885.4 1433.3,884.4 1437.6,883.6 1442,882.8 1446.3,882.1 1450.7,881.5 1455,881 1459.4,880.5 1463.8,880.1 1468.2,879.8 1472.6,879.6 1477,879.4 1481.4,879.3 1485.8,879.2 1490.2,879.2 1494.6,879.3 1499,879.5 1503.4,879.8 1507.7,880.1 1512.1,880.6 1516.5,881.2 1520.8,881.9 1525.1,882.7 1529.4,883.6 1533.7,884.7 1537.9,886 1542.1,887.4 1546.1,889.1 1550.1,891.1 1553.8,893.3 1557.4,896 1560.5,899.1 1563,902.7 1564.7,906.7 1565.2,910.2"/>
<ellipse cx="1394.7" cy="915.8" rx="82" ry="28" fill="none" stroke="#379a62" stroke-width="5.5" transform="rotate(1 1394.7 915.8)"/>
<ellipse cx="1401.4" cy="916.4" rx="74" ry="30" fill="none" stroke="#4aa462" stroke-width="5.0" transform="rotate(2 1401.4 916.4)"/>
<ellipse cx="1398.4" cy="916.4" rx="65" ry="29.5" fill="#5aac62" transform="rotate(2 1398.4 916.4)"/>
<ellipse cx="1396.8" cy="916.9" rx="55" ry="24" fill="#6ab462" transform="rotate(1 1396.8 916.9)"/>
<ellipse cx="1396.8" cy="916.9" rx="48" ry="20.5" fill="#80c060" transform="rotate(1 1396.8 916.9)"/>
<ellipse cx="1396.8" cy="916.9" rx="41" ry="17" fill="#9ccc5e" transform="rotate(1 1396.8 916.9)"/>
<ellipse cx="1396.8" cy="916.9" rx="34.5" ry="14" fill="#b8da5c" transform="rotate(1 1396.8 916.9)"/>
<ellipse cx="1396.8" cy="916.9" rx="28.5" ry="11.2" fill="#d2e85c" transform="rotate(1 1396.8 916.9)"/>
<ellipse cx="1396.8" cy="916.9" rx="22.5" ry="8.6" fill="#e8f35e" transform="rotate(1 1396.8 916.9)"/>
<ellipse cx="1396.8" cy="916.9" rx="15" ry="5.6" fill="#f5fb66" transform="rotate(1 1396.8 916.9)"/>
<circle cx="667.9" cy="192.8" r="2.5" fill="#fff" stroke="#0c0c9c" stroke-width="1.3"/>
<circle cx="745.2" cy="342.2" r="2.5" fill="#fff" stroke="#1c1512" stroke-width="1.3"/>
<circle cx="745.3" cy="777.6" r="2.5" fill="#fff" stroke="#0ae6f2" stroke-width="1.3"/>
<circle cx="440.4" cy="842.9" r="2.5" fill="#fff" stroke="#0c7a5c" stroke-width="1.3"/>
<rect x="416.9" y="65.2" width="613" height="221.7" fill="none" stroke="#000" stroke-width="2.3"/>
<line x1="416.9" y1="249.8" x2="422.3" y2="249.8" stroke="#000" stroke-width="1.8" />
<line x1="1029.9" y1="249.8" x2="1024.5" y2="249.8" stroke="#000" stroke-width="1.8" />
<line x1="416.9" y1="212.9" x2="422.3" y2="212.9" stroke="#000" stroke-width="1.8" />
<line x1="1029.9" y1="212.9" x2="1024.5" y2="212.9" stroke="#000" stroke-width="1.8" />
<line x1="416.9" y1="176" x2="422.3" y2="176" stroke="#000" stroke-width="1.8" />
<line x1="1029.9" y1="176" x2="1024.5" y2="176" stroke="#000" stroke-width="1.8" />
<line x1="416.9" y1="139.1" x2="422.3" y2="139.1" stroke="#000" stroke-width="1.8" />
<line x1="1029.9" y1="139.1" x2="1024.5" y2="139.1" stroke="#000" stroke-width="1.8" />
<line x1="416.9" y1="102.2" x2="422.3" y2="102.2" stroke="#000" stroke-width="1.8" />
<line x1="1029.9" y1="102.2" x2="1024.5" y2="102.2" stroke="#000" stroke-width="1.8" />
<line x1="492.6" y1="65.2" x2="492.6" y2="70.6" stroke="#000" stroke-width="1.8" />
<line x1="492.6" y1="286.9" x2="492.6" y2="281.5" stroke="#000" stroke-width="1.8" />
<line x1="569.3" y1="65.2" x2="569.3" y2="70.6" stroke="#000" stroke-width="1.8" />
<line x1="569.3" y1="286.9" x2="569.3" y2="281.5" stroke="#000" stroke-width="1.8" />
<line x1="646" y1="65.2" x2="646" y2="70.6" stroke="#000" stroke-width="1.8" />
<line x1="646" y1="286.9" x2="646" y2="281.5" stroke="#000" stroke-width="1.8" />
<line x1="722.6" y1="65.2" x2="722.6" y2="70.6" stroke="#000" stroke-width="1.8" />
<line x1="722.6" y1="286.9" x2="722.6" y2="281.5" stroke="#000" stroke-width="1.8" />
<line x1="799.3" y1="65.2" x2="799.3" y2="70.6" stroke="#000" stroke-width="1.8" />
<line x1="799.3" y1="286.9" x2="799.3" y2="281.5" stroke="#000" stroke-width="1.8" />
<line x1="876" y1="65.2" x2="876" y2="70.6" stroke="#000" stroke-width="1.8" />
<line x1="876" y1="286.9" x2="876" y2="281.5" stroke="#000" stroke-width="1.8" />
<line x1="952.7" y1="65.2" x2="952.7" y2="70.6" stroke="#000" stroke-width="1.8" />
<line x1="952.7" y1="286.9" x2="952.7" y2="281.5" stroke="#000" stroke-width="1.8" />
<rect x="416" y="312.9" width="613.9" height="221.9" fill="none" stroke="#000" stroke-width="2.3"/>
<line x1="416" y1="497.8" x2="421.4" y2="497.8" stroke="#000" stroke-width="1.8" />
<line x1="1029.9" y1="497.8" x2="1024.5" y2="497.8" stroke="#000" stroke-width="1.8" />
<line x1="416" y1="460.7" x2="421.4" y2="460.7" stroke="#000" stroke-width="1.8" />
<line x1="1029.9" y1="460.7" x2="1024.5" y2="460.7" stroke="#000" stroke-width="1.8" />
<line x1="416" y1="423.6" x2="421.4" y2="423.6" stroke="#000" stroke-width="1.8" />
<line x1="1029.9" y1="423.6" x2="1024.5" y2="423.6" stroke="#000" stroke-width="1.8" />
<line x1="416" y1="386.4" x2="421.4" y2="386.4" stroke="#000" stroke-width="1.8" />
<line x1="1029.9" y1="386.4" x2="1024.5" y2="386.4" stroke="#000" stroke-width="1.8" />
<line x1="416" y1="349.3" x2="421.4" y2="349.3" stroke="#000" stroke-width="1.8" />
<line x1="1029.9" y1="349.3" x2="1024.5" y2="349.3" stroke="#000" stroke-width="1.8" />
<line x1="492.1" y1="312.9" x2="492.1" y2="318.3" stroke="#000" stroke-width="1.8" />
<line x1="492.1" y1="534.8" x2="492.1" y2="529.4" stroke="#000" stroke-width="1.8" />
<line x1="568.8" y1="312.9" x2="568.8" y2="318.3" stroke="#000" stroke-width="1.8" />
<line x1="568.8" y1="534.8" x2="568.8" y2="529.4" stroke="#000" stroke-width="1.8" />
<line x1="645.5" y1="312.9" x2="645.5" y2="318.3" stroke="#000" stroke-width="1.8" />
<line x1="645.5" y1="534.8" x2="645.5" y2="529.4" stroke="#000" stroke-width="1.8" />
<line x1="722.2" y1="312.9" x2="722.2" y2="318.3" stroke="#000" stroke-width="1.8" />
<line x1="722.2" y1="534.8" x2="722.2" y2="529.4" stroke="#000" stroke-width="1.8" />
<line x1="798.9" y1="312.9" x2="798.9" y2="318.3" stroke="#000" stroke-width="1.8" />
<line x1="798.9" y1="534.8" x2="798.9" y2="529.4" stroke="#000" stroke-width="1.8" />
<line x1="875.6" y1="312.9" x2="875.6" y2="318.3" stroke="#000" stroke-width="1.8" />
<line x1="875.6" y1="534.8" x2="875.6" y2="529.4" stroke="#000" stroke-width="1.8" />
<line x1="952.3" y1="312.9" x2="952.3" y2="318.3" stroke="#000" stroke-width="1.8" />
<line x1="952.3" y1="534.8" x2="952.3" y2="529.4" stroke="#000" stroke-width="1.8" />
<rect x="414.9" y="558" width="614.3" height="222.4" fill="none" stroke="#000" stroke-width="2.3"/>
<line x1="414.9" y1="743.1" x2="420.3" y2="743.1" stroke="#000" stroke-width="1.8" />
<line x1="1029.2" y1="743.1" x2="1023.8" y2="743.1" stroke="#000" stroke-width="1.8" />
<line x1="414.9" y1="706" x2="420.3" y2="706" stroke="#000" stroke-width="1.8" />
<line x1="1029.2" y1="706" x2="1023.8" y2="706" stroke="#000" stroke-width="1.8" />
<line x1="414.9" y1="668.9" x2="420.3" y2="668.9" stroke="#000" stroke-width="1.8" />
<line x1="1029.2" y1="668.9" x2="1023.8" y2="668.9" stroke="#000" stroke-width="1.8" />
<line x1="414.9" y1="631.7" x2="420.3" y2="631.7" stroke="#000" stroke-width="1.8" />
<line x1="1029.2" y1="631.7" x2="1023.8" y2="631.7" stroke="#000" stroke-width="1.8" />
<line x1="414.9" y1="594.6" x2="420.3" y2="594.6" stroke="#000" stroke-width="1.8" />
<line x1="1029.2" y1="594.6" x2="1023.8" y2="594.6" stroke="#000" stroke-width="1.8" />
<line x1="491.5" y1="558" x2="491.5" y2="563.4" stroke="#000" stroke-width="1.8" />
<line x1="491.5" y1="780.4" x2="491.5" y2="775" stroke="#000" stroke-width="1.8" />
<line x1="568.2" y1="558" x2="568.2" y2="563.4" stroke="#000" stroke-width="1.8" />
<line x1="568.2" y1="780.4" x2="568.2" y2="775" stroke="#000" stroke-width="1.8" />
<line x1="645" y1="558" x2="645" y2="563.4" stroke="#000" stroke-width="1.8" />
<line x1="645" y1="780.4" x2="645" y2="775" stroke="#000" stroke-width="1.8" />
<line x1="721.7" y1="558" x2="721.7" y2="563.4" stroke="#000" stroke-width="1.8" />
<line x1="721.7" y1="780.4" x2="721.7" y2="775" stroke="#000" stroke-width="1.8" />
<line x1="798.5" y1="558" x2="798.5" y2="563.4" stroke="#000" stroke-width="1.8" />
<line x1="798.5" y1="780.4" x2="798.5" y2="775" stroke="#000" stroke-width="1.8" />
<line x1="875.2" y1="558" x2="875.2" y2="563.4" stroke="#000" stroke-width="1.8" />
<line x1="875.2" y1="780.4" x2="875.2" y2="775" stroke="#000" stroke-width="1.8" />
<line x1="952" y1="558" x2="952" y2="563.4" stroke="#000" stroke-width="1.8" />
<line x1="952" y1="780.4" x2="952" y2="775" stroke="#000" stroke-width="1.8" />
<rect x="414.1" y="800.5" width="614.4" height="231.6" fill="none" stroke="#000" stroke-width="2.3"/>
<line x1="414.1" y1="993" x2="419.5" y2="993" stroke="#000" stroke-width="1.8" />
<line x1="1028.5" y1="993" x2="1023.1" y2="993" stroke="#000" stroke-width="1.8" />
<line x1="414.1" y1="954.6" x2="419.5" y2="954.6" stroke="#000" stroke-width="1.8" />
<line x1="1028.5" y1="954.6" x2="1023.1" y2="954.6" stroke="#000" stroke-width="1.8" />
<line x1="414.1" y1="916.1" x2="419.5" y2="916.1" stroke="#000" stroke-width="1.8" />
<line x1="1028.5" y1="916.1" x2="1023.1" y2="916.1" stroke="#000" stroke-width="1.8" />
<line x1="414.1" y1="877.7" x2="419.5" y2="877.7" stroke="#000" stroke-width="1.8" />
<line x1="1028.5" y1="877.7" x2="1023.1" y2="877.7" stroke="#000" stroke-width="1.8" />
<line x1="414.1" y1="839.3" x2="419.5" y2="839.3" stroke="#000" stroke-width="1.8" />
<line x1="1028.5" y1="839.3" x2="1023.1" y2="839.3" stroke="#000" stroke-width="1.8" />
<line x1="490.4" y1="800.5" x2="490.4" y2="805.9" stroke="#000" stroke-width="1.8" />
<line x1="490.4" y1="1032.1" x2="490.4" y2="1026.7" stroke="#000" stroke-width="1.8" />
<line x1="567.3" y1="800.5" x2="567.3" y2="805.9" stroke="#000" stroke-width="1.8" />
<line x1="567.3" y1="1032.1" x2="567.3" y2="1026.7" stroke="#000" stroke-width="1.8" />
<line x1="644.2" y1="800.5" x2="644.2" y2="805.9" stroke="#000" stroke-width="1.8" />
<line x1="644.2" y1="1032.1" x2="644.2" y2="1026.7" stroke="#000" stroke-width="1.8" />
<line x1="721" y1="800.5" x2="721" y2="805.9" stroke="#000" stroke-width="1.8" />
<line x1="721" y1="1032.1" x2="721" y2="1026.7" stroke="#000" stroke-width="1.8" />
<line x1="797.9" y1="800.5" x2="797.9" y2="805.9" stroke="#000" stroke-width="1.8" />
<line x1="797.9" y1="1032.1" x2="797.9" y2="1026.7" stroke="#000" stroke-width="1.8" />
<line x1="874.8" y1="800.5" x2="874.8" y2="805.9" stroke="#000" stroke-width="1.8" />
<line x1="874.8" y1="1032.1" x2="874.8" y2="1026.7" stroke="#000" stroke-width="1.8" />
<line x1="951.7" y1="800.5" x2="951.7" y2="805.9" stroke="#000" stroke-width="1.8" />
<line x1="951.7" y1="1032.1" x2="951.7" y2="1026.7" stroke="#000" stroke-width="1.8" />
<rect x="1100" y="65.2" width="608" height="221.1" fill="none" stroke="#000" stroke-width="2.3"/>
<line x1="1100" y1="249.5" x2="1105.4" y2="249.5" stroke="#000" stroke-width="1.8" />
<line x1="1708" y1="249.5" x2="1702.6" y2="249.5" stroke="#000" stroke-width="1.8" />
<line x1="1100" y1="212.8" x2="1105.4" y2="212.8" stroke="#000" stroke-width="1.8" />
<line x1="1708" y1="212.8" x2="1702.6" y2="212.8" stroke="#000" stroke-width="1.8" />
<line x1="1100" y1="176" x2="1105.4" y2="176" stroke="#000" stroke-width="1.8" />
<line x1="1708" y1="176" x2="1702.6" y2="176" stroke="#000" stroke-width="1.8" />
<line x1="1100" y1="139.2" x2="1105.4" y2="139.2" stroke="#000" stroke-width="1.8" />
<line x1="1708" y1="139.2" x2="1702.6" y2="139.2" stroke="#000" stroke-width="1.8" />
<line x1="1100" y1="102.5" x2="1105.4" y2="102.5" stroke="#000" stroke-width="1.8" />
<line x1="1708" y1="102.5" x2="1702.6" y2="102.5" stroke="#000" stroke-width="1.8" />
<line x1="1175.9" y1="65.2" x2="1175.9" y2="70.6" stroke="#000" stroke-width="1.8" />
<line x1="1175.9" y1="286.3" x2="1175.9" y2="280.9" stroke="#000" stroke-width="1.8" />
<line x1="1251.9" y1="65.2" x2="1251.9" y2="70.6" stroke="#000" stroke-width="1.8" />
<line x1="1251.9" y1="286.3" x2="1251.9" y2="280.9" stroke="#000" stroke-width="1.8" />
<line x1="1327.8" y1="65.2" x2="1327.8" y2="70.6" stroke="#000" stroke-width="1.8" />
<line x1="1327.8" y1="286.3" x2="1327.8" y2="280.9" stroke="#000" stroke-width="1.8" />
<line x1="1403.8" y1="65.2" x2="1403.8" y2="70.6" stroke="#000" stroke-width="1.8" />
<line x1="1403.8" y1="286.3" x2="1403.8" y2="280.9" stroke="#000" stroke-width="1.8" />
<line x1="1479.8" y1="65.2" x2="1479.8" y2="70.6" stroke="#000" stroke-width="1.8" />
<line x1="1479.8" y1="286.3" x2="1479.8" y2="280.9" stroke="#000" stroke-width="1.8" />
<line x1="1555.7" y1="65.2" x2="1555.7" y2="70.6" stroke="#000" stroke-width="1.8" />
<line x1="1555.7" y1="286.3" x2="1555.7" y2="280.9" stroke="#000" stroke-width="1.8" />
<line x1="1631.7" y1="65.2" x2="1631.7" y2="70.6" stroke="#000" stroke-width="1.8" />
<line x1="1631.7" y1="286.3" x2="1631.7" y2="280.9" stroke="#000" stroke-width="1.8" />
<rect x="1099.5" y="313.4" width="608.5" height="220.2" fill="none" stroke="#000" stroke-width="2.3"/>
<line x1="1099.5" y1="497" x2="1104.9" y2="497" stroke="#000" stroke-width="1.8" />
<line x1="1708" y1="497" x2="1702.6" y2="497" stroke="#000" stroke-width="1.8" />
<line x1="1099.5" y1="460.2" x2="1104.9" y2="460.2" stroke="#000" stroke-width="1.8" />
<line x1="1708" y1="460.2" x2="1702.6" y2="460.2" stroke="#000" stroke-width="1.8" />
<line x1="1099.5" y1="423.3" x2="1104.9" y2="423.3" stroke="#000" stroke-width="1.8" />
<line x1="1708" y1="423.3" x2="1702.6" y2="423.3" stroke="#000" stroke-width="1.8" />
<line x1="1099.5" y1="386.4" x2="1104.9" y2="386.4" stroke="#000" stroke-width="1.8" />
<line x1="1708" y1="386.4" x2="1702.6" y2="386.4" stroke="#000" stroke-width="1.8" />
<line x1="1099.5" y1="349.6" x2="1104.9" y2="349.6" stroke="#000" stroke-width="1.8" />
<line x1="1708" y1="349.6" x2="1702.6" y2="349.6" stroke="#000" stroke-width="1.8" />
<line x1="1175.7" y1="313.4" x2="1175.7" y2="318.8" stroke="#000" stroke-width="1.8" />
<line x1="1175.7" y1="533.6" x2="1175.7" y2="528.2" stroke="#000" stroke-width="1.8" />
<line x1="1251.6" y1="313.4" x2="1251.6" y2="318.8" stroke="#000" stroke-width="1.8" />
<line x1="1251.6" y1="533.6" x2="1251.6" y2="528.2" stroke="#000" stroke-width="1.8" />
<line x1="1327.5" y1="313.4" x2="1327.5" y2="318.8" stroke="#000" stroke-width="1.8" />
<line x1="1327.5" y1="533.6" x2="1327.5" y2="528.2" stroke="#000" stroke-width="1.8" />
<line x1="1403.5" y1="313.4" x2="1403.5" y2="318.8" stroke="#000" stroke-width="1.8" />
<line x1="1403.5" y1="533.6" x2="1403.5" y2="528.2" stroke="#000" stroke-width="1.8" />
<line x1="1479.5" y1="313.4" x2="1479.5" y2="318.8" stroke="#000" stroke-width="1.8" />
<line x1="1479.5" y1="533.6" x2="1479.5" y2="528.2" stroke="#000" stroke-width="1.8" />
<line x1="1555.4" y1="313.4" x2="1555.4" y2="318.8" stroke="#000" stroke-width="1.8" />
<line x1="1555.4" y1="533.6" x2="1555.4" y2="528.2" stroke="#000" stroke-width="1.8" />
<line x1="1631.3" y1="313.4" x2="1631.3" y2="318.8" stroke="#000" stroke-width="1.8" />
<line x1="1631.3" y1="533.6" x2="1631.3" y2="528.2" stroke="#000" stroke-width="1.8" />
<rect x="1098.6" y="560.3" width="608.9" height="218.7" fill="none" stroke="#000" stroke-width="2.3"/>
<line x1="1098.6" y1="742.6" x2="1104" y2="742.6" stroke="#000" stroke-width="1.8" />
<line x1="1707.5" y1="742.6" x2="1702.1" y2="742.6" stroke="#000" stroke-width="1.8" />
<line x1="1098.6" y1="705.9" x2="1104" y2="705.9" stroke="#000" stroke-width="1.8" />
<line x1="1707.5" y1="705.9" x2="1702.1" y2="705.9" stroke="#000" stroke-width="1.8" />
<line x1="1098.6" y1="669.2" x2="1104" y2="669.2" stroke="#000" stroke-width="1.8" />
<line x1="1707.5" y1="669.2" x2="1702.1" y2="669.2" stroke="#000" stroke-width="1.8" />
<line x1="1098.6" y1="632.5" x2="1104" y2="632.5" stroke="#000" stroke-width="1.8" />
<line x1="1707.5" y1="632.5" x2="1702.1" y2="632.5" stroke="#000" stroke-width="1.8" />
<line x1="1098.6" y1="595.8" x2="1104" y2="595.8" stroke="#000" stroke-width="1.8" />
<line x1="1707.5" y1="595.8" x2="1702.1" y2="595.8" stroke="#000" stroke-width="1.8" />
<line x1="1174.9" y1="560.3" x2="1174.9" y2="565.7" stroke="#000" stroke-width="1.8" />
<line x1="1174.9" y1="779" x2="1174.9" y2="773.6" stroke="#000" stroke-width="1.8" />
<line x1="1250.9" y1="560.3" x2="1250.9" y2="565.7" stroke="#000" stroke-width="1.8" />
<line x1="1250.9" y1="779" x2="1250.9" y2="773.6" stroke="#000" stroke-width="1.8" />
<line x1="1326.8" y1="560.3" x2="1326.8" y2="565.7" stroke="#000" stroke-width="1.8" />
<line x1="1326.8" y1="779" x2="1326.8" y2="773.6" stroke="#000" stroke-width="1.8" />
<line x1="1402.8" y1="560.3" x2="1402.8" y2="565.7" stroke="#000" stroke-width="1.8" />
<line x1="1402.8" y1="779" x2="1402.8" y2="773.6" stroke="#000" stroke-width="1.8" />
<line x1="1478.8" y1="560.3" x2="1478.8" y2="565.7" stroke="#000" stroke-width="1.8" />
<line x1="1478.8" y1="779" x2="1478.8" y2="773.6" stroke="#000" stroke-width="1.8" />
<line x1="1554.7" y1="560.3" x2="1554.7" y2="565.7" stroke="#000" stroke-width="1.8" />
<line x1="1554.7" y1="779" x2="1554.7" y2="773.6" stroke="#000" stroke-width="1.8" />
<line x1="1630.7" y1="560.3" x2="1630.7" y2="565.7" stroke="#000" stroke-width="1.8" />
<line x1="1630.7" y1="779" x2="1630.7" y2="773.6" stroke="#000" stroke-width="1.8" />
<rect x="1097.8" y="802.9" width="609.2" height="228.9" fill="none" stroke="#000" stroke-width="2.3"/>
<line x1="1097.8" y1="993.5" x2="1103.2" y2="993.5" stroke="#000" stroke-width="1.8" />
<line x1="1707" y1="993.5" x2="1701.6" y2="993.5" stroke="#000" stroke-width="1.8" />
<line x1="1097.8" y1="955.2" x2="1103.2" y2="955.2" stroke="#000" stroke-width="1.8" />
<line x1="1707" y1="955.2" x2="1701.6" y2="955.2" stroke="#000" stroke-width="1.8" />
<line x1="1097.8" y1="916.9" x2="1103.2" y2="916.9" stroke="#000" stroke-width="1.8" />
<line x1="1707" y1="916.9" x2="1701.6" y2="916.9" stroke="#000" stroke-width="1.8" />
<line x1="1097.8" y1="878.6" x2="1103.2" y2="878.6" stroke="#000" stroke-width="1.8" />
<line x1="1707" y1="878.6" x2="1701.6" y2="878.6" stroke="#000" stroke-width="1.8" />
<line x1="1097.8" y1="840.3" x2="1103.2" y2="840.3" stroke="#000" stroke-width="1.8" />
<line x1="1707" y1="840.3" x2="1701.6" y2="840.3" stroke="#000" stroke-width="1.8" />
<line x1="1174.2" y1="802.9" x2="1174.2" y2="808.3" stroke="#000" stroke-width="1.8" />
<line x1="1174.2" y1="1031.8" x2="1174.2" y2="1026.4" stroke="#000" stroke-width="1.8" />
<line x1="1250.1" y1="802.9" x2="1250.1" y2="808.3" stroke="#000" stroke-width="1.8" />
<line x1="1250.1" y1="1031.8" x2="1250.1" y2="1026.4" stroke="#000" stroke-width="1.8" />
<line x1="1326" y1="802.9" x2="1326" y2="808.3" stroke="#000" stroke-width="1.8" />
<line x1="1326" y1="1031.8" x2="1326" y2="1026.4" stroke="#000" stroke-width="1.8" />
<line x1="1402" y1="802.9" x2="1402" y2="808.3" stroke="#000" stroke-width="1.8" />
<line x1="1402" y1="1031.8" x2="1402" y2="1026.4" stroke="#000" stroke-width="1.8" />
<line x1="1478" y1="802.9" x2="1478" y2="808.3" stroke="#000" stroke-width="1.8" />
<line x1="1478" y1="1031.8" x2="1478" y2="1026.4" stroke="#000" stroke-width="1.8" />
<line x1="1553.9" y1="802.9" x2="1553.9" y2="808.3" stroke="#000" stroke-width="1.8" />
<line x1="1553.9" y1="1031.8" x2="1553.9" y2="1026.4" stroke="#000" stroke-width="1.8" />
<line x1="1629.8" y1="802.9" x2="1629.8" y2="808.3" stroke="#000" stroke-width="1.8" />
<line x1="1629.8" y1="1031.8" x2="1629.8" y2="1026.4" stroke="#000" stroke-width="1.8" />
<text x="411.7" y="104.7" font-size="16.5" text-anchor="end" font-family='"Liberation Serif", serif' >20</text>
<text x="411.7" y="144" font-size="16.5" text-anchor="end" font-family='"Liberation Serif", serif' >10</text>
<text x="411.7" y="181.9" font-size="16.5" text-anchor="end" font-family='"Liberation Serif", serif' >0</text>
<text x="411.7" y="220.4" font-size="16.5" text-anchor="end" font-family='"Liberation Serif", serif' >-10</text>
<text x="411.7" y="259.4" font-size="16.5" text-anchor="end" font-family='"Liberation Serif", serif' >-20</text>
<text x="411" y="354.1" font-size="16.5" text-anchor="end" font-family='"Liberation Serif", serif' >20</text>
<text x="411" y="391.8" font-size="16.5" text-anchor="end" font-family='"Liberation Serif", serif' >10</text>
<text x="411" y="429.9" font-size="16.5" text-anchor="end" font-family='"Liberation Serif", serif' >0</text>
<text x="411" y="468" font-size="16.5" text-anchor="end" font-family='"Liberation Serif", serif' >-10</text>
<text x="411" y="506.9" font-size="16.5" text-anchor="end" font-family='"Liberation Serif", serif' >-20</text>
<text x="408" y="598.3" font-size="16.5" text-anchor="end" font-family='"Liberation Serif", serif' >20</text>
<text x="408" y="637.2" font-size="16.5" text-anchor="end" font-family='"Liberation Serif", serif' >10</text>
<text x="408" y="675.3" font-size="16.5" text-anchor="end" font-family='"Liberation Serif", serif' >0</text>
<text x="408" y="714.1" font-size="16.5" text-anchor="end" font-family='"Liberation Serif", serif' >-10</text>
<text x="408" y="751.8" font-size="16.5" text-anchor="end" font-family='"Liberation Serif", serif' >-20</text>
<text x="410.2" y="844.1" font-size="16.5" text-anchor="end" font-family='"Liberation Serif", serif' >20</text>
<text x="410.2" y="883" font-size="16.5" text-anchor="end" font-family='"Liberation Serif", serif' >10</text>
<text x="410.2" y="920.7" font-size="16.5" text-anchor="end" font-family='"Liberation Serif", serif' >0</text>
<text x="410.2" y="959.9" font-size="16.5" text-anchor="end" font-family='"Liberation Serif", serif' >-10</text>
<text x="410.2" y="998.4" font-size="16.5" text-anchor="end" font-family='"Liberation Serif", serif' >-20</text>
<text x="1095.5" y="107.4" font-size="16.5" text-anchor="end" font-family='"Liberation Serif", serif' >10</text>
<text x="1095.5" y="183.8" font-size="16.5" text-anchor="end" font-family='"Liberation Serif", serif' >0</text>
<text x="1095.5" y="257.4" font-size="16.5" text-anchor="end" font-family='"Liberation Serif", serif' >-10</text>
<text x="1093.2" y="355.2" font-size="16.5" text-anchor="end" font-family='"Liberation Serif", serif' >10</text>
<text x="1093.2" y="430.6" font-size="16.5" text-anchor="end" font-family='"Liberation Serif", serif' >0</text>
<text x="1093.2" y="503.8" font-size="16.5" text-anchor="end" font-family='"Liberation Serif", serif' >-10</text>
<text x="1093.6" y="599.3" font-size="16.5" text-anchor="end" font-family='"Liberation Serif", serif' >10</text>
<text x="1093.6" y="676" font-size="16.5" text-anchor="end" font-family='"Liberation Serif", serif' >0</text>
<text x="1093.6" y="748.6" font-size="16.5" text-anchor="end" font-family='"Liberation Serif", serif' >-10</text>
<text x="1092.2" y="848" font-size="16.5" text-anchor="end" font-family='"Liberation Serif", serif' >10</text>
<text x="1092.2" y="923.7" font-size="16.5" text-anchor="end" font-family='"Liberation Serif", serif' >0</text>
<text x="1092.2" y="998" font-size="16.5" text-anchor="end" font-family='"Liberation Serif", serif' >-10</text>
<text x="410.9" y="73.6" font-size="22.3" text-anchor="end" font-family='"Liberation Serif", serif' >[rad/s]</text>
<text x="410.4" y="323" font-size="22.3" text-anchor="end" font-family='"Liberation Serif", serif' >[rad/s]</text>
<text x="407.9" y="567.2" font-size="22.3" text-anchor="end" font-family='"Liberation Serif", serif' >[rad/s]</text>
<text x="409.9" y="812.7" font-size="22.3" text-anchor="end" font-family='"Liberation Serif", serif' >[rad/s]</text>
<text x="1095.8" y="72.2" font-size="22.3" text-anchor="end" font-family='"Liberation Serif", serif' >[rad/s]</text>
<text x="1094" y="318.9" font-size="22.3" text-anchor="end" font-family='"Liberation Serif", serif' >[rad/s]</text>
<text x="1094.6" y="563.2" font-size="22.3" text-anchor="end" font-family='"Liberation Serif", serif' >[rad/s]</text>
<text x="1092.6" y="811.2" font-size="22.3" text-anchor="end" font-family='"Liberation Serif", serif' >[rad/s]</text>
<text x="413.1" y="1046.2" font-size="16.5" text-anchor="middle" font-family='"Liberation Serif", serif' >-2</text>
<text x="489.9" y="1046.2" font-size="16.5" text-anchor="middle" font-family='"Liberation Serif", serif' >-1.5</text>
<text x="565.7" y="1046.2" font-size="16.5" text-anchor="middle" font-family='"Liberation Serif", serif' >-1</text>
<text x="642.4" y="1046.2" font-size="16.5" text-anchor="middle" font-family='"Liberation Serif", serif' >-0.5</text>
<text x="721.1" y="1046.2" font-size="16.5" text-anchor="middle" font-family='"Liberation Serif", serif' >0</text>
<text x="798.8" y="1046.2" font-size="16.5" text-anchor="middle" font-family='"Liberation Serif", serif' >0.5</text>
<text x="874.6" y="1046.2" font-size="16.5" text-anchor="middle" font-family='"Liberation Serif", serif' >1</text>
<text x="955.3" y="1046.2" font-size="16.5" text-anchor="middle" font-family='"Liberation Serif", serif' >1.5</text>
<text x="1095.2" y="1049.6" font-size="16.5" text-anchor="middle" font-family='"Liberation Serif", serif' >-2</text>
<text x="1169.5" y="1049.6" font-size="16.5" text-anchor="middle" font-family='"Liberation Serif", serif' >-1.5</text>
<text x="1246.3" y="1049.6" font-size="16.5" text-anchor="middle" font-family='"Liberation Serif", serif' >-1</text>
<text x="1322.3" y="1049.6" font-size="16.5" text-anchor="middle" font-family='"Liberation Serif", serif' >-0.5</text>
<text x="1402.5" y="1049.6" font-size="16.5" text-anchor="middle" font-family='"Liberation Serif", serif' >0</text>
<text x="1478.2" y="1049.6" font-size="16.5" text-anchor="middle" font-family='"Liberation Serif", serif' >0.5</text>
<text x="1556" y="1049.6" font-size="16.5" text-anchor="middle" font-family='"Liberation Serif", serif' >1</text>
<text x="1635.2" y="1049.6" font-size="16.5" text-anchor="middle" font-family='"Liberation Serif", serif' >1.5</text>
<text x="721.1" y="1067.6" font-size="18" text-anchor="middle" font-family='"Liberation Serif", serif' >Joint Angle</text>
<text x="1401.5" y="1069.5" font-size="18" text-anchor="middle" font-family='"Liberation Serif", serif' >Joint Angle</text>
<text x="999" y="1053.7" font-size="22.3" text-anchor="start" font-family='"Liberation Serif", serif' >[rad]</text>
<text x="1676.3" y="1055.5" font-size="22.3" text-anchor="start" font-family='"Liberation Serif", serif' >[rad]</text>
<text x="690.6" y="35.6" font-size="42.3" text-anchor="middle" font-family='"Liberation Serif", serif' >Moving Base</text>
<text x="1406.7" y="35" font-size="42.3" text-anchor="middle" font-family='"Liberation Serif", serif' >Fixed Base</text>
<text x="299.2" y="171" font-size="18.3" text-anchor="start" font-family='"Liberation Serif", serif' >Joint 1</text>
<text x="299.2" y="193.5" font-size="18.4" text-anchor="start" font-family='"Liberation Serif", serif' >Angular Vel.</text>
<text x="299.2" y="419" font-size="18.3" text-anchor="start" font-family='"Liberation Serif", serif' >Joint 2</text>
<text x="299.2" y="440.8" font-size="18.4" text-anchor="start" font-family='"Liberation Serif", serif' >Angular Vel.</text>
<text x="295.3" y="664.4" font-size="18.3" text-anchor="start" font-family='"Liberation Serif", serif' >Joint 3</text>
<text x="295.3" y="686.9" font-size="18.4" text-anchor="start" font-family='"Liberation Serif", serif' >Angular Vel.</text>
<text x="297.3" y="910.2" font-size="18.3" text-anchor="start" font-family='"Liberation Serif", serif' >Joint 4</text>
<text x="297.3" y="932.4" font-size="18.4" text-anchor="start" font-family='"Liberation Serif", serif' >Angular Vel.</text>
<rect x="6" y="295.5" width="281.2" height="506.3" fill="#808080"/>
<polygon points="97.9,376.5 186.4,376.5 177.9,414.4 109.1,414.4" fill="url(#gNavy)"/>
<rect x="97.9" y="372.6" width="88.5" height="4.6" fill="#1a1ad2"/>
<circle cx="141.4" cy="375.1" r="10.4" fill="#b04848" fill-opacity="0.55"/>
<rect x="131.5" y="377" width="19.5" height="42" rx="9" fill="#803030" fill-opacity="0.35"/>
<polyline points="141.4,399.5 126.6,479.8" fill="none" stroke="#0e0e86" stroke-width="11.2" stroke-linejoin="round" stroke-linecap="butt"/>
<circle cx="141.4" cy="399.5" r="5.6" fill="#0e0e86"/>
<polyline points="141.4,399.5 126.6,479.8" fill="none" stroke="#1414a8" stroke-width="9.2" stroke-linejoin="round" stroke-linecap="butt"/>
<circle cx="141.4" cy="399.5" r="4.6" fill="#1414a8"/>
<polyline points="141.4,399.5 126.6,479.8" fill="none" stroke="#1818c4" stroke-width="6.7" stroke-linejoin="round" stroke-linecap="butt"/>
<circle cx="141.4" cy="399.5" r="3.4" fill="#1818c4"/>
<polyline points="141.4,399.5 126.6,479.8" fill="none" stroke="#1c1cd4" stroke-width="4" stroke-linejoin="round" stroke-linecap="butt"/>
<circle cx="141.4" cy="399.5" r="2" fill="#1c1cd4"/>
<polyline points="126.6,479.8 132.5,567.5 161.1,650.3 130.2,730.3" fill="none" stroke="#560b0b" stroke-width="11.2" stroke-linejoin="round" stroke-linecap="butt"/>
<circle cx="130.2" cy="730.3" r="5.6" fill="#560b0b"/>
<polyline points="126.6,479.8 132.5,567.5 161.1,650.3 130.2,730.3" fill="none" stroke="#6c0f0f" stroke-width="9.2" stroke-linejoin="round" stroke-linecap="butt"/>
<circle cx="130.2" cy="730.3" r="4.6" fill="#6c0f0f"/>
<polyline points="126.6,479.8 132.5,567.5 161.1,650.3 130.2,730.3" fill="none" stroke="#7e1313" stroke-width="6.7" stroke-linejoin="round" stroke-linecap="butt"/>
<circle cx="130.2" cy="730.3" r="3.4" fill="#7e1313"/>
<polyline points="126.6,479.8 132.5,567.5 161.1,650.3 130.2,730.3" fill="none" stroke="#8a1616" stroke-width="4" stroke-linejoin="round" stroke-linecap="butt"/>
<circle cx="130.2" cy="730.3" r="2" fill="#8a1616"/>
<rect x="1728.3" y="297" width="258.5" height="520.7" fill="#808080"/>
<polygon points="1822.2,363 1904.3,363 1895.8,405.5 1829.5,405.5" fill="url(#gNavy)"/>
<rect x="1822.2" y="359.2" width="82.1" height="4.4" fill="#1a1ad2"/>
<polyline points="1861,388.5 1841,469.7" fill="none" stroke="#0e0e86" stroke-width="10.4" stroke-linejoin="round" stroke-linecap="butt"/>
<circle cx="1861" cy="388.5" r="5.2" fill="#0e0e86"/>
<polyline points="1861,388.5 1841,469.7" fill="none" stroke="#1414a8" stroke-width="8.5" stroke-linejoin="round" stroke-linecap="butt"/>
<circle cx="1861" cy="388.5" r="4.3" fill="#1414a8"/>
<polyline points="1861,388.5 1841,469.7" fill="none" stroke="#1818c4" stroke-width="6.2" stroke-linejoin="round" stroke-linecap="butt"/>
<circle cx="1861" cy="388.5" r="3.1" fill="#1818c4"/>
<polyline points="1861,388.5 1841,469.7" fill="none" stroke="#1c1cd4" stroke-width="3.7" stroke-linejoin="round" stroke-linecap="butt"/>
<circle cx="1861" cy="388.5" r="1.9" fill="#1c1cd4"/>
<polyline points="1841,469.7 1822.2,527.2 1802.7,580.6 1784.8,639.5 1743.9,717" fill="none" stroke="#560b0b" stroke-width="10.4" stroke-linejoin="round" stroke-linecap="butt"/>
<circle cx="1743.9" cy="717" r="5.2" fill="#560b0b"/>
<polyline points="1841,469.7 1822.2,527.2 1802.7,580.6 1784.8,639.5 1743.9,717" fill="none" stroke="#6c0f0f" stroke-width="8.5" stroke-linejoin="round" stroke-linecap="butt"/>
<circle cx="1743.9" cy="717" r="4.3" fill="#6c0f0f"/>
<polyline points="1841,469.7 1822.2,527.2 1802.7,580.6 1784.8,639.5 1743.9,717" fill="none" stroke="#7e1313" stroke-width="6.2" stroke-linejoin="round" stroke-linecap="butt"/>
<circle cx="1743.9" cy="717" r="3.1" fill="#7e1313"/>
<polyline points="1841,469.7 1822.2,527.2 1802.7,580.6 1784.8,639.5 1743.9,717" fill="none" stroke="#8a1616" stroke-width="3.7" stroke-linejoin="round" stroke-linecap="butt"/>
<circle cx="1743.9" cy="717" r="1.9" fill="#8a1616"/>
<rect x="28" y="459" width="1" height="1" fill="#d8d860"/>
<rect x="144.2" y="459" width="1" height="1" fill="#d8d860"/>
<rect x="264" y="459" width="1" height="1" fill="#d8d860"/>
<rect x="1749" y="449.5" width="1" height="1" fill="#d8d860"/>
<rect x="1860.5" y="449.5" width="1" height="1" fill="#d8d860"/>
<rect x="1972" y="449.5" width="1" height="1" fill="#d8d860"/>
<text x="23.7" y="933.4" font-size="29" text-anchor="start" font-family='"Liberation Sans", sans-serif' >w</text>
<text x="46.5" y="933.4" font-size="17.8" text-anchor="start" font-family='"Liberation Sans", sans-serif' >1</text>
<text x="57.1" y="933.4" font-size="29" text-anchor="start" font-family='"Liberation Sans", sans-serif' textLength="21" lengthAdjust="spacingAndGlyphs">=</text>
<text x="77.5" y="933.4" font-size="29" text-anchor="start" font-family='"Liberation Sans", sans-serif' textLength="55" lengthAdjust="spacingAndGlyphs">9.50</text>
<text x="23.7" y="968.6" font-size="29" text-anchor="start" font-family='"Liberation Sans", sans-serif' >w</text>
<text x="46.5" y="968.6" font-size="17.8" text-anchor="start" font-family='"Liberation Sans", sans-serif' >2</text>
<text x="57.1" y="968.6" font-size="29" text-anchor="start" font-family='"Liberation Sans", sans-serif' textLength="21" lengthAdjust="spacingAndGlyphs">=</text>
<text x="77.5" y="968.6" font-size="29" text-anchor="start" font-family='"Liberation Sans", sans-serif' textLength="55" lengthAdjust="spacingAndGlyphs">9.50</text>
<text x="23.7" y="1003.6" font-size="29" text-anchor="start" font-family='"Liberation Sans", sans-serif' >w</text>
<text x="46.5" y="1003.6" font-size="17.8" text-anchor="start" font-family='"Liberation Sans", sans-serif' >3</text>
<text x="57.1" y="1003.6" font-size="29" text-anchor="start" font-family='"Liberation Sans", sans-serif' textLength="21" lengthAdjust="spacingAndGlyphs">=</text>
<text x="77.5" y="1003.6" font-size="29" text-anchor="start" font-family='"Liberation Sans", sans-serif' textLength="55" lengthAdjust="spacingAndGlyphs">9.50</text>
<text x="23.7" y="1037.7" font-size="29" text-anchor="start" font-family='"Liberation Sans", sans-serif' >w</text>
<text x="46.5" y="1037.7" font-size="17.8" text-anchor="start" font-family='"Liberation Sans", sans-serif' >4</text>
<text x="57.1" y="1037.7" font-size="29" text-anchor="start" font-family='"Liberation Sans", sans-serif' textLength="21" lengthAdjust="spacingAndGlyphs">=</text>
<text x="77.5" y="1037.7" font-size="29" text-anchor="start" font-family='"Liberation Sans", sans-serif' textLength="55" lengthAdjust="spacingAndGlyphs">9.50</text>
<text x="1890.9" y="952" font-size="29" text-anchor="start" font-family='"Liberation Sans", sans-serif' >w</text>
<text x="1913.6" y="952" font-size="17.8" text-anchor="start" font-family='"Liberation Sans", sans-serif' >1</text>
<text x="1923.9" y="952" font-size="29" text-anchor="start" font-family='"Liberation Sans", sans-serif' textLength="21" lengthAdjust="spacingAndGlyphs">=</text>
<text x="1943.8" y="952" font-size="29" text-anchor="start" font-family='"Liberation Sans", sans-serif' textLength="51.5" lengthAdjust="spacingAndGlyphs">2.81</text>
<text x="1890.9" y="987.5" font-size="29" text-anchor="start" font-family='"Liberation Sans", sans-serif' >w</text>
<text x="1913.6" y="987.5" font-size="17.8" text-anchor="start" font-family='"Liberation Sans", sans-serif' >2</text>
<text x="1923.9" y="987.5" font-size="29" text-anchor="start" font-family='"Liberation Sans", sans-serif' textLength="21" lengthAdjust="spacingAndGlyphs">=</text>
<text x="1943.8" y="987.5" font-size="29" text-anchor="start" font-family='"Liberation Sans", sans-serif' textLength="51.5" lengthAdjust="spacingAndGlyphs">2.81</text>
<text x="1890.9" y="1022.7" font-size="29" text-anchor="start" font-family='"Liberation Sans", sans-serif' >w</text>
<text x="1913.6" y="1022.7" font-size="17.8" text-anchor="start" font-family='"Liberation Sans", sans-serif' >3</text>
<text x="1923.9" y="1022.7" font-size="29" text-anchor="start" font-family='"Liberation Sans", sans-serif' textLength="21" lengthAdjust="spacingAndGlyphs">=</text>
<text x="1943.8" y="1022.7" font-size="29" text-anchor="start" font-family='"Liberation Sans", sans-serif' textLength="51.5" lengthAdjust="spacingAndGlyphs">2.81</text>
<text x="1890.9" y="1056.3" font-size="29" text-anchor="start" font-family='"Liberation Sans", sans-serif' >w</text>
<text x="1913.6" y="1056.3" font-size="17.8" text-anchor="start" font-family='"Liberation Sans", sans-serif' >4</text>
<text x="1923.9" y="1056.3" font-size="29" text-anchor="start" font-family='"Liberation Sans", sans-serif' textLength="21" lengthAdjust="spacingAndGlyphs">=</text>
<text x="1943.8" y="1056.3" font-size="29" text-anchor="start" font-family='"Liberation Sans", sans-serif' textLength="51.5" lengthAdjust="spacingAndGlyphs">2.81</text>
<polyline fill="none" stroke="#ecf24a" stroke-width="1.1" stroke-linejoin="round" marker-start="url(#m37)" marker-mid="url(#m37)" marker-end="url(#m37)" clip-path="url(#cBL)" points="246.6,1321.9 249.5,1305.7 252.4,1289 255.3,1272.1 258.2,1255.1 261.1,1238.3 264,1221.8 266.9,1205.8 269.8,1190.5 272.7,1176.1 275.6,1162.6 278.5,1150.4 281.4,1139.4 284.3,1129.9 287.2,1121.9 290.1,1115.6 293,1110.9 295.9,1108 298.8,1106.8 301.7,1107.5 304.6,1110 307.5,1114.3 310.4,1120.3 313.3,1128 316.2,1137.4 319.1,1148.2 322,1160.3 324.9,1173.7 327.8,1188.1 330.7,1203.4 333.6,1219.5 336.5,1236 339.4,1253 342.3,1270 345.2,1287 348.1,1303.7 351,1320 353.9,1335.6 356.8,1350.5 359.7,1364.3 362.6,1377 365.5,1388.3 368.4,1398.3 371.3,1406.7 374.2,1413.4 377.1,1418.5 380,1421.7 382.9,1423.1 385.8,1422.7 388.7,1420.6 391.6,1416.7 394.5,1411.2 397.4,1404 400.3,1395.3 403.2,1385.1 406.1,1373.6 409,1360.9 411.9,1347.2 414.8,1332.5 417.7,1317.1 420.6,1301.2 423.5,1284.8 426.4,1268.3 429.3,1251.7 432.2,1235.3 435.1,1219.3 438,1203.8 440.9,1189 443.8,1175.1 446.7,1162.2 449.6,1150.5 452.5,1140.1 455.4,1131.1 458.3,1123.7 461.2,1117.8 464.1,1113.7 467,1111.2 469.9,1110.5 472.8,1111.6 475.7,1114.3 478.6,1118.8 481.5,1124.9 484.4,1132.7 487.3,1141.9 490.2,1152.5 493.1,1164.4 496,1177.4 498.9,1191.5 501.8,1206.5 504.7,1222.1 507.6,1238.3 510.5,1254.8 513.4,1271.5 516.3,1288.2 519.2,1304.7 522.1,1320.9 525,1336.5 527.9,1351.4 530.8,1365.4 533.7,1378.4 536.6,1390.3 539.5,1400.9 542.4,1410 545.3,1417.7 548.2,1423.8 551.1,1428.2 554,1430.9 556.9,1431.9 559.8,1431.1 562.7,1428.5 565.6,1424.1 568.5,1418 571.4,1410.2 574.3,1400.8 577.2,1389.9 580.1,1377.6 583,1364.2 585.9,1349.6 588.8,1334.2 591.7,1318 594.6,1301.2 597.5,1284.1 600.4,1266.8 603.3,1249.4 606.2,1232.3 609.1,1215.6 612,1199.4 614.9,1184 617.8,1169.6 620.7,1156.2 623.6,1144 626.5,1133.2 629.4,1124 632.3,1116.3 635.2,1110.2 638.1,1106 641,1103.5 643.9,1102.8 646.8,1104 649.7,1106.9 652.6,1111.6 655.5,1118 658.4,1126 661.3,1135.5 664.2,1146.5 667.1,1158.8 670,1172.2 672.9,1186.7 675.8,1202 678.7,1218.1 681.6,1234.6 684.5,1251.4 687.4,1268.4 690.3,1285.4 693.2,1302 696.1,1318.3 699,1333.9 701.9,1348.8 704.8,1362.7 707.7,1375.5 710.6,1387 713.5,1397.2 716.4,1405.8 719.3,1412.9 722.2,1418.3 725.1,1421.9 728,1423.8 730.9,1423.9 733.8,1422.2 736.7,1418.7 739.6,1413.5 742.5,1406.7 745.4,1398.2 748.3,1388.2 751.2,1376.9 754.1,1364.2 757,1350.5 759.9,1335.8 762.8,1320.3 765.7,1304.2 768.6,1287.7 771.5,1270.9 774.4,1254.1 777.3,1237.4 780.2,1221.1 783.1,1205.2 786,1190.1 788.9,1175.8 791.8,1162.6 794.7,1150.5 797.6,1139.7 800.5,1130.4 803.4,1122.7 806.3,1116.5 809.2,1112.1 812.1,1109.4 815,1108.5 817.9,1109.4 820.8,1112.1 823.7,1116.5 826.6,1122.6 829.5,1130.3 832.4,1139.6 835.3,1150.3 838.2,1162.4 841.1,1175.6 844,1189.9 846.9,1205 849.8,1220.9 852.7,1237.3 855.6,1254.1 858.5,1271.1 861.4,1288 864.3,1304.8 867.2,1321.2 870.1,1337 873,1352.1 875.9,1366.2 878.8,1379.4 881.7,1391.3 884.6,1401.8 887.5,1411 890.4,1418.5 893.3,1424.5 896.2,1428.7 899.1,1431.2 902,1431.9 904.9,1430.8 907.8,1427.8 910.7,1423 913.6,1416.4 916.5,1408.1 919.4,1398.3 922.3,1386.9 925.2,1374.2 928.1,1360.3 931,1345.4 933.9,1329.5 936.8,1312.9 939.7,1295.9 942.6,1278.5 945.5,1261 948.4,1243.5 951.3,1226.3 954.2,1209.6 957.1,1193.6 960,1178.4 962.9,1164.2 965.8,1151.2 968.7,1139.5 971.6,1129.3 974.5,1120.6 977.4,1113.6 980.3,1108.4 983.2,1105 986.1,1103.4 989,1103.7 991.9,1105.8 994.8,1109.7 997.7,1115.3 1000.6,1122.7 1003.5,1131.6 1006.4,1142.1 1009.3,1153.9 1012.2,1167 1015.1,1181.2 1018,1196.4 1020.9,1212.3 1023.8,1228.9 1026.7,1245.8 1029.6,1263 1032.5,1280.2 1034.4,1291.4"/>
<polyline fill="none" stroke="#f9a873" stroke-width="0.8" stroke-linejoin="round" marker-start="url(#m38)" marker-mid="url(#m38)" marker-end="url(#m38)" clip-path="url(#cBL)" points="247.1,1319.5 249.7,1323.1 252.3,1326.1 254.9,1328.6 257.6,1330.5 260.2,1331.9 262.8,1332.8 265.4,1333 268,1332.6 270.6,1331.7 273.2,1330.2 275.9,1328.1 278.5,1325.5 281.1,1322.4 283.7,1318.8 286.3,1314.7 288.9,1310.2 291.6,1305.4 294.2,1300.1 296.8,1294.7 299.4,1288.9 302,1283 304.6,1277 307.2,1270.8 309.9,1264.7 312.5,1258.6 315.1,1252.5 317.7,1246.6 320.3,1241 322.9,1235.5 325.6,1230.4 328.2,1225.6 330.8,1221.2 333.4,1217.2 336,1213.7 338.6,1210.7 341.2,1208.2 343.9,1206.2 346.5,1204.8 349.1,1204 351.7,1203.8 354.3,1204.2 356.9,1205.1 359.5,1206.6 362.2,1208.7 364.8,1211.3 367.4,1214.5 370,1218.1 372.6,1222.2 375.2,1226.7 377.9,1231.5 380.5,1236.7 383.1,1242.2 385.7,1248 388.3,1253.9 390.9,1260 393.5,1266.1 396.2,1272.2 398.8,1278.3 401.4,1284.4 404,1290.3 406.6,1295.9 409.2,1301.4 411.8,1306.5 414.5,1311.3 417.1,1315.7 419.7,1319.7 422.3,1323.2 424.9,1326.2 427.5,1328.7 430.1,1330.6 432.8,1332 435.4,1332.8 438,1333 440.6,1332.6 443.2,1331.7 445.8,1330.1 448.5,1328.1 451.1,1325.4 453.7,1322.3 456.3,1318.7 458.9,1314.6 461.5,1310.1 464.1,1305.2 466.8,1300 469.4,1294.5 472,1288.7 474.6,1282.8 477.2,1276.7 479.8,1270.6 482.5,1264.5 485.1,1258.3 487.7,1252.3 490.3,1246.4 492.9,1240.8 495.5,1235.3 498.1,1230.2 500.8,1225.4 503.4,1221 506,1217.1 508.6,1213.6 511.2,1210.6 513.8,1208.1 516.4,1206.2 519.1,1204.8 521.7,1204 524.3,1203.8 526.9,1204.2 529.5,1205.1 532.1,1206.7 534.8,1208.8 537.4,1211.4 540,1214.6 542.6,1218.2 545.2,1222.3 547.8,1226.8 550.4,1231.7 553.1,1236.9 555.7,1242.4 558.3,1248.2 560.9,1254.1 563.5,1260.2 566.1,1266.3 568.7,1272.4 571.4,1278.6 574,1284.6 576.6,1290.5 579.2,1296.1 581.8,1301.6 584.4,1306.7 587.1,1311.5 589.7,1315.8 592.3,1319.8 594.9,1323.3 597.5,1326.3 600.1,1328.7 602.7,1330.7 605.4,1332 608,1332.8 610.6,1333 613.2,1332.6 615.8,1331.6 618.4,1330.1 621,1328 623.7,1325.3 626.3,1322.2 628.9,1318.5 631.5,1314.4 634.1,1309.9 636.7,1305 639.4,1299.8 642,1294.3 644.6,1288.5 647.2,1282.6 649.8,1276.5 652.4,1270.4 655,1264.2 657.7,1258.1 660.3,1252.1 662.9,1246.2 665.5,1240.6 668.1,1235.2 670.7,1230 673.3,1225.3 676,1220.9 678.6,1216.9 681.2,1213.5 683.8,1210.5 686.4,1208 689,1206.1 691.6,1204.8 694.3,1204 696.9,1203.8 699.5,1204.2 702.1,1205.2 704.7,1206.7 707.3,1208.9 710,1211.5 712.6,1214.7 715.2,1218.3 717.8,1222.5 720.4,1227 723,1231.9 725.6,1237.1 728.3,1242.6 730.9,1248.4 733.5,1254.3 736.1,1260.4 738.7,1266.5 741.3,1272.7 744,1278.8 746.6,1284.8 749.2,1290.7 751.8,1296.3 754.4,1301.7 757,1306.8 759.6,1311.6 762.3,1316 764.9,1319.9 767.5,1323.4 770.1,1326.4 772.7,1328.8 775.3,1330.7 777.9,1332.1 780.6,1332.8 783.2,1333 785.8,1332.6 788.4,1331.6 791,1330 793.6,1327.9 796.3,1325.2 798.9,1322.1 801.5,1318.4 804.1,1314.3 806.7,1309.7 809.3,1304.8 811.9,1299.6 814.6,1294.1 817.2,1288.3 819.8,1282.4 822.4,1276.3 825,1270.2 827.6,1264 830.2,1257.9 832.9,1251.9 835.5,1246 838.1,1240.4 840.7,1235 843.3,1229.9 845.9,1225.1 848.6,1220.7 851.2,1216.8 853.8,1213.4 856.4,1210.4 859,1207.9 861.6,1206.1 864.2,1204.7 866.9,1204 869.5,1203.8 872.1,1204.2 874.7,1205.2 877.3,1206.8 879.9,1208.9 882.5,1211.6 885.2,1214.8 887.8,1218.5 890.4,1222.6 893,1227.1 895.6,1232.1 898.2,1237.3 900.9,1242.8 903.5,1248.6 906.1,1254.5 908.7,1260.6 911.3,1266.7 913.9,1272.9 916.5,1279 919.2,1285 921.8,1290.9 924.4,1296.5 927,1301.9 929.6,1307 932.2,1311.8 934.8,1316.1 937.5,1320 940.1,1323.5 942.7,1326.5 945.3,1328.9 947.9,1330.8 950.5,1332.1 953.2,1332.8 955.8,1333 958.4,1332.6 961,1331.5 963.6,1330 966.2,1327.8 968.8,1325.1 971.5,1321.9 974.1,1318.3 976.7,1314.1 979.3,1309.6 981.9,1304.7 984.5,1299.4 987.1,1293.9 989.8,1288.1 992.4,1282.2 995,1276.1 997.6,1270 1000.2,1263.8 1002.8,1257.7 1005.5,1251.7 1008.1,1245.8 1010.7,1240.2 1013.3,1234.8 1015.9,1229.7 1018.5,1225 1021.1,1220.6 1023.8,1216.7 1026.4,1213.2 1029,1210.3 1031.6,1207.9 1034.2,1206 1034.4,1205.9"/>
<polyline fill="none" stroke="#f31af3" stroke-width="0.8" stroke-linejoin="round" marker-start="url(#m39)" marker-mid="url(#m39)" marker-end="url(#m39)" clip-path="url(#cBL)" points="247.1,1268.7 249.1,1272.2 251.1,1275.8 253.1,1279.2 255.1,1282.7 257.1,1286 259.1,1289.3 261.1,1292.5 263.1,1295.5 265.1,1298.4 267.1,1301.2 269.1,1303.7 271.1,1306.1 273.1,1308.3 275.1,1310.3 277.1,1312 279.1,1313.6 281.1,1314.9 283.1,1315.9 285.1,1316.7 287.1,1317.3 289.1,1317.5 291.1,1317.6 293.1,1317.4 295.1,1316.9 297.1,1316.1 299.1,1315.1 301.1,1313.9 303.1,1312.4 305.1,1310.7 307.1,1308.8 309.1,1306.7 311.1,1304.3 313.1,1301.8 315.1,1299.1 317.1,1296.3 319.1,1293.2 321.1,1290.1 323.1,1286.9 325.1,1283.5 327.1,1280.1 329.1,1276.6 331.1,1273.1 333.1,1269.6 335.1,1266 337.1,1262.5 339.1,1259 341.1,1255.5 343.1,1252.2 345.1,1248.9 347.1,1245.7 349.1,1242.7 351.1,1239.7 353.1,1237 355.1,1234.4 357.1,1232 359.1,1229.8 361.1,1227.8 363.1,1226 365.1,1224.4 367.1,1223.1 369.1,1222 371.1,1221.2 373.1,1220.6 375.1,1220.3 377.1,1220.2 379.1,1220.4 381.1,1220.9 383.1,1221.6 385.1,1222.5 387.1,1223.7 389.1,1225.2 391.1,1226.8 393.1,1228.7 395.1,1230.8 397.1,1233.2 399.1,1235.7 401.1,1238.3 403.1,1241.2 405.1,1244.2 407.1,1247.3 409.1,1250.5 411.1,1253.9 413.1,1257.3 415.1,1260.7 417.1,1264.3 419.1,1267.8 421.1,1271.3 423.1,1274.9 425.1,1278.4 427.1,1281.8 429.1,1285.2 431.1,1288.5 433.1,1291.7 435.1,1294.8 437.1,1297.7 439.1,1300.5 441.1,1303.1 443.1,1305.5 445.1,1307.8 447.1,1309.8 449.1,1311.6 451.1,1313.2 453.1,1314.6 455.1,1315.7 457.1,1316.5 459.1,1317.1 461.1,1317.5 463.1,1317.6 465.1,1317.4 467.1,1317 469.1,1316.3 471.1,1315.4 473.1,1314.2 475.1,1312.8 477.1,1311.2 479.1,1309.3 481.1,1307.2 483.1,1304.9 485.1,1302.5 487.1,1299.8 489.1,1297 491.1,1294 493.1,1290.9 495.1,1287.7 497.1,1284.4 499.1,1281 501.1,1277.5 503.1,1274 505.1,1270.5 507.1,1266.9 509.1,1263.4 511.1,1259.9 513.1,1256.4 515.1,1253 517.1,1249.7 519.1,1246.5 521.1,1243.4 523.1,1240.5 525.1,1237.7 527.1,1235 529.1,1232.6 531.1,1230.3 533.1,1228.2 535.1,1226.4 537.1,1224.8 539.1,1223.4 541.1,1222.3 543.1,1221.4 545.1,1220.7 547.1,1220.3 549.1,1220.2 551.1,1220.3 553.1,1220.7 555.1,1221.4 557.1,1222.3 559.1,1223.4 561.1,1224.8 563.1,1226.4 565.1,1228.2 567.1,1230.3 569.1,1232.6 571.1,1235 573.1,1237.7 575.1,1240.5 577.1,1243.4 579.1,1246.5 581.1,1249.7 583.1,1253 585.1,1256.4 587.1,1259.9 589.1,1263.4 591.1,1266.9 593.1,1270.5 595.1,1274 597.1,1277.5 599.1,1281 601.1,1284.4 603.1,1287.7 605.1,1290.9 607.1,1294 609.1,1297 611.1,1299.8 613.1,1302.5 615.1,1304.9 617.1,1307.2 619.1,1309.3 621.1,1311.2 623.1,1312.8 625.1,1314.2 627.1,1315.4 629.1,1316.3 631.1,1317 633.1,1317.4 635.1,1317.6 637.1,1317.5 639.1,1317.1 641.1,1316.5 643.1,1315.7 645.1,1314.6 647.1,1313.2 649.1,1311.6 651.1,1309.8 653.1,1307.8 655.1,1305.5 657.1,1303.1 659.1,1300.5 661.1,1297.7 663.1,1294.8 665.1,1291.7 667.1,1288.5 669.1,1285.2 671.1,1281.8 673.1,1278.4 675.1,1274.9 677.1,1271.3 679.1,1267.8 681.1,1264.3 683.1,1260.7 685.1,1257.3 687.1,1253.9 689.1,1250.5 691.1,1247.3 693.1,1244.2 695.1,1241.2 697.1,1238.3 699.1,1235.7 701.1,1233.2 703.1,1230.8 705.1,1228.7 707.1,1226.8 709.1,1225.2 711.1,1223.7 713.1,1222.5 715.1,1221.6 717.1,1220.9 719.1,1220.4 721.1,1220.2 723.1,1220.3 725.1,1220.6 727.1,1221.2 729.1,1222 731.1,1223.1 733.1,1224.4 735.1,1226 737.1,1227.8 739.1,1229.8 741.1,1232 743.1,1234.4 745.1,1237 747.1,1239.7 749.1,1242.7 751.1,1245.7 753.1,1248.9 755.1,1252.2 757.1,1255.5 759.1,1259 761.1,1262.5 763.1,1266 765.1,1269.6 767.1,1273.1 769.1,1276.6 771.1,1280.1 773.1,1283.5 775.1,1286.9 777.1,1290.1 779.1,1293.2 781.1,1296.3 783.1,1299.1 785.1,1301.8 787.1,1304.3 789.1,1306.7 791.1,1308.8 793.1,1310.7 795.1,1312.4 797.1,1313.9 799.1,1315.1 801.1,1316.1 803.1,1316.9 805.1,1317.4 807.1,1317.6 809.1,1317.5 811.1,1317.3 813.1,1316.7 815.1,1315.9 817.1,1314.9 819.1,1313.6 821.1,1312 823.1,1310.3 825.1,1308.3 827.1,1306.1 829.1,1303.7 831.1,1301.2 833.1,1298.4 835.1,1295.5 837.1,1292.5 839.1,1289.3 841.1,1286 843.1,1282.7 845.1,1279.2 847.1,1275.8 849.1,1272.2 851.1,1268.7 853.1,1265.1 855.1,1261.6 857.1,1258.1 859.1,1254.7 861.1,1251.3 863.1,1248.1 865.1,1244.9 867.1,1241.9 869.1,1239 871.1,1236.3 873.1,1233.8 875.1,1231.4 877.1,1229.2 879.1,1227.3 881.1,1225.6 883.1,1224.1 885.1,1222.8 887.1,1221.8 889.1,1221 891.1,1220.5 893.1,1220.2 895.1,1220.2 897.1,1220.5 899.1,1221 901.1,1221.8 903.1,1222.8 905.1,1224.1 907.1,1225.6 909.1,1227.3 911.1,1229.2 913.1,1231.4 915.1,1233.8 917.1,1236.3 919.1,1239 921.1,1241.9 923.1,1244.9 925.1,1248.1 927.1,1251.3 929.1,1254.7 931.1,1258.1 933.1,1261.6 935.1,1265.1 937.1,1268.7 939.1,1272.2 941.1,1275.8 943.1,1279.2 945.1,1282.7 947.1,1286 949.1,1289.3 951.1,1292.5 953.1,1295.5 955.1,1298.4 957.1,1301.2 959.1,1303.7 961.1,1306.1 963.1,1308.3 965.1,1310.3 967.1,1312 969.1,1313.6 971.1,1314.9 973.1,1315.9 975.1,1316.7 977.1,1317.3 979.1,1317.5 981.1,1317.6 983.1,1317.4 985.1,1316.9 987.1,1316.1 989.1,1315.1 991.1,1313.9 993.1,1312.4 995.1,1310.7 997.1,1308.8 999.1,1306.7 1001.1,1304.3 1003.1,1301.8 1005.1,1299.1 1007.1,1296.3 1009.1,1293.2 1011.1,1290.1 1013.1,1286.9 1015.1,1283.5 1017.1,1280.1 1019.1,1276.6 1021.1,1273.1 1023.1,1269.6 1025.1,1266 1027.1,1262.5 1029.1,1259 1031.1,1255.5 1033.1,1252.2 1034.4,1250"/>
<polyline fill="none" stroke="#d01414" stroke-width="0.8" stroke-linejoin="round" marker-start="url(#m40)" marker-mid="url(#m40)" marker-end="url(#m40)" clip-path="url(#cBL)" points="247.1,1243.7 248.7,1242.1 250.2,1240.6 251.8,1239.1 253.3,1237.8 254.8,1236.6 256.4,1235.4 257.9,1234.4 259.5,1233.5 261.1,1232.7 262.6,1232 264.1,1231.4 265.7,1231 267.2,1230.6 268.8,1230.4 270.4,1230.3 271.9,1230.3 273.4,1230.5 275,1230.7 276.6,1231.1 278.1,1231.6 279.6,1232.3 281.2,1233 282.8,1233.9 284.3,1234.8 285.9,1235.9 287.4,1237.1 288.9,1238.4 290.5,1239.7 292.1,1241.2 293.6,1242.7 295.1,1244.4 296.7,1246.1 298.2,1247.9 299.8,1249.7 301.4,1251.6 302.9,1253.6 304.4,1255.6 306,1257.7 307.6,1259.7 309.1,1261.9 310.6,1264 312.2,1266.1 313.8,1268.3 315.3,1270.5 316.9,1272.6 318.4,1274.8 319.9,1276.9 321.5,1279 323.1,1281 324.6,1283.1 326.1,1285 327.7,1286.9 329.2,1288.8 330.8,1290.6 332.4,1292.3 333.9,1294 335.4,1295.6 337,1297 338.6,1298.4 340.1,1299.7 341.6,1300.9 343.2,1302 344.8,1303"/>
<polyline fill="none" stroke="#c21415" stroke-width="0.8" stroke-linejoin="round" marker-start="url(#m41)" marker-mid="url(#m41)" marker-end="url(#m41)" clip-path="url(#cBL)" points="344.8,1303 346.3,1303.9 347.9,1304.7 349.4,1305.3 350.9,1305.9 352.5,1306.3 354.1,1306.6 355.6,1306.7 357.1,1306.8 358.7,1306.7 360.2,1306.5 361.8,1306.2 363.4,1305.8 364.9,1305.2 366.4,1304.6 368,1303.8 369.6,1302.9 371.1,1301.9 372.6,1300.8 374.2,1299.6 375.8,1298.3 377.3,1296.9 378.9,1295.4 380.4,1293.8 381.9,1292.1 383.5,1290.4 385.1,1288.6 386.6,1286.7 388.1,1284.8 389.7,1282.8 391.2,1280.8 392.8,1278.7 394.4,1276.6 395.9,1274.5 397.4,1272.3 399,1270.2 400.6,1268 402.1,1265.9 403.6,1263.7 405.2,1261.6 406.8,1259.5 408.3,1257.4 409.9,1255.3 411.4,1253.3 412.9,1251.4 414.5,1249.5 416.1,1247.6 417.6,1245.9 419.1,1244.2 420.7,1242.5 422.2,1241 423.8,1239.5 425.4,1238.2 426.9,1236.9 428.4,1235.8 430,1234.7 431.6,1233.8 433.1,1232.9 434.6,1232.2 436.2,1231.6 437.8,1231.1 439.3,1230.7 440.9,1230.5 442.4,1230.3 443.9,1230.3"/>
<polyline fill="none" stroke="#b41415" stroke-width="0.8" stroke-linejoin="round" marker-start="url(#m42)" marker-mid="url(#m42)" marker-end="url(#m42)" clip-path="url(#cBL)" points="443.9,1230.3 445.5,1230.4 447.1,1230.7 448.6,1231 450.1,1231.5 451.7,1232.1 453.2,1232.8 454.8,1233.6 456.4,1234.5 457.9,1235.6 459.4,1236.7 461,1238 462.6,1239.3 464.1,1240.8 465.6,1242.3 467.2,1243.9 468.8,1245.6 470.3,1247.4 471.9,1249.2 473.4,1251.1 474.9,1253 476.5,1255 478.1,1257.1 479.6,1259.1 481.1,1261.2 482.7,1263.4 484.2,1265.5 485.8,1267.7 487.4,1269.8 488.9,1272 490.4,1274.1 492,1276.3 493.6,1278.4 495.1,1280.4 496.6,1282.5 498.2,1284.5 499.8,1286.4 501.3,1288.3 502.9,1290.1 504.4,1291.8 506,1293.5 507.5,1295.1 509,1296.6 510.6,1298 512.1,1299.4 513.7,1300.6 515.2,1301.7 516.8,1302.7 518.4,1303.7 519.9,1304.5 521.5,1305.1 523,1305.7 524.5,1306.2 526.1,1306.5 527.6,1306.7 529.2,1306.8 530.8,1306.8 532.3,1306.6 533.9,1306.3 535.4,1305.9 537,1305.4 538.5,1304.8 540,1304 541.6,1303.2"/>
<polyline fill="none" stroke="#a61416" stroke-width="0.8" stroke-linejoin="round" marker-start="url(#m43)" marker-mid="url(#m43)" marker-end="url(#m43)" clip-path="url(#cBL)" points="541.6,1303.2 543.1,1302.2 544.7,1301.1 546.2,1299.9 547.8,1298.7 549.4,1297.3 550.9,1295.8 552.5,1294.2 554,1292.6 555.5,1290.9 557.1,1289.1 558.6,1287.3 560.2,1285.3 561.8,1283.4 563.3,1281.4 564.9,1279.3 566.4,1277.2 568,1275.1 569.5,1273 571,1270.8 572.6,1268.7 574.1,1266.5 575.7,1264.3 577.2,1262.2 578.8,1260.1 580.4,1258 581.9,1255.9 583.5,1253.9 585,1251.9 586.5,1250 588.1,1248.2 589.6,1246.4 591.2,1244.7 592.8,1243 594.3,1241.4 595.9,1240 597.4,1238.6 599,1237.3 600.5,1236.1 602,1235 603.6,1234 605.1,1233.1 606.7,1232.4 608.2,1231.7 609.8,1231.2 611.4,1230.8 612.9,1230.5 614.5,1230.3 616,1230.3 617.5,1230.4 619.1,1230.6 620.6,1230.9 622.2,1231.3 623.8,1231.9 625.3,1232.6 626.9,1233.4 628.4,1234.3 630,1235.3 631.5,1236.4 633,1237.6 634.6,1238.9 636.1,1240.3 637.7,1241.8 639.2,1243.4 640.8,1245.1"/>
<polyline fill="none" stroke="#981416" stroke-width="0.8" stroke-linejoin="round" marker-start="url(#m44)" marker-mid="url(#m44)" marker-end="url(#m44)" clip-path="url(#cBL)" points="640.8,1245.1 642.4,1246.8 643.9,1248.6 645.5,1250.5 647,1252.5 648.5,1254.4 650.1,1256.5 651.6,1258.5 653.2,1260.6 654.8,1262.8 656.3,1264.9 657.9,1267.1 659.4,1269.2 661,1271.4 662.5,1273.5 664,1275.6 665.6,1277.8 667.1,1279.8 668.7,1281.9 670.2,1283.9 671.8,1285.8 673.4,1287.7 674.9,1289.6 676.5,1291.3 678,1293 679.5,1294.7 681.1,1296.2 682.6,1297.6 684.2,1299 685.8,1300.3 687.3,1301.4 688.9,1302.5 690.4,1303.4 692,1304.2 693.5,1305 695,1305.6 696.6,1306 698.1,1306.4 699.7,1306.7 701.2,1306.8 702.8,1306.8 704.4,1306.7 705.9,1306.4 707.5,1306.1 709,1305.6 710.5,1305 712.1,1304.3 713.6,1303.4 715.2,1302.5 716.8,1301.4 718.3,1300.3 719.9,1299 721.4,1297.7 723,1296.2 724.5,1294.7 726,1293.1 727.6,1291.4 729.1,1289.6 730.7,1287.8 732.2,1285.9 733.8,1283.9 735.4,1281.9 736.9,1279.9 738.5,1277.8 740,1275.7"/>
<polyline fill="none" stroke="#8a1417" stroke-width="0.8" stroke-linejoin="round" marker-start="url(#m45)" marker-mid="url(#m45)" marker-end="url(#m45)" clip-path="url(#cBL)" points="740,1275.7 741.5,1273.6 743.1,1271.4 744.6,1269.3 746.2,1267.1 747.8,1265 749.3,1262.8 750.9,1260.7 752.4,1258.6 754,1256.5 755.5,1254.5 757,1252.5 758.6,1250.6 760.2,1248.7 761.7,1246.9 763.2,1245.1 764.8,1243.5 766.4,1241.9 767.9,1240.4 769.5,1239 771,1237.6 772.6,1236.4 774.1,1235.3 775.7,1234.3 777.2,1233.4 778.8,1232.6 780.3,1231.9 781.9,1231.4 783.4,1230.9 785,1230.6 786.5,1230.4 788.1,1230.3 789.6,1230.3 791.2,1230.5 792.7,1230.8 794.2,1231.2 795.8,1231.7 797.4,1232.4 798.9,1233.1 800.5,1234 802,1235 803.6,1236.1 805.1,1237.2 806.7,1238.5 808.2,1239.9 809.8,1241.4 811.3,1243 812.9,1244.6 814.4,1246.3 816,1248.1 817.5,1250 819.1,1251.9 820.6,1253.9 822.2,1255.9 823.7,1257.9 825.2,1260 826.8,1262.1 828.4,1264.3 829.9,1266.4 831.5,1268.6 833,1270.7 834.6,1272.9 836.1,1275 837.7,1277.1"/>
<polyline fill="none" stroke="#7c1417" stroke-width="0.8" stroke-linejoin="round" marker-start="url(#m46)" marker-mid="url(#m46)" marker-end="url(#m46)" clip-path="url(#cBL)" points="837.7,1277.1 839.2,1279.2 840.8,1281.3 842.3,1283.3 843.9,1285.3 845.4,1287.2 847,1289 848.5,1290.8 850.1,1292.6 851.6,1294.2 853.2,1295.8 854.7,1297.2 856.2,1298.6 857.8,1299.9 859.4,1301.1 860.9,1302.2 862.5,1303.1 864,1304 865.6,1304.8 867.1,1305.4 868.7,1305.9 870.2,1306.3 871.8,1306.6 873.3,1306.8 874.9,1306.8 876.4,1306.7 878,1306.5 879.5,1306.2 881.1,1305.7 882.6,1305.2 884.2,1304.5 885.7,1303.7 887.2,1302.8 888.8,1301.8 890.4,1300.6 891.9,1299.4 893.5,1298.1 895,1296.7 896.6,1295.2 898.1,1293.6 899.7,1291.9 901.2,1290.2 902.8,1288.3 904.3,1286.5 905.9,1284.5 907.4,1282.5 909,1280.5 910.5,1278.4 912.1,1276.3 913.6,1274.2 915.2,1272.1 916.7,1269.9 918.2,1267.7 919.8,1265.6 921.4,1263.4 922.9,1261.3 924.5,1259.2 926,1257.1 927.6,1255.1 929.1,1253.1 930.7,1251.1 932.2,1249.2 933.8,1247.4 935.3,1245.6 936.9,1244"/>
<polyline fill="none" stroke="#6e1418" stroke-width="0.8" stroke-linejoin="round" marker-start="url(#m47)" marker-mid="url(#m47)" marker-end="url(#m47)" clip-path="url(#cBL)" points="936.9,1244 938.4,1242.3 940,1240.8 941.5,1239.4 943.1,1238 944.6,1236.8 946.2,1235.6 947.7,1234.6 949.2,1233.6 950.8,1232.8 952.4,1232.1 953.9,1231.5 955.5,1231 957,1230.7 958.6,1230.4 960.1,1230.3 961.7,1230.3 963.2,1230.4 964.8,1230.7 966.3,1231.1 967.9,1231.6 969.4,1232.2 971,1232.9 972.5,1233.7 974.1,1234.7 975.6,1235.7 977.2,1236.9 978.7,1238.1 980.2,1239.5 981.8,1241 983.4,1242.5 984.9,1244.1 986.5,1245.8 988,1247.6 989.6,1249.4 991.1,1251.3 992.7,1253.3 994.2,1255.3 995.8,1257.3 997.3,1259.4 998.9,1261.5 1000.4,1263.7 1002,1265.8 1003.5,1268 1005.1,1270.1 1006.6,1272.3 1008.2,1274.4 1009.7,1276.5 1011.2,1278.6 1012.8,1280.7 1014.4,1282.7 1015.9,1284.7 1017.5,1286.6 1019,1288.5 1020.6,1290.3 1022.1,1292.1 1023.7,1293.7 1025.2,1295.3 1026.8,1296.8 1028.3,1298.2 1029.8,1299.5 1031.4,1300.8 1033,1301.9 1034.4,1302.8"/>
<rect x="441.3" y="1174.4" width="3.6" height="16.6" fill="#f41a12"/>
<rect x="441.3" y="1208.6" width="3.6" height="16.6" fill="#f41a12"/>
<rect x="441.3" y="1242.8" width="3.6" height="16.6" fill="#f41a12"/>
<rect x="441.3" y="1277" width="3.6" height="16.6" fill="#f41a12"/>
<rect x="614.3" y="1180.2" width="3.6" height="16.6" fill="#f41a12"/>
<rect x="614.3" y="1214.4" width="3.6" height="16.6" fill="#f41a12"/>
<rect x="614.3" y="1248.6" width="3.6" height="16.6" fill="#f41a12"/>
<rect x="614.3" y="1282.8" width="3.6" height="16.6" fill="#f41a12"/>
<rect x="786.2" y="1191" width="3.6" height="16.6" fill="#f41a12"/>
<rect x="786.2" y="1225.2" width="3.6" height="16.6" fill="#f41a12"/>
<rect x="786.2" y="1259.4" width="3.6" height="16.6" fill="#f41a12"/>
<rect x="786.2" y="1293.6" width="3.6" height="16.6" fill="#f41a12"/>
<rect x="525.6" y="1152.9" width="3.6" height="16.6" fill="#0a0a0a"/>
<rect x="525.6" y="1187.1" width="3.6" height="16.6" fill="#0a0a0a"/>
<rect x="525.6" y="1221.3" width="3.6" height="16.6" fill="#0a0a0a"/>
<rect x="525.6" y="1255.5" width="3.6" height="16.6" fill="#0a0a0a"/>
<rect x="695.1" y="1158.4" width="3.6" height="16.6" fill="#0a0a0a"/>
<rect x="695.1" y="1192.6" width="3.6" height="16.6" fill="#0a0a0a"/>
<rect x="695.1" y="1226.8" width="3.6" height="16.6" fill="#0a0a0a"/>
<rect x="695.1" y="1261" width="3.6" height="16.6" fill="#0a0a0a"/>
<rect x="868.4" y="1168" width="3.6" height="16.6" fill="#0a0a0a"/>
<rect x="868.4" y="1202.2" width="3.6" height="16.6" fill="#0a0a0a"/>
<rect x="868.4" y="1236.4" width="3.6" height="16.6" fill="#0a0a0a"/>
<rect x="868.4" y="1270.6" width="3.6" height="16.6" fill="#0a0a0a"/>
<rect x="544.2" y="1139" width="3.6" height="16.6" fill="#cf4bf2"/>
<rect x="544.2" y="1173.2" width="3.6" height="16.6" fill="#cf4bf2"/>
<rect x="544.2" y="1207.4" width="3.6" height="16.6" fill="#cf4bf2"/>
<rect x="544.2" y="1241.6" width="3.6" height="16.6" fill="#cf4bf2"/>
<rect x="720" y="1148" width="3.6" height="16.6" fill="#cf4bf2"/>
<rect x="720" y="1182.2" width="3.6" height="16.6" fill="#cf4bf2"/>
<rect x="720" y="1216.4" width="3.6" height="16.6" fill="#cf4bf2"/>
<rect x="720" y="1250.6" width="3.6" height="16.6" fill="#cf4bf2"/>
<rect x="892.5" y="1153.5" width="3.6" height="16.6" fill="#cf4bf2"/>
<rect x="892.5" y="1187.7" width="3.6" height="16.6" fill="#cf4bf2"/>
<rect x="892.5" y="1221.9" width="3.6" height="16.6" fill="#cf4bf2"/>
<rect x="892.5" y="1256.1" width="3.6" height="16.6" fill="#cf4bf2"/>
<rect x="641.9" y="1082.8" width="3.6" height="16.6" fill="#86f531"/>
<rect x="641.9" y="1117" width="3.6" height="16.6" fill="#86f531"/>
<rect x="641.9" y="1151.2" width="3.6" height="16.6" fill="#86f531"/>
<rect x="641.9" y="1185.4" width="3.6" height="16.6" fill="#86f531"/>
<rect x="814.1" y="1084.5" width="3.6" height="16.6" fill="#86f531"/>
<rect x="814.1" y="1118.7" width="3.6" height="16.6" fill="#86f531"/>
<rect x="814.1" y="1152.9" width="3.6" height="16.6" fill="#86f531"/>
<rect x="814.1" y="1187.1" width="3.6" height="16.6" fill="#86f531"/>
<rect x="985.8" y="1081" width="3.6" height="16.6" fill="#86f531"/>
<rect x="985.8" y="1115.2" width="3.6" height="16.6" fill="#86f531"/>
<rect x="985.8" y="1149.4" width="3.6" height="16.6" fill="#86f531"/>
<rect x="985.8" y="1183.6" width="3.6" height="16.6" fill="#86f531"/>
<circle cx="443.1" cy="1230.9" r="5.3" fill="#000"/>
<circle cx="527.8" cy="1203.1" r="5.3" fill="#000"/>
<circle cx="546.9" cy="1222.4" r="5.3" fill="#000"/>
<circle cx="643.7" cy="1104.9" r="5.3" fill="#000"/>
<circle cx="616.1" cy="1232" r="5.3" fill="#000"/>
<circle cx="697.2" cy="1204.8" r="5.3" fill="#000"/>
<circle cx="721.8" cy="1219.5" r="5.3" fill="#000"/>
<circle cx="815.9" cy="1110.7" r="5.3" fill="#000"/>
<circle cx="788" cy="1230.4" r="5.3" fill="#000"/>
<circle cx="870.2" cy="1204" r="5.3" fill="#000"/>
<circle cx="894.3" cy="1221.3" r="5.3" fill="#000"/>
<circle cx="987.9" cy="1106.3" r="5.3" fill="#000"/>
<path d="M247.6 1079.2H1031.4V1458.3" fill="none" stroke="#6a6a6a" stroke-width="1"/>
<path d="M247.6 1079.2V1458.3H1031.4" fill="none" stroke="#2a2a2a" stroke-width="1.3"/>
<line x1="247.6" y1="1419.7" x2="255.2" y2="1419.7" stroke="#333" stroke-width="1" />
<line x1="1031.4" y1="1419.7" x2="1023.8" y2="1419.7" stroke="#555" stroke-width="1" />
<line x1="247.6" y1="1381.9" x2="255.2" y2="1381.9" stroke="#333" stroke-width="1" />
<line x1="1031.4" y1="1381.9" x2="1023.8" y2="1381.9" stroke="#555" stroke-width="1" />
<line x1="247.6" y1="1344.1" x2="255.2" y2="1344.1" stroke="#333" stroke-width="1" />
<line x1="1031.4" y1="1344.1" x2="1023.8" y2="1344.1" stroke="#555" stroke-width="1" />
<line x1="247.6" y1="1306.3" x2="255.2" y2="1306.3" stroke="#333" stroke-width="1" />
<line x1="1031.4" y1="1306.3" x2="1023.8" y2="1306.3" stroke="#555" stroke-width="1" />
<line x1="247.6" y1="1268.5" x2="255.2" y2="1268.5" stroke="#333" stroke-width="1" />
<line x1="1031.4" y1="1268.5" x2="1023.8" y2="1268.5" stroke="#555" stroke-width="1" />
<line x1="247.6" y1="1230.7" x2="255.2" y2="1230.7" stroke="#333" stroke-width="1" />
<line x1="1031.4" y1="1230.7" x2="1023.8" y2="1230.7" stroke="#555" stroke-width="1" />
<line x1="247.6" y1="1192.9" x2="255.2" y2="1192.9" stroke="#333" stroke-width="1" />
<line x1="1031.4" y1="1192.9" x2="1023.8" y2="1192.9" stroke="#555" stroke-width="1" />
<line x1="247.6" y1="1155.1" x2="255.2" y2="1155.1" stroke="#333" stroke-width="1" />
<line x1="1031.4" y1="1155.1" x2="1023.8" y2="1155.1" stroke="#555" stroke-width="1" />
<line x1="247.6" y1="1117.3" x2="255.2" y2="1117.3" stroke="#333" stroke-width="1" />
<line x1="1031.4" y1="1117.3" x2="1023.8" y2="1117.3" stroke="#555" stroke-width="1" />
<line x1="377.3" y1="1079.2" x2="377.3" y2="1087.2" stroke="#555" stroke-width="1" />
<line x1="377.3" y1="1458.3" x2="377.3" y2="1450.3" stroke="#333" stroke-width="1" />
<line x1="508.1" y1="1079.2" x2="508.1" y2="1087.2" stroke="#555" stroke-width="1" />
<line x1="508.1" y1="1458.3" x2="508.1" y2="1450.3" stroke="#333" stroke-width="1" />
<line x1="638.8" y1="1079.2" x2="638.8" y2="1087.2" stroke="#555" stroke-width="1" />
<line x1="638.8" y1="1458.3" x2="638.8" y2="1450.3" stroke="#333" stroke-width="1" />
<line x1="769.5" y1="1079.2" x2="769.5" y2="1087.2" stroke="#555" stroke-width="1" />
<line x1="769.5" y1="1458.3" x2="769.5" y2="1450.3" stroke="#333" stroke-width="1" />
<line x1="900.3" y1="1079.2" x2="900.3" y2="1087.2" stroke="#555" stroke-width="1" />
<line x1="900.3" y1="1458.3" x2="900.3" y2="1450.3" stroke="#333" stroke-width="1" />
<text x="244.4" y="1122.9" font-size="17.8" text-anchor="end" font-family='"Liberation Serif", serif' >0.8</text>
<text x="244.4" y="1198.7" font-size="17.8" text-anchor="end" font-family='"Liberation Serif", serif' >0.4</text>
<text x="244.4" y="1275.4" font-size="17.8" text-anchor="end" font-family='"Liberation Serif", serif' >0</text>
<text x="244.4" y="1349.6" font-size="17.8" text-anchor="end" font-family='"Liberation Serif", serif' >-0.4</text>
<text x="244.4" y="1425.4" font-size="17.8" text-anchor="end" font-family='"Liberation Serif", serif' >-0.8</text>
<text x="377.9" y="1475.6" font-size="17.8" text-anchor="middle" font-family='"Liberation Serif", serif' >32</text>
<text x="638.6" y="1475.6" font-size="17.8" text-anchor="middle" font-family='"Liberation Serif", serif' >33</text>
<text x="900.4" y="1475.6" font-size="17.8" text-anchor="middle" font-family='"Liberation Serif", serif' >34</text>
<text x="1001.8" y="1477" font-size="22.3" text-anchor="start" font-family='"Liberation Serif", serif' >[s]</text>
<text x="198" y="1086.7" font-size="22.3" text-anchor="start" font-family='"Liberation Serif", serif' >[rad]</text>
<polyline fill="none" stroke="none" stroke-width="0.6" stroke-linejoin="round" marker-start="url(#m48)" marker-mid="url(#m48)" marker-end="url(#m48)" clip-path="url(#cBR)" points="1094.6,1234.7 1095.9,1234.1 1097.2,1233.5 1098.5,1232.9 1099.9,1232.3 1101.2,1231.7 1102.5,1231.1 1103.9,1230.6 1105.2,1230.1 1106.6,1229.6 1107.9,1229.1 1109.3,1228.7 1110.7,1228.3 1112.1,1228 1113.6,1227.6 1115,1227.4 1116.4,1227.1 1117.9,1226.9 1119.3,1226.8 1120.7,1226.7 1122.2,1226.7 1123.6,1226.7 1125.1,1226.8 1126.5,1226.9 1128,1227.1 1129.4,1227.3 1130.8,1227.6 1132.2,1227.9 1133.6,1228.3 1135,1228.7 1136.4,1229.2 1137.8,1229.7 1139.1,1230.2 1140.4,1230.8 1141.7,1231.4 1143,1232.1 1144.3,1232.8 1145.6,1233.5 1146.8,1234.2 1148.1,1234.9 1149.3,1235.7 1150.5,1236.5 1151.8,1237.3 1152.9,1238.1 1154.1,1238.9 1155.3,1239.8 1156.4,1240.7 1157.6,1241.6 1158.7,1242.5 1159.9,1243.4 1161,1244.3 1162.1,1245.2 1163.3,1246.1 1164.4,1247 1165.5,1247.9 1166.7,1248.8 1167.8,1249.7 1168.9,1250.6 1170,1251.6 1171.1,1252.5 1172.2,1253.4 1173.3,1254.4 1174.4,1255.3 1175.5,1256.3 1176.6,1257.2 1177.7,1258.2 1178.8,1259.1 1179.9,1260.1 1181,1261.1 1182,1262.1 1183.1,1263 1184.2,1264 1185.2,1265 1186.3,1266 1187.3,1267 1188.4,1268 1189.5,1269 1190.5,1269.9 1191.6,1270.9 1192.7,1271.9 1193.7,1272.9 1194.8,1273.9 1195.8,1274.9 1196.9,1275.9 1198,1276.9 1199,1277.9 1200.1,1278.8 1201.2,1279.8 1202.2,1280.8 1203.3,1281.7 1204.4,1282.7 1205.5,1283.6 1206.7,1284.5 1207.8,1285.4 1208.9,1286.3 1210.1,1287.2 1211.2,1288.1 1212.4,1289 1213.6,1289.8 1214.8,1290.7 1215.9,1291.5 1217.1,1292.3 1218.3,1293.1 1219.5,1293.9 1220.8,1294.7 1222,1295.5 1223.2,1296.3 1224.4,1297 1225.7,1297.8 1226.9,1298.5 1228.2,1299.2 1229.5,1299.9 1230.8,1300.5 1232.1,1301.2 1233.4,1301.7 1234.8,1302.3 1236.1,1302.8 1237.5,1303.2 1238.9,1303.7 1240.3,1304.1 1241.7,1304.4 1243.1,1304.8 1244.5,1305 1246,1305.3 1247.4,1305.5 1248.8,1305.7 1250.3,1305.8 1251.7,1305.9 1253.2,1306 1254.6,1306 1256.1,1306 1257.5,1305.9 1259,1305.8 1260.4,1305.6 1261.8,1305.5 1263.3,1305.2 1264.7,1305 1266.1,1304.6 1267.5,1304.3 1268.9,1303.9 1270.3,1303.4 1271.7,1303 1273,1302.4 1274.3,1301.9 1275.7,1301.3 1276.9,1300.6 1278.2,1299.9 1279.5,1299.2 1280.7,1298.4 1281.9,1297.7 1283.2,1296.9 1284.4,1296.1 1285.6,1295.3 1286.8,1294.5 1288,1293.7 1289.2,1292.9 1290.4,1292.1 1291.6,1291.2 1292.8,1290.4 1294,1289.6 1295.1,1288.7 1296.3,1287.8 1297.4,1286.9 1298.5,1286 1299.6,1285 1300.7,1284.1 1301.8,1283.1 1302.8,1282.1 1303.8,1281 1304.8,1280 1305.8,1278.9 1306.8,1277.8 1307.7,1276.8 1308.7,1275.7 1309.6,1274.6 1310.6,1273.5 1311.6,1272.4 1312.5,1271.3 1313.5,1270.3 1314.5,1269.2 1315.5,1268.1 1316.5,1267.1 1317.5,1266.1 1318.5,1265 1319.5,1264 1320.6,1262.9 1321.6,1261.9 1322.6,1260.9 1323.6,1259.9 1324.7,1258.8 1325.7,1257.8 1326.7,1256.8 1327.8,1255.8 1328.9,1254.9 1329.9,1253.9 1331,1252.9 1332.1,1252 1333.2,1251 1334.3,1250 1335.4,1249.1 1336.5,1248.2 1337.6,1247.3 1338.8,1246.4 1339.9,1245.5 1341.1,1244.6 1342.3,1243.8 1343.5,1242.9 1344.7,1242.1 1345.9,1241.3 1347.1,1240.6 1348.3,1239.8 1349.6,1239.1 1350.9,1238.4 1352.1,1237.7 1353.4,1237 1354.7,1236.4 1356,1235.8 1357.4,1235.2 1358.7,1234.6 1360.1,1234.1 1361.4,1233.7 1362.8,1233.2 1364.2,1232.8 1365.6,1232.3 1367,1232 1368.4,1231.6 1369.8,1231.2 1371.2,1230.9 1372.6,1230.5 1374,1230.2 1375.4,1229.9 1376.9,1229.6 1378.3,1229.5 1379.7,1229.4 1381.2,1229.4 1382.6,1229.5 1384.1,1229.7 1385.5,1229.9 1386.9,1230.2 1388.4,1230.5 1389.8,1230.8 1391.2,1231.2 1392.5,1231.6 1393.9,1232.1 1395.3,1232.6 1396.6,1233.1 1398,1233.7 1399.3,1234.2 1400.6,1234.9 1401.9,1235.5 1403.2,1236.2 1404.5,1236.9 1405.7,1237.6 1407,1238.3 1408.2,1239.1 1409.5,1239.8 1410.7,1240.6 1411.8,1241.5 1413,1242.3 1414.2,1243.2 1415.3,1244.1 1416.5,1245 1417.6,1245.8 1418.8,1246.7 1419.9,1247.7 1421,1248.6 1422.2,1249.5 1423.3,1250.4 1424.4,1251.3 1425.6,1252.2 1426.7,1253.1 1427.8,1254 1428.9,1254.9 1430,1255.9 1431.1,1256.8 1432.3,1257.7 1433.4,1258.7 1434.5,1259.6 1435.5,1260.6 1436.6,1261.5 1437.7,1262.5 1438.8,1263.5 1439.9,1264.5 1440.9,1265.4 1442,1266.4 1443,1267.4 1444.1,1268.4 1445.2,1269.4 1446.2,1270.4 1447.3,1271.4 1448.4,1272.3 1449.5,1273.3 1450.5,1274.3 1451.6,1275.2 1452.7,1276.2 1453.8,1277.1 1454.9,1278 1456.1,1279 1457.2,1279.9 1458.3,1280.8 1459.4,1281.7 1460.5,1282.7 1461.7,1283.6 1462.8,1284.5 1463.9,1285.4 1465.1,1286.3 1466.2,1287.2 1467.3,1288.1 1468.5,1289 1469.6,1289.9 1470.8,1290.8 1471.9,1291.6 1473.1,1292.5 1474.3,1293.4 1475.4,1294.2 1476.7,1295 1477.9,1295.8 1479.1,1296.5 1480.4,1297.2 1481.6,1297.9 1482.9,1298.6 1484.2,1299.3 1485.5,1299.9 1486.8,1300.5 1488.2,1301.1 1489.5,1301.7 1490.8,1302.2 1492.2,1302.7 1493.6,1303.2 1495,1303.6 1496.4,1304 1497.8,1304.4 1499.2,1304.7 1500.6,1305 1502,1305.3 1503.4,1305.5 1504.9,1305.7 1506.3,1306 1507.7,1306.2 1509.2,1306.5 1510.6,1306.7 1512,1306.9 1513.5,1307 1514.9,1307 1516.4,1306.9 1517.8,1306.6 1519.2,1306.2 1520.5,1305.7 1521.8,1305 1523.1,1304.4 1524.3,1303.6 1525.6,1302.8 1526.7,1302 1527.9,1301.1 1529.1,1300.2 1530.2,1299.4 1531.4,1298.5 1532.5,1297.6 1533.6,1296.7 1534.7,1295.6 1535.7,1294.6 1536.6,1293.5 1537.6,1292.4 1538.6,1291.4 1539.6,1290.4 1540.8,1289.4 1541.9,1288.5 1543,1287.7 1544.2,1286.8 1545.4,1285.9 1546.6,1285.1 1547.7,1284.2 1548.9,1283.4 1550.1,1282.5 1551.2,1281.7 1552.4,1280.8 1553.5,1279.9 1554.7,1279 1555.8,1278.1 1556.9,1277.2 1558,1276.3 1559.2,1275.3 1560.3,1274.4 1561.4,1273.5 1562.5,1272.5 1563.6,1271.6 1564.7,1270.7 1565.8,1269.7 1566.9,1268.8 1568,1267.9 1569.1,1266.9 1570.3,1266 1571.4,1265.1 1572.5,1264.1 1573.6,1263.2 1574.7,1262.3 1575.8,1261.4 1576.9,1260.4 1578.1,1259.5 1579.2,1258.6 1580.3,1257.6 1581.4,1256.7 1582.5,1255.8 1583.6,1254.9 1584.7,1253.9 1585.8,1253 1586.9,1252 1588,1251.1 1589.1,1250.1 1590.2,1249.2 1591.3,1248.3 1592.5,1247.3 1593.6,1246.4 1594.7,1245.5 1595.9,1244.7 1597,1243.8 1598.2,1242.9 1599.4,1242.1 1600.5,1241.2 1601.7,1240.4 1602.9,1239.5 1604.1,1238.7 1605.3,1237.9 1606.6,1237.2 1607.8,1236.4 1609.1,1235.8 1610.4,1235.1 1611.7,1234.5 1613,1233.9 1614.4,1233.3 1615.7,1232.8 1617.1,1232.3 1618.5,1231.9 1619.9,1231.5 1621.3,1231.2 1622.7,1230.9 1624.1,1230.7 1625.6,1230.5 1627,1230.4 1628.5,1230.4 1629.9,1230.4 1631.4,1230.4 1632.8,1230.6 1634.2,1230.7 1635.7,1231 1637.1,1231.3 1638.5,1231.6 1639.9,1232.1 1641.2,1232.6 1642.6,1233.1 1643.9,1233.7 1645.2,1234.3 1646.5,1234.9 1647.8,1235.6 1649.1,1236.3 1650.4,1237 1651.6,1237.7 1652.9,1238.4 1654.1,1239.2 1655.4,1239.9 1656.6,1240.7 1657.8,1241.6 1659,1242.4 1660.2,1243.2 1661.3,1244 1662.5,1244.9 1663.7,1245.7 1664.9,1246.5 1666.1,1247.3 1667.3,1248.1 1668.6,1248.9 1669.8,1249.7 1671,1250.5 1672.2,1251.2 1673.4,1252 1674.6,1252.8 1675.8,1253.6 1677,1254.5 1678.2,1255.3 1679.4,1256.2 1680.5,1257 1681.7,1257.9 1682.8,1258.8 1683.9,1259.8 1685.1,1260.7 1686.2,1261.6 1687.3,1262.6 1688.4,1263.5 1689.5,1264.5 1690.6,1265.4 1691.7,1266.3 1692.8,1267.3 1693.9,1268.2 1695,1269.1 1696.1,1270.1 1697.2,1271 1698.3,1271.9 1699.4,1272.9 1700.5,1273.8 1701.6,1274.8 1702.8,1275.7 1703.9,1276.6 1705,1277.5 1706.1,1278.4 1707.2,1279.4 1708.4,1280.3 1709.5,1281.1 1710.7,1282 1711.8,1282.9 1713,1283.8 1714.1,1284.7 1715.3,1285.5 1716.5,1286.4 1717.6,1287.3 1718.8,1288.1 1720,1289 1721.2,1289.8 1722.3,1290.7 1723.5,1291.5 1724.7,1292.4 1725.9,1293.2 1727,1294 1728.2,1294.9 1729.4,1295.7 1730.6,1296.5 1731.8,1297.3 1733.1,1298.1 1734.3,1298.8 1735.6,1299.4 1736.9,1300.1 1738.3,1300.7 1739.6,1301.2 1740.9,1301.7 1742.3,1302.2 1743.7,1302.7 1745.1,1303.1 1746.5,1303.4 1747.9,1303.7 1749.3,1304 1750.8,1304.2 1752.2,1304.4 1753.6,1304.5 1755.1,1304.6 1756.5,1304.6 1758,1304.6 1759.4,1304.5 1760.9,1304.4 1762.3,1304.2 1763.8,1303.9 1765.2,1303.7 1766.6,1303.3 1768,1303 1769.4,1302.6 1770.8,1302.1 1772.1,1301.6 1773.5,1301.1 1774.8,1300.5 1776.1,1299.9 1777.4,1299.3 1778.7,1298.6 1780,1297.9 1781.2,1297.1 1782.4,1296.4 1783.6,1295.5 1784.8,1294.7 1786,1293.9 1787.2,1293 1788.4,1292.2 1789.5,1291.3 1790.7,1290.5 1791.9,1289.6 1793.1,1288.8 1794.3,1288 1795.4,1287.1 1796.6,1286.3 1797.8,1285.4 1798.9,1284.5 1800.1,1283.7 1801.3,1282.8 1802.4,1281.9 1803.5,1281 1804.7,1280.1 1805.8,1279.2 1806.9,1278.2 1807.9,1277.2 1809,1276.3 1810.1,1275.3 1811.1,1274.3 1812.2,1273.3 1813.3,1272.3 1814.3,1271.3 1815.4,1270.3 1816.4,1269.3 1817.5,1268.3 1818.6,1267.4 1819.7,1266.4 1820.7,1265.5 1821.8,1264.5 1822.9,1263.6 1824,1262.6 1825.1,1261.7 1826.2,1260.7 1827.4,1259.8 1828.5,1258.9 1829.6,1258 1830.7,1257.1 1831.9,1256.2 1833,1255.3 1834.2,1254.4 1835.4,1253.6 1836.5,1252.7 1837.7,1251.9 1838.9,1251.1 1840.1,1250.3 1841.4,1249.5 1842.6,1248.7 1843.8,1247.9 1845,1247.2 1846.3,1246.4 1847.5,1245.6 1848.7,1244.9 1849.9,1244.1 1851.2,1243.3 1852.4,1242.5 1853.6,1241.8 1854.9,1241 1856.1,1240.3 1857.4,1239.6 1858.7,1238.9 1860,1238.3 1861.3,1237.6 1862.6,1237 1863.9,1236.5 1865.3,1235.9 1866.6,1235.4 1868,1234.9 1869.4,1234.5 1870.8,1234 1872.2,1233.7 1873.6,1233.3 1875,1233.1 1876.4,1232.9 1877.9,1232.7 1879.3,1232.6 1880.8,1232.5 1882.2,1232.5 1883.7,1232.5 1885.1,1232.6 1886.6,1232.7 1888,1232.9 1889.4,1233.1 1890.8,1233.4 1892.3,1233.7 1893.7,1234.1 1895.1,1234.5 1896.4,1234.9 1897.8,1235.4 1899.1,1236 1900.5,1236.5 1901.8,1237.1 1903.1,1237.8 1904.4,1238.5 1905.6,1239.2 1906.9,1239.9 1908.1,1240.7 1909.3,1241.5 1910.5,1242.4 1911.7,1243.2 1912.8,1244 1914,1244.9 1915.2,1245.7 1916.4,1246.6 1917.6,1247.4 1918.7,1248.3 1919.9,1249.1 1921.1,1250 1922.3,1250.8 1923.4,1251.7 1924.6,1252.5 1925.8,1253.4 1926.9,1254.3 1928.1,1255.2 1929.2,1256.1 1930.3,1257 1931.4,1257.9 1932.5,1258.9 1933.6,1259.8 1934.7,1260.8 1935.8,1261.8 1936.8,1262.8 1937.9,1263.8 1938.9,1264.8 1940,1265.8 1941,1266.8 1942.1,1267.8 1943.2,1268.7 1944.2,1269.7 1945.3,1270.7 1946.4,1271.6 1947.5,1272.6 1948.6,1273.5 1949.7,1274.5 1950.8,1275.4 1951.9,1276.3 1953,1277.3 1954.1,1278.2 1955.3,1279.1 1956.4,1280 1957.5,1280.9 1958.7,1281.8 1959.9,1282.7 1961,1283.5 1962.2,1284.3 1963.4,1285.2 1964.6,1286 1965.8,1286.8 1967,1287.6 1968.2,1288.4 1969.5,1289.1 1970.7,1289.9 1971.9,1290.7 1973.2,1291.4 1974.4,1292.2 1975.6,1293 1976.8,1293.8 1978.1,1294.5 1979.3,1295.3 1980.5,1296 1981.8,1296.8 1983.1,1297.5 1984.3,1298.2 1985.6,1298.8 1986.9,1299.4 1988.3,1300 1989.6,1300.5 1991,1301 1992.4,1301.5 1993.7,1302 1995.1,1302.4 1996.5,1302.8 1997.9,1303.3 1999.3,1303.7 2000.7,1304.1 2001.9,1304.5"/>
<polyline fill="none" stroke="none" stroke-width="0.6" stroke-linejoin="round" marker-start="url(#m49)" marker-mid="url(#m49)" marker-end="url(#m49)" clip-path="url(#cBR)" points="1094.6,1242.7 1095.9,1242.1 1097.2,1241.6 1098.6,1241 1099.9,1240.4 1101.2,1239.8 1102.6,1239.2 1103.9,1238.7 1105.2,1238.1 1106.6,1237.6 1108,1237.1 1109.3,1236.7 1110.7,1236.2 1112.1,1235.9 1113.5,1235.5 1114.9,1235.1 1116.3,1234.8 1117.7,1234.5 1119.2,1234.2 1120.6,1233.9 1122,1233.6 1123.4,1233.3 1124.9,1233 1126.3,1232.8 1127.7,1232.6 1129.1,1232.3 1130.6,1232.1 1132,1231.9 1133.4,1231.7 1134.9,1231.4 1136.3,1231.2 1137.7,1230.9 1139.1,1230.6 1140.6,1230.3 1142,1229.9 1143.4,1229.6 1144.8,1229.3 1146.2,1229 1147.7,1228.8 1149.1,1228.6 1150.5,1228.4 1152,1228.3 1153.4,1228.3 1154.9,1228.4 1156.3,1228.5 1157.7,1228.8 1159.2,1229.1 1160.6,1229.4 1162,1229.9 1163.3,1230.3 1164.7,1230.9 1166,1231.5 1167.3,1232.1 1168.6,1232.8 1169.9,1233.4 1171.1,1234.2 1172.3,1234.9 1173.6,1235.7 1174.8,1236.5 1176,1237.4 1177.2,1238.2 1178.4,1239 1179.5,1239.8 1180.7,1240.7 1181.9,1241.5 1183.1,1242.4 1184.2,1243.3 1185.3,1244.2 1186.4,1245.2 1187.5,1246.1 1188.6,1247.1 1189.6,1248.1 1190.7,1249.1 1191.7,1250.1 1192.7,1251.2 1193.7,1252.2 1194.7,1253.3 1195.6,1254.4 1196.6,1255.5 1197.5,1256.6 1198.4,1257.7 1199.3,1258.8 1200.2,1260 1201.1,1261.1 1202,1262.3 1202.9,1263.4 1203.8,1264.6 1204.7,1265.7 1205.5,1266.9 1206.4,1268.1 1207.2,1269.3 1208,1270.4 1208.9,1271.6 1209.7,1272.8 1210.5,1274 1211.4,1275.2 1212.3,1276.3 1213.2,1277.5 1214.1,1278.6 1215,1279.7 1215.9,1280.8 1216.9,1281.9 1217.9,1283 1218.9,1284 1219.9,1285 1221,1286 1222.2,1286.8 1223.4,1287.7 1224.6,1288.5 1225.9,1289.2 1227.1,1289.8 1228.4,1290.5 1229.8,1291.1 1231.1,1291.7 1232.4,1292.3 1233.7,1292.9 1235,1293.5 1236.3,1294.1 1237.6,1294.8 1238.9,1295.4 1240.2,1296.1 1241.5,1296.7 1242.8,1297.4 1244.1,1298 1245.4,1298.7 1246.7,1299.3 1248,1300 1249.3,1300.6 1250.6,1301.3 1251.9,1301.9 1253.2,1302.6 1254.4,1303.3 1255.7,1304 1257,1304.7 1258.3,1305.4 1259.6,1306.1 1260.9,1306.7 1262.2,1307.3 1263.5,1307.8 1264.9,1308.3 1266.3,1308.7 1267.7,1309.1 1269.1,1309.5 1270.5,1309.8 1271.9,1310 1273.4,1310.2 1274.8,1310.3 1276.3,1310.4 1277.7,1310.3 1279.2,1310.2 1280.6,1310 1282,1309.8 1283.4,1309.5 1284.8,1309.1 1286.2,1308.6 1287.5,1308.1 1288.9,1307.5 1290.1,1306.7 1291.3,1306 1292.5,1305.1 1293.6,1304.2 1294.7,1303.2 1295.7,1302.1 1296.7,1301.1 1297.6,1300 1298.6,1298.9 1299.5,1297.8 1300.4,1296.6 1301.3,1295.5 1302.3,1294.4 1303.2,1293.3 1304.2,1292.2 1305.2,1291.2 1306.2,1290.1 1307.2,1289.1 1308.2,1288 1309.2,1287 1310.2,1286 1311.3,1285 1312.3,1283.9 1313.3,1282.9 1314.3,1281.9 1315.4,1280.9 1316.4,1279.9 1317.4,1278.8 1318.5,1277.8 1319.5,1276.8 1320.5,1275.8 1321.5,1274.7 1322.5,1273.7 1323.6,1272.7 1324.6,1271.6 1325.6,1270.6 1326.6,1269.5 1327.6,1268.5 1328.6,1267.5 1329.7,1266.5 1330.7,1265.5 1331.8,1264.5 1332.8,1263.5 1333.9,1262.5 1335,1261.5 1336.1,1260.6 1337.2,1259.6 1338.3,1258.7 1339.4,1257.7 1340.5,1256.8 1341.6,1255.9 1342.7,1255 1343.9,1254.1 1345,1253.2 1346.2,1252.3 1347.3,1251.4 1348.5,1250.6 1349.7,1249.8 1350.9,1248.9 1352.1,1248.1 1353.3,1247.3 1354.5,1246.6 1355.7,1245.8 1357,1245 1358.2,1244.2 1359.4,1243.4 1360.6,1242.6 1361.8,1241.8 1363,1241 1364.2,1240.2 1365.4,1239.3 1366.6,1238.5 1367.8,1237.7 1369,1236.9 1370.2,1236.1 1371.4,1235.3 1372.6,1234.5 1373.9,1233.8 1375.1,1233 1376.4,1232.3 1377.6,1231.6 1378.9,1230.9 1380.2,1230.2 1381.5,1229.6 1382.8,1228.9 1384.1,1228.3 1385.4,1227.7 1386.8,1227.2 1388.1,1226.6 1389.5,1226.1 1390.9,1225.7 1392.3,1225.4 1393.7,1225.2 1395.2,1225 1396.6,1225.1 1398,1225.2 1399.5,1225.4 1400.9,1225.7 1402.3,1226.2 1403.6,1226.7 1405,1227.2 1406.3,1227.8 1407.6,1228.5 1408.9,1229.1 1410.1,1229.8 1411.4,1230.6 1412.6,1231.4 1413.8,1232.2 1414.9,1233.1 1416,1234.1 1417.1,1235 1418.1,1236 1419.1,1237.1 1420.1,1238.1 1421.1,1239.2 1422.1,1240.3 1423.1,1241.3 1424.2,1242.3 1425.3,1243.3 1426.4,1244.2 1427.5,1245.1 1428.7,1245.9 1429.9,1246.8 1431.1,1247.6 1432.2,1248.5 1433.4,1249.3 1434.6,1250.2 1435.7,1251 1436.9,1251.9 1438.1,1252.7 1439.3,1253.6 1440.4,1254.5 1441.6,1255.4 1442.7,1256.3 1443.8,1257.2 1444.9,1258.1 1446,1259 1447.1,1260 1448.2,1260.9 1449.3,1261.9 1450.4,1262.9 1451.5,1263.9 1452.5,1264.9 1453.5,1265.9 1454.5,1266.9 1455.5,1268 1456.5,1269 1457.5,1270.1 1458.6,1271.1 1459.6,1272.1 1460.7,1273.1 1461.8,1274 1462.9,1274.9 1464.1,1275.8 1465.2,1276.7 1466.4,1277.5 1467.6,1278.3 1468.8,1279.2 1470,1280 1471.1,1280.9 1472.3,1281.7 1473.4,1282.6 1474.6,1283.6 1475.6,1284.5 1476.7,1285.5 1477.7,1286.5 1478.8,1287.6 1479.8,1288.6 1480.8,1289.7 1481.7,1290.7 1482.7,1291.8 1483.7,1292.8 1484.7,1293.9 1485.8,1294.9 1486.8,1295.9 1487.9,1296.9 1489,1297.8 1490.1,1298.8 1491.2,1299.7 1492.4,1300.5 1493.6,1301.4 1494.8,1302.2 1495.9,1303 1497.2,1303.8 1498.4,1304.6 1499.7,1305.3 1500.9,1306 1502.2,1306.7 1503.5,1307.3 1504.8,1308 1506.2,1308.5 1507.5,1309 1508.9,1309.4 1510.3,1309.8 1511.7,1310.1 1513.2,1310.2 1514.6,1310.3 1516.1,1310.3 1517.5,1310.2 1518.9,1309.9 1520.3,1309.6 1521.7,1309.2 1523.1,1308.8 1524.5,1308.4 1525.9,1307.9 1527.2,1307.4 1528.6,1306.8 1529.9,1306.2 1531.2,1305.6 1532.5,1305 1533.8,1304.3 1535,1303.6 1536.3,1302.8 1537.4,1301.9 1538.2,1300.7 1538.4,1299.2 1539.1,1298 1540.1,1297 1541.3,1296.1 1542.5,1295.4 1543.8,1294.6 1545.1,1294 1546.3,1293.3 1547.6,1292.6 1548.9,1291.9 1550.2,1291.2 1551.4,1290.5 1552.7,1289.7 1553.9,1288.9 1555.1,1288.1 1556.3,1287.3 1557.5,1286.5 1558.7,1285.6 1559.8,1284.8 1561,1283.9 1562.1,1283 1563.3,1282.2 1564.4,1281.3 1565.6,1280.4 1566.7,1279.4 1567.8,1278.5 1568.9,1277.6 1570,1276.6 1571.1,1275.7 1572.2,1274.7 1573.2,1273.7 1574.3,1272.7 1575.4,1271.7 1576.4,1270.7 1577.5,1269.7 1578.5,1268.8 1579.6,1267.8 1580.6,1266.8 1581.7,1265.8 1582.8,1264.8 1583.8,1263.8 1584.9,1262.8 1586,1261.9 1587.1,1260.9 1588.1,1259.9 1589.2,1258.9 1590.3,1257.9 1591.3,1257 1592.4,1256 1593.5,1255 1594.5,1254 1595.6,1253 1596.7,1252.1 1597.7,1251.1 1598.8,1250.1 1599.8,1249.1 1600.9,1248.1 1601.9,1247.1 1603,1246.1 1604,1245.1 1605.1,1244.1 1606.2,1243.1 1607.3,1242.2 1608.4,1241.2 1609.5,1240.3 1610.6,1239.4 1611.8,1238.5 1612.9,1237.6 1614.1,1236.8 1615.3,1235.9 1616.5,1235.1 1617.7,1234.3 1618.9,1233.5 1620.1,1232.7 1621.4,1232 1622.6,1231.3 1623.9,1230.7 1625.2,1230.1 1626.6,1229.5 1628,1229 1629.3,1228.6 1630.8,1228.3 1632.2,1228 1633.6,1227.8 1635.1,1227.7 1636.5,1227.7 1638,1227.7 1639.4,1227.8 1640.8,1228 1642.3,1228.2 1643.7,1228.6 1645.1,1228.9 1646.5,1229.4 1647.8,1229.9 1649.2,1230.4 1650.5,1231 1651.8,1231.6 1653.1,1232.3 1654.4,1232.9 1655.7,1233.6 1656.9,1234.3 1658.2,1235 1659.5,1235.7 1660.8,1236.4 1662,1237.1 1663.3,1237.8 1664.6,1238.5 1665.8,1239.3 1667.1,1240 1668.3,1240.7 1669.6,1241.5 1670.8,1242.2 1672,1243 1673.3,1243.7 1674.5,1244.4 1675.8,1245.2 1677,1245.9 1678.3,1246.6 1679.6,1247.3 1680.8,1248 1682.1,1248.8 1683.3,1249.5 1684.6,1250.2 1685.8,1251 1687.1,1251.7 1688.3,1252.5 1689.6,1253.2 1690.8,1254 1692,1254.7 1693.3,1255.5 1694.5,1256.2 1695.7,1257 1697,1257.8 1698.2,1258.6 1699.3,1259.4 1700.5,1260.3 1701.7,1261.2 1702.8,1262.1 1703.9,1263 1705,1264 1706,1265 1707.1,1266 1708.1,1267 1709.1,1268.1 1710.1,1269.1 1711.1,1270.2 1712.1,1271.2 1713.1,1272.3 1714.1,1273.3 1715.1,1274.3 1716.1,1275.4 1717.2,1276.4 1718.2,1277.5 1719.2,1278.5 1720.2,1279.5 1721.2,1280.6 1722.2,1281.6 1723.2,1282.7 1724.2,1283.7 1725.2,1284.8 1726.2,1285.8 1727.3,1286.8 1728.3,1287.8 1729.4,1288.8 1730.5,1289.8 1731.6,1290.7 1732.7,1291.6 1733.9,1292.5 1735,1293.3 1736.2,1294.2 1737.4,1295 1738.6,1295.8 1739.8,1296.6 1741.1,1297.3 1742.3,1298.1 1743.6,1298.7 1744.9,1299.4 1746.2,1300 1747.5,1300.6 1748.9,1301.2 1750.2,1301.7 1751.6,1302.2 1753,1302.6 1754.3,1303.1 1755.8,1303.4 1757.2,1303.7 1758.6,1304 1760,1304.2 1761.5,1304.4 1762.9,1304.5 1764.4,1304.5 1765.8,1304.5 1767.3,1304.5 1768.7,1304.4 1770.2,1304.3 1771.6,1304.1 1773,1304 1774.5,1303.7 1775.9,1303.5 1777.3,1303.2 1778.7,1302.8 1780.1,1302.4 1781.5,1302 1782.9,1301.6 1784.3,1301.2 1785.7,1300.8 1787.1,1300.4 1788.5,1300 1789.9,1299.7 1791.3,1299.3 1792.7,1299 1794.1,1298.6 1795.5,1298.1 1796.8,1297.6 1798.2,1297.1 1799.5,1296.5 1800.8,1295.8 1802,1295 1803.2,1294.2 1804.3,1293.3 1805.5,1292.4 1806.6,1291.5 1807.7,1290.5 1808.8,1289.6 1809.9,1288.6 1810.9,1287.6 1812,1286.6 1813,1285.7 1814.1,1284.7 1815.2,1283.7 1816.2,1282.7 1817.3,1281.7 1818.3,1280.7 1819.3,1279.6 1820.4,1278.6 1821.4,1277.6 1822.4,1276.5 1823.4,1275.5 1824.4,1274.5 1825.4,1273.4 1826.4,1272.4 1827.5,1271.4 1828.5,1270.3 1829.5,1269.3 1830.5,1268.3 1831.5,1267.2 1832.5,1266.2 1833.5,1265.1 1834.5,1264.1 1835.5,1263 1836.5,1262 1837.5,1260.9 1838.6,1259.9 1839.6,1258.9 1840.7,1257.9 1841.8,1257 1842.9,1256 1844,1255.1 1845.2,1254.2 1846.3,1253.4 1847.5,1252.6 1848.7,1251.8 1850,1251 1851.2,1250.2 1852.4,1249.5 1853.7,1248.7 1854.9,1248 1856.1,1247.2 1857.4,1246.4 1858.6,1245.7 1859.8,1244.9 1861,1244.1 1862.3,1243.3 1863.5,1242.5 1864.7,1241.8 1866,1241.1 1867.3,1240.4 1868.6,1239.7 1869.9,1239.1 1871.2,1238.6 1872.6,1238.1 1873.9,1237.6 1875.3,1237.2 1876.7,1236.8 1878.1,1236.5 1879.6,1236.2 1881,1235.9 1882.4,1235.7 1883.9,1235.5 1885.3,1235.3 1886.7,1235.1 1888.2,1234.9 1889.6,1234.8 1891.1,1234.7 1892.5,1234.7 1894,1234.6 1895.4,1234.6 1896.9,1234.6 1898.3,1234.7 1899.8,1234.7 1901.2,1234.8 1902.6,1234.9 1904.1,1235.1 1905.5,1235.2 1907,1235.4 1908.4,1235.7 1909.8,1235.9 1911.2,1236.3 1912.6,1236.6 1914,1237.1 1915.4,1237.6 1916.7,1238.1 1918.1,1238.6 1919.4,1239.2 1920.7,1239.8 1922.1,1240.4 1923.4,1241 1924.7,1241.6 1926,1242.2 1927.3,1242.8 1928.6,1243.4 1930,1244 1931.3,1244.6 1932.6,1245.2 1933.9,1245.8 1935.2,1246.5 1936.5,1247.1 1937.8,1247.8 1939,1248.6 1940.2,1249.4 1941.4,1250.2 1942.6,1251 1943.8,1251.9 1944.9,1252.8 1946,1253.7 1947.1,1254.7 1948.2,1255.6 1949.3,1256.6 1950.4,1257.5 1951.5,1258.5 1952.6,1259.5 1953.6,1260.5 1954.7,1261.4 1955.7,1262.4 1956.8,1263.5 1957.8,1264.5 1958.8,1265.5 1959.8,1266.6 1960.8,1267.6 1961.8,1268.6 1962.8,1269.7 1963.9,1270.7 1964.9,1271.8 1965.9,1272.8 1966.9,1273.8 1968,1274.8 1969.1,1275.8 1970.1,1276.8 1971.2,1277.7 1972.2,1278.7 1973.3,1279.7 1974.4,1280.7 1975.5,1281.6 1976.6,1282.5 1977.7,1283.4 1978.9,1284.3 1980.1,1285.2 1981.3,1286 1982.5,1286.8 1983.7,1287.5 1985,1288.3 1986.3,1288.9 1987.5,1289.6 1988.8,1290.3 1990.1,1290.9 1991.4,1291.6 1992.7,1292.2 1994,1292.8 1995.3,1293.5 1996.7,1294.1 1998,1294.7 1999.3,1295.3 2000.6,1295.9 2001.9,1296.6"/>
<polyline fill="none" stroke="none" stroke-width="0.6" stroke-linejoin="round" marker-start="url(#m50)" marker-mid="url(#m50)" marker-end="url(#m50)" clip-path="url(#cBR)" points="1094.6,1247.3 1095.5,1246.2 1096.4,1245 1097.3,1243.9 1098.1,1242.7 1099,1241.6 1099.9,1240.4 1100.8,1239.3 1101.8,1238.2 1102.7,1237.1 1103.6,1236 1104.6,1234.9 1105.6,1233.8 1106.6,1232.8 1107.6,1231.8 1108.6,1230.7 1109.7,1229.7 1110.7,1228.7 1111.8,1227.7 1112.8,1226.7 1113.9,1225.7 1114.9,1224.7 1116,1223.7 1117,1222.7 1118.1,1221.8 1119.2,1220.8 1120.3,1219.9 1121.5,1219 1122.7,1218.3 1124,1217.5 1125.3,1216.9 1126.6,1216.3 1127.9,1215.8 1129.4,1215.4 1130.8,1215.2 1132.2,1215.3 1133.7,1215.5 1135.1,1215.9 1136.4,1216.5 1137.7,1217.1 1139,1217.8 1140.2,1218.5 1141.4,1219.3 1142.6,1220.2 1143.7,1221.1 1144.8,1222 1145.9,1223 1147,1224 1148,1225 1149,1226.1 1150,1227.1 1151,1228.2 1151.9,1229.3 1152.8,1230.5 1153.6,1231.6 1154.5,1232.8 1155.4,1233.9 1156.3,1235.1 1157.2,1236.2 1158.1,1237.3 1159,1238.4 1160,1239.5 1161,1240.6 1162,1241.7 1163,1242.7 1164,1243.7 1165,1244.7 1166.1,1245.7 1167.2,1246.7 1168.3,1247.6 1169.5,1248.5 1170.7,1249.3 1171.9,1250.1 1173.1,1250.8 1174.4,1251.5 1175.7,1252.2 1176.9,1252.9 1178.2,1253.6 1179.5,1254.3 1180.8,1254.9 1182.2,1255.5 1183.5,1256.1 1184.8,1256.7 1186,1257.5 1187.2,1258.2 1188.4,1259.1 1189.6,1259.9 1190.8,1260.7 1192,1261.6 1193.1,1262.5 1194.2,1263.4 1195.3,1264.4 1196.4,1265.4 1197.5,1266.3 1198.5,1267.3 1199.5,1268.4 1200.5,1269.4 1201.6,1270.4 1202.6,1271.5 1203.6,1272.5 1204.5,1273.6 1205.5,1274.7 1206.5,1275.7 1207.5,1276.8 1208.5,1277.8 1209.5,1278.9 1210.4,1280 1211.4,1281.1 1212.3,1282.2 1213.2,1283.3 1214.1,1284.5 1215,1285.6 1215.9,1286.8 1216.8,1287.9 1217.6,1289.1 1218.5,1290.3 1219.3,1291.5 1220.1,1292.7 1221,1293.8 1221.8,1295 1222.7,1296.2 1223.5,1297.4 1224.3,1298.6 1225.2,1299.8 1226,1300.9 1226.8,1302.1 1227.6,1303.3 1228.5,1304.5 1229.3,1305.7 1230.2,1306.8 1231.1,1308 1232,1309.1 1233,1310.2 1234,1311.2 1235,1312.3 1236.1,1313.3 1237.1,1314.2 1238.3,1315.2 1239.4,1316 1240.6,1316.8 1241.9,1317.5 1243.2,1318.1 1244.6,1318.6 1246,1319 1247.4,1319.3 1248.8,1319.4 1250.3,1319.5 1251.7,1319.5 1253.2,1319.3 1254.6,1319.1 1256,1318.7 1257.4,1318.2 1258.7,1317.7 1260,1317 1261.2,1316.1 1262.3,1315.2 1263.3,1314.2 1264.3,1313.2 1265.4,1312.2 1266.4,1311.2 1267.5,1310.2 1268.6,1309.3 1269.8,1308.4 1271,1307.6 1272.1,1306.7 1273.3,1305.9 1274.5,1305 1275.7,1304.2 1276.9,1303.4 1278.1,1302.6 1279.4,1301.9 1280.6,1301.1 1281.9,1300.4 1283.1,1299.7 1284.4,1299.1 1285.8,1298.4 1287.1,1297.9 1288.4,1297.3 1289.8,1296.8 1291.1,1296.3 1292.5,1295.8 1293.8,1295.3 1295.2,1294.7 1296.5,1294.2 1297.9,1293.6 1299.2,1293.1 1300.6,1292.6 1301.9,1292.1 1303.3,1291.5 1304.6,1291 1306,1290.5 1307.3,1289.9 1308.6,1289.3 1309.9,1288.6 1311.2,1287.9 1312.4,1287.2 1313.7,1286.4 1314.9,1285.6 1316,1284.7 1317.1,1283.8 1318.2,1282.8 1319.2,1281.7 1320.1,1280.6 1321,1279.5 1321.8,1278.3 1322.7,1277.1 1323.4,1275.9 1324.2,1274.7 1325,1273.4 1325.8,1272.2 1326.5,1271 1327.3,1269.7 1328,1268.5 1328.8,1267.2 1329.5,1266 1330.3,1264.7 1331,1263.5 1331.7,1262.2 1332.4,1261 1333.1,1259.7 1333.8,1258.4 1334.5,1257.2 1335.2,1255.9 1335.9,1254.6 1336.7,1253.4 1337.4,1252.1 1338.1,1250.9 1338.9,1249.6 1339.6,1248.4 1340.3,1247.1 1341.1,1245.9 1341.8,1244.6 1342.5,1243.4 1343.3,1242.1 1344.1,1240.9 1344.9,1239.7 1345.7,1238.5 1346.5,1237.3 1347.3,1236.1 1348.2,1235 1349.1,1233.8 1350,1232.7 1350.9,1231.6 1351.9,1230.5 1352.8,1229.4 1353.9,1228.4 1355,1227.4 1356.1,1226.5 1357.3,1225.7 1358.6,1225 1359.9,1224.5 1361.3,1224 1362.7,1223.7 1364.1,1223.4 1365.6,1223.2 1367,1223 1368.4,1223 1369.9,1223.1 1371.3,1223.3 1372.8,1223.5 1374.2,1223.9 1375.5,1224.4 1376.8,1225 1378.1,1225.7 1379.3,1226.5 1380.6,1227.2 1381.8,1228 1383,1228.8 1384.3,1229.5 1385.5,1230.3 1386.7,1231.1 1387.9,1232 1389.1,1232.8 1390.3,1233.5 1391.6,1234.2 1392.9,1234.8 1394.3,1235.4 1395.6,1235.8 1397,1236.2 1398.5,1236.5 1399.9,1236.7 1401.3,1236.9 1402.8,1237.1 1404.2,1237.1 1405.7,1237.1 1407.1,1237.1 1408.6,1237 1410,1237 1411.5,1237 1412.9,1236.9 1414.4,1236.9 1415.8,1236.8 1417.3,1236.8 1418.7,1236.9 1420.1,1237 1421.6,1237.2 1423,1237.4 1424.4,1237.7 1425.9,1238 1427.2,1238.5 1428.6,1239 1429.9,1239.6 1431.1,1240.3 1432.4,1241.1 1433.6,1241.9 1434.7,1242.8 1435.8,1243.7 1436.9,1244.7 1437.9,1245.7 1438.9,1246.8 1439.9,1247.9 1440.8,1249 1441.7,1250.1 1442.6,1251.3 1443.4,1252.5 1444.3,1253.7 1445.1,1254.9 1445.9,1256.1 1446.6,1257.3 1447.4,1258.5 1448.1,1259.8 1448.9,1261 1449.6,1262.3 1450.3,1263.6 1451,1264.8 1451.6,1266.1 1452.3,1267.4 1453,1268.7 1453.6,1270 1454.3,1271.3 1455,1272.6 1455.6,1273.9 1456.3,1275.1 1457,1276.4 1457.6,1277.7 1458.3,1279 1459,1280.3 1459.6,1281.6 1460.3,1282.9 1460.9,1284.2 1461.6,1285.5 1462.3,1286.7 1462.9,1288 1463.6,1289.3 1464.3,1290.6 1465.1,1291.8 1465.8,1293 1466.6,1294.3 1467.4,1295.5 1468.2,1296.7 1469.1,1297.9 1469.9,1299 1470.8,1300.2 1471.8,1301.3 1472.7,1302.4 1473.7,1303.4 1474.8,1304.4 1476,1305.2 1477.2,1306 1478.5,1306.7 1479.8,1307.2 1481.2,1307.5 1482.7,1307.8 1484.1,1308 1485.5,1308.1 1487,1308.1 1488.4,1307.9 1489.9,1307.7 1491.3,1307.4 1492.7,1307.1 1494.1,1306.7 1495.5,1306.2 1496.8,1305.6 1498.1,1305 1499.5,1304.5 1500.8,1304 1502.2,1303.6 1503.6,1303.2 1505,1303 1506.5,1302.8 1507.9,1302.6 1509.4,1302.5 1510.8,1302.4 1512.3,1302.3 1513.7,1302.3 1515.2,1302.3 1516.6,1302.4 1518.1,1302.5 1519.5,1302.7 1520.9,1302.9 1522.4,1303.1 1523.8,1303.3 1525.2,1303.4 1526.7,1303.6 1528.1,1303.8 1529.6,1303.9 1531,1304.1 1532.4,1304.3 1533.9,1304.4 1535.3,1304.5 1536.8,1304.6 1538.2,1304.6 1539.7,1304.7 1541.1,1304.8 1542.6,1304.8 1544,1304.8 1545.5,1304.7 1546.9,1304.6 1548.3,1304.3 1549.7,1303.8 1551.1,1303.3 1552.3,1302.6 1553.5,1301.8 1554.7,1300.9 1555.8,1300 1556.8,1299 1557.8,1297.9 1558.8,1296.8 1559.7,1295.7 1560.6,1294.6 1561.5,1293.4 1562.3,1292.2 1563.1,1291 1563.9,1289.8 1564.7,1288.6 1565.4,1287.3 1566.2,1286.1 1566.9,1284.8 1567.6,1283.6 1568.3,1282.3 1569,1281 1569.7,1279.8 1570.4,1278.5 1571,1277.2 1571.6,1275.9 1572.3,1274.6 1572.9,1273.2 1573.5,1271.9 1574.1,1270.6 1574.8,1269.3 1575.4,1268 1576.1,1266.7 1576.7,1265.4 1577.4,1264.1 1578.1,1262.9 1578.8,1261.6 1579.4,1260.3 1580.1,1259 1580.8,1257.7 1581.5,1256.5 1582.2,1255.2 1582.9,1253.9 1583.6,1252.7 1584.4,1251.4 1585.2,1250.2 1586,1249 1586.8,1247.8 1587.7,1246.7 1588.6,1245.6 1589.5,1244.5 1590.5,1243.4 1591.6,1242.4 1592.6,1241.4 1593.7,1240.5 1594.9,1239.6 1596.1,1238.7 1597.3,1238 1598.6,1237.3 1599.9,1236.8 1601.3,1236.3 1602.7,1235.9 1604.1,1235.6 1605.5,1235.3 1607,1235.2 1608.4,1235.1 1609.9,1235.2 1611.3,1235.2 1612.8,1235.3 1614.2,1235.4 1615.7,1235.4 1617.1,1235.4 1618.6,1235.4 1620,1235.5 1621.5,1235.5 1622.9,1235.4 1624.4,1235.3 1625.8,1235.2 1627.3,1235.1 1628.7,1234.9 1630.1,1234.7 1631.6,1234.5 1633,1234.2 1634.4,1233.9 1635.8,1233.5 1637.2,1233.1 1638.6,1232.7 1639.9,1232.2 1641.3,1231.8 1642.7,1231.3 1644.1,1230.9 1645.4,1230.4 1646.8,1229.9 1648.2,1229.4 1649.6,1229 1651,1228.6 1652.4,1228.2 1653.8,1227.9 1655.2,1227.6 1656.6,1227.4 1658.1,1227.2 1659.5,1227.1 1661,1227.2 1662.4,1227.5 1663.8,1227.8 1665.2,1228.3 1666.5,1228.8 1667.8,1229.4 1669.1,1230.1 1670.4,1230.8 1671.7,1231.5 1672.9,1232.3 1674.1,1233.1 1675.3,1233.9 1676.4,1234.8 1677.5,1235.8 1678.6,1236.7 1679.6,1237.7 1680.6,1238.8 1681.6,1239.9 1682.5,1241 1683.4,1242.1 1684.3,1243.3 1685.2,1244.4 1686.1,1245.6 1687,1246.7 1687.8,1247.9 1688.7,1249 1689.6,1250.2 1690.4,1251.4 1691.3,1252.5 1692.2,1253.7 1693,1254.9 1693.9,1256.1 1694.7,1257.2 1695.5,1258.4 1696.4,1259.6 1697.2,1260.8 1698.1,1261.9 1698.9,1263.1 1699.8,1264.3 1700.6,1265.5 1701.5,1266.7 1702.3,1267.8 1703.1,1269 1704,1270.2 1704.8,1271.4 1705.7,1272.5 1706.6,1273.7 1707.5,1274.8 1708.4,1276 1709.3,1277.1 1710.2,1278.2 1711.1,1279.3 1712.1,1280.4 1713.1,1281.5 1714,1282.6 1715,1283.6 1716.1,1284.6 1717.1,1285.6 1718.2,1286.6 1719.3,1287.5 1720.4,1288.4 1721.6,1289.3 1722.8,1290.2 1724,1291 1725.2,1291.8 1726.4,1292.5 1727.7,1293.3 1728.9,1294 1730.2,1294.7 1731.5,1295.3 1732.8,1295.9 1734.1,1296.5 1735.5,1297 1736.9,1297.5 1738.3,1297.8 1739.7,1298.1 1741.1,1298.4 1742.5,1298.7 1743.9,1299.1 1745.3,1299.6 1746.6,1300.2 1747.9,1300.8 1749.2,1301.4 1750.5,1302.1 1751.8,1302.8 1753.1,1303.5 1754.4,1304.2 1755.6,1304.8 1756.9,1305.5 1758.2,1306.2 1759.5,1306.9 1760.8,1307.5 1762.1,1308.1 1763.4,1308.7 1764.8,1309.2 1766.2,1309.6 1767.6,1310 1769,1310.3 1770.4,1310.6 1771.8,1310.9 1773.3,1311.1 1774.7,1311.2 1776.2,1311.3 1777.6,1311.4 1779.1,1311.3 1780.5,1311.2 1781.9,1311 1783.4,1310.7 1784.8,1310.3 1786.1,1309.9 1787.5,1309.3 1788.8,1308.8 1790.1,1308.1 1791.4,1307.5 1792.6,1306.7 1793.9,1305.9 1795.1,1305.1 1796.2,1304.2 1797.4,1303.4 1798.5,1302.4 1799.6,1301.5 1800.6,1300.5 1801.7,1299.5 1802.7,1298.4 1803.7,1297.4 1804.6,1296.3 1805.6,1295.2 1806.5,1294.1 1807.4,1292.9 1808.4,1291.8 1809.3,1290.7 1810.3,1289.7 1811.2,1288.6 1812.2,1287.5 1813.2,1286.4 1814.2,1285.4 1815.2,1284.3 1816.1,1283.2 1817.1,1282.1 1818,1281 1819,1279.9 1819.8,1278.8 1820.7,1277.6 1821.6,1276.4 1822.4,1275.3 1823.3,1274.1 1824.1,1272.9 1824.9,1271.7 1825.8,1270.5 1826.6,1269.3 1827.5,1268.2 1828.3,1267 1829.3,1265.9 1830.2,1264.8 1831.1,1263.7 1832,1262.5 1833,1261.4 1833.9,1260.4 1834.9,1259.3 1835.9,1258.2 1836.9,1257.2 1838,1256.2 1839.1,1255.2 1840.2,1254.3 1841.3,1253.4 1842.5,1252.6 1843.7,1251.7 1844.9,1250.9 1846.1,1250.1 1847.3,1249.3 1848.5,1248.5 1849.7,1247.7 1850.9,1246.9 1852.1,1246.1 1853.4,1245.4 1854.6,1244.6 1855.9,1243.9 1857.1,1243.1 1858.3,1242.4 1859.5,1241.6 1860.8,1240.8 1862,1240 1863.2,1239.3 1864.5,1238.5 1865.7,1237.7 1866.9,1237 1868.1,1236.2 1869.4,1235.4 1870.6,1234.6 1871.8,1233.8 1873,1233.1 1874.3,1232.3 1875.5,1231.6 1876.8,1230.9 1878.1,1230.2 1879.4,1229.5 1880.7,1228.9 1882,1228.3 1883.3,1227.7 1884.6,1227.1 1886,1226.6 1887.4,1226.2 1888.8,1225.8 1890.2,1225.4 1891.6,1225.2 1893,1225 1894.5,1224.9 1895.9,1224.9 1897.4,1225 1898.8,1225.1 1900.3,1225.4 1901.7,1225.7 1903.1,1226.1 1904.4,1226.6 1905.8,1227.1 1907.1,1227.8 1908.4,1228.4 1909.6,1229.1 1910.9,1229.9 1912.1,1230.6 1913.3,1231.4 1914.5,1232.2 1915.7,1233.1 1916.9,1233.9 1918,1234.8 1919.2,1235.7 1920.3,1236.6 1921.4,1237.5 1922.5,1238.5 1923.6,1239.4 1924.7,1240.3 1925.8,1241.3 1926.9,1242.3 1928,1243.2 1929.1,1244.2 1930.1,1245.2 1931.2,1246.1 1932.3,1247.1 1933.5,1248 1934.6,1248.9 1935.7,1249.9 1936.8,1250.8 1937.9,1251.8 1938.9,1252.7 1940,1253.7 1941,1254.8 1942,1255.8 1943,1256.9 1944,1258 1944.9,1259.1 1945.9,1260.1 1946.8,1261.2 1947.8,1262.4 1948.7,1263.5 1949.6,1264.6 1950.5,1265.7 1951.4,1266.8 1952.3,1268 1953.2,1269.1 1954.1,1270.3 1955,1271.4 1955.9,1272.5 1956.8,1273.7 1957.7,1274.8 1958.7,1275.9 1959.6,1277 1960.6,1278 1961.6,1279.1 1962.6,1280.1 1963.7,1281.1 1964.7,1282.2 1965.8,1283.2 1966.8,1284.2 1967.9,1285.1 1968.9,1286.1 1970,1287.1 1971,1288.1 1972.1,1289.1 1973.2,1290.1 1974.3,1291 1975.4,1292 1976.5,1292.9 1977.7,1293.7 1978.9,1294.5 1980.2,1295.2 1981.5,1295.9 1982.8,1296.5 1984.1,1297.1 1985.4,1297.7 1986.8,1298.2 1988.1,1298.7 1989.5,1299.2 1990.8,1299.7 1992.2,1300.2 1993.6,1300.7 1994.9,1301.2 1996.3,1301.6 1997.7,1302.1 1999.1,1302.6 2000.4,1303.1 2001.8,1303.5"/>
<polyline fill="none" stroke="none" stroke-width="0.5" stroke-linejoin="round" marker-start="url(#m51)" marker-mid="url(#m51)" marker-end="url(#m51)" clip-path="url(#cBR)" points="1095,1205.2 1095.5,1203.5 1096,1201.8 1096.5,1200.1 1097.1,1198.3 1097.6,1196.6 1098.1,1194.9 1098.6,1193.2 1099.2,1191.4 1099.7,1189.7 1100.2,1188 1100.8,1186.3 1101.3,1184.6 1101.9,1182.9 1102.4,1181.2 1103,1179.4 1103.6,1177.7 1104.1,1176 1104.7,1174.3 1105.3,1172.6 1105.9,1170.9 1106.5,1169.2 1107.1,1167.5 1107.7,1165.8 1108.3,1164.1 1109,1162.5 1109.6,1160.8 1110.3,1159.1 1110.9,1157.4 1111.6,1155.7 1112.2,1154.1 1112.9,1152.4 1113.6,1150.8 1114.3,1149.1 1115.1,1147.5 1115.8,1145.8 1116.6,1144.2 1117.4,1142.6 1118.1,1140.9 1119,1139.3 1119.8,1137.7 1120.7,1136.2 1121.5,1134.6 1122.5,1133 1123.4,1131.5 1124.4,1130 1125.4,1128.5 1126.5,1127.1 1127.6,1125.7 1128.8,1124.3 1130,1123 1131.3,1121.7 1132.7,1120.6 1134.2,1119.6 1135.7,1118.7 1137.4,1118 1139.1,1117.6 1140.9,1117.4 1142.7,1117.5 1144.5,1117.9 1146.1,1118.6 1147.7,1119.4 1149.2,1120.4 1150.6,1121.5 1152,1122.7 1153.2,1124 1154.4,1125.4 1155.6,1126.8 1156.6,1128.2 1157.7,1129.7 1158.7,1131.2 1159.7,1132.7 1160.6,1134.2 1161.5,1135.8 1162.4,1137.4 1163.2,1138.9 1164.1,1140.5 1164.9,1142.1 1165.7,1143.8 1166.4,1145.4 1167.2,1147 1167.9,1148.7 1168.7,1150.3 1169.4,1152 1170.1,1153.6 1170.8,1155.3 1171.5,1156.9 1172.1,1158.6 1172.8,1160.3"/>
<polyline fill="none" stroke="none" stroke-width="0.5" stroke-linejoin="round" marker-start="url(#m52)" marker-mid="url(#m52)" marker-end="url(#m52)" clip-path="url(#cBR)" points="1172.8,1160.3 1173.4,1162 1174.1,1163.7 1174.7,1165.3 1175.3,1167 1176,1168.7 1176.6,1170.4 1177.2,1172.1 1177.8,1173.8 1178.4,1175.5 1178.9,1177.2 1179.5,1178.9 1180.1,1180.6 1180.7,1182.3 1181.2,1184 1181.8,1185.7 1182.4,1187.5 1182.9,1189.2 1183.5,1190.9 1184,1192.6 1184.5,1194.3 1185.1,1196 1185.6,1197.7 1186.1,1199.5 1186.7,1201.2 1187.2,1202.9 1187.7,1204.6 1188.2,1206.4 1188.7,1208.1 1189.3,1209.8 1189.8,1211.5 1190.3,1213.3 1190.8,1215 1191.3,1216.7 1191.8,1218.4 1192.3,1220.2 1192.8,1221.9 1193.3,1223.6 1193.8,1225.4 1194.3,1227.1 1194.8,1228.8 1195.3,1230.6 1195.8,1232.3 1196.2,1234 1196.7,1235.8 1197.2,1237.5 1197.7,1239.2 1198.2,1241 1198.7,1242.7 1199.2,1244.4 1199.6,1246.2 1200.1,1247.9 1200.6,1249.6 1201.1,1251.4 1201.6,1253.1 1202,1254.8 1202.5,1256.6 1203,1258.3 1203.5,1260 1204,1261.8 1204.4,1263.5 1204.9,1265.2 1205.4,1267 1205.9,1268.7 1206.3,1270.4 1206.8,1272.2 1207.3,1273.9 1207.8,1275.7 1208.3,1277.4 1208.7,1279.1 1209.2,1280.9 1209.7,1282.6 1210.2,1284.3 1210.7,1286.1 1211.2,1287.8 1211.6,1289.5 1212.1,1291.3 1212.6,1293 1213.1,1294.7 1213.6,1296.5 1214.1,1298.2 1214.6,1299.9 1215.1,1301.7 1215.6,1303.4 1216,1305.1 1216.5,1306.8 1217,1308.6 1217.5,1310.3 1218,1312"/>
<polyline fill="none" stroke="none" stroke-width="0.5" stroke-linejoin="round" marker-start="url(#m53)" marker-mid="url(#m53)" marker-end="url(#m53)" clip-path="url(#cBR)" points="1218,1312 1218.5,1313.8 1219.1,1315.5 1219.6,1317.2 1220.1,1318.9 1220.6,1320.7 1221.1,1322.4 1221.6,1324.1 1222.1,1325.8 1222.7,1327.6 1223.2,1329.3 1223.7,1331 1224.3,1332.7 1224.8,1334.4 1225.3,1336.2 1225.9,1337.9 1226.4,1339.6 1227,1341.3 1227.5,1343 1228.1,1344.7 1228.6,1346.4 1229.2,1348.1 1229.8,1349.8 1230.4,1351.6 1231,1353.3 1231.5,1355 1232.1,1356.7 1232.7,1358.3 1233.4,1360 1234,1361.7 1234.6,1363.4 1235.2,1365.1 1235.9,1366.8 1236.5,1368.5 1237.2,1370.1 1237.8,1371.8 1238.5,1373.5 1239.2,1375.2 1239.9,1376.8 1240.6,1378.5 1241.3,1380.1 1242.1,1381.8 1242.8,1383.4 1243.6,1385 1244.4,1386.6 1245.2,1388.2 1246,1389.8 1246.8,1391.4 1247.7,1393 1248.6,1394.6 1249.5,1396.1 1250.5,1397.6 1251.5,1399.1 1252.5,1400.6 1253.6,1402.1 1254.7,1403.5 1255.9,1404.8 1257.1,1406.1 1258.4,1407.4 1259.8,1408.5 1261.3,1409.6 1262.8,1410.5 1264.5,1411.2 1266.2,1411.7 1268,1411.9 1269.8,1411.8 1271.6,1411.5 1273.3,1410.9 1274.9,1410.1 1276.4,1409.2 1277.9,1408.1 1279.2,1406.9 1280.5,1405.7 1281.7,1404.3 1282.9,1403 1284,1401.5 1285.1,1400.1 1286.1,1398.6 1287.1,1397.1 1288,1395.6 1288.9,1394 1289.8,1392.5 1290.7,1390.9 1291.6,1389.3 1292.4,1387.7 1293.2,1386.1 1294,1384.5 1294.7,1382.8 1295.5,1381.2"/>
<polyline fill="none" stroke="none" stroke-width="0.5" stroke-linejoin="round" marker-start="url(#m54)" marker-mid="url(#m54)" marker-end="url(#m54)" clip-path="url(#cBR)" points="1295.5,1381.2 1296.2,1379.6 1297,1377.9 1297.7,1376.3 1298.4,1374.6 1299.1,1373 1299.8,1371.3 1300.4,1369.6 1301.1,1367.9 1301.8,1366.3 1302.4,1364.6 1303,1362.9 1303.7,1361.2 1304.3,1359.5 1304.9,1357.8 1305.5,1356.1 1306.1,1354.4 1306.7,1352.8 1307.3,1351.1 1307.9,1349.3 1308.5,1347.6 1309,1345.9 1309.6,1344.2 1310.2,1342.5 1310.7,1340.8 1311.3,1339.1 1311.9,1337.4 1312.4,1335.7 1313,1334 1313.5,1332.2 1314,1330.5 1314.6,1328.8 1315.1,1327.1 1315.6,1325.4 1316.2,1323.7 1316.7,1321.9 1317.2,1320.2 1317.7,1318.5 1318.3,1316.8 1318.8,1315 1319.3,1313.3 1319.8,1311.6 1320.3,1309.9 1320.8,1308.1 1321.3,1306.4 1321.8,1304.7 1322.4,1303 1322.9,1301.2 1323.4,1299.5 1323.9,1297.8 1324.4,1296 1324.9,1294.3 1325.4,1292.6 1325.9,1290.9 1326.4,1289.1 1326.8,1287.4 1327.3,1285.7 1327.8,1283.9 1328.3,1282.2 1328.8,1280.5 1329.3,1278.7 1329.8,1277 1330.3,1275.3 1330.8,1273.5 1331.3,1271.8 1331.8,1270.1 1332.3,1268.3 1332.8,1266.6 1333.3,1264.9 1333.7,1263.2 1334.2,1261.4 1334.7,1259.7 1335.2,1258 1335.7,1256.2 1336.2,1254.5 1336.7,1252.8 1337.2,1251 1337.7,1249.3 1338.2,1247.6 1338.7,1245.8 1339.2,1244.1 1339.7,1242.4 1340.2,1240.7 1340.7,1238.9 1341.2,1237.2 1341.7,1235.5 1342.2,1233.7 1342.7,1232 1343.2,1230.3"/>
<polyline fill="none" stroke="none" stroke-width="0.5" stroke-linejoin="round" marker-start="url(#m55)" marker-mid="url(#m55)" marker-end="url(#m55)" clip-path="url(#cBR)" points="1343.2,1230.3 1343.7,1228.6 1344.3,1226.8 1344.8,1225.1 1345.3,1223.4 1345.8,1221.7 1346.3,1220 1346.9,1218.2 1347.4,1216.5 1347.9,1214.8 1348.4,1213.1 1349,1211.3 1349.5,1209.6 1350,1207.9 1350.6,1206.2 1351.1,1204.5 1351.7,1202.8 1352.2,1201.1 1352.8,1199.3 1353.4,1197.6 1353.9,1195.9 1354.5,1194.2 1355.1,1192.5 1355.7,1190.8 1356.2,1189.1 1356.8,1187.4 1357.4,1185.7 1358,1184 1358.6,1182.3 1359.3,1180.6 1359.9,1178.9 1360.5,1177.3 1361.1,1175.6 1361.8,1173.9 1362.4,1172.2 1363.1,1170.5 1363.8,1168.9 1364.5,1167.2 1365.1,1165.5 1365.8,1163.9 1366.6,1162.2 1367.3,1160.6 1368,1158.9 1368.8,1157.3 1369.6,1155.7 1370.3,1154.1 1371.1,1152.4 1372,1150.8 1372.8,1149.3 1373.7,1147.7 1374.6,1146.1 1375.5,1144.6 1376.4,1143 1377.4,1141.5 1378.4,1140.1 1379.5,1138.6 1380.6,1137.2 1381.8,1135.8 1383,1134.5 1384.3,1133.2 1385.6,1132 1387,1130.9 1388.6,1130 1390.2,1129.2 1391.9,1128.6 1393.6,1128.2 1395.4,1128.1 1397.2,1128.3 1399,1128.7 1400.6,1129.4 1402.2,1130.2 1403.7,1131.2 1405.2,1132.3 1406.5,1133.5 1407.8,1134.8 1409,1136.1 1410.2,1137.5 1411.3,1138.9 1412.3,1140.3 1413.4,1141.8 1414.4,1143.3 1415.3,1144.8 1416.3,1146.4 1417.2,1147.9 1418,1149.5 1418.9,1151.1 1419.7,1152.7 1420.6,1154.3 1421.4,1155.9"/>
<polyline fill="none" stroke="none" stroke-width="0.5" stroke-linejoin="round" marker-start="url(#m56)" marker-mid="url(#m56)" marker-end="url(#m56)" clip-path="url(#cBR)" points="1421.4,1155.9 1422.1,1157.5 1422.9,1159.1 1423.7,1160.8 1424.4,1162.4 1425.1,1164.1 1425.8,1165.7 1426.5,1167.4 1427.2,1169 1427.9,1170.7 1428.6,1172.4 1429.3,1174 1429.9,1175.7 1430.6,1177.4 1431.2,1179.1 1431.9,1180.8 1432.5,1182.4 1433.1,1184.1 1433.7,1185.8 1434.3,1187.5 1434.9,1189.2 1435.5,1190.9 1436.1,1192.6 1436.7,1194.3 1437.3,1196 1437.9,1197.7 1438.5,1199.4 1439,1201.1 1439.6,1202.8 1440.2,1204.5 1440.7,1206.2 1441.3,1208 1441.8,1209.7 1442.4,1211.4 1442.9,1213.1 1443.5,1214.8 1444,1216.5 1444.6,1218.2 1445.1,1220 1445.6,1221.7 1446.2,1223.4 1446.7,1225.1 1447.2,1226.8 1447.8,1228.6 1448.3,1230.3 1448.8,1232 1449.3,1233.7 1449.9,1235.5 1450.4,1237.2 1450.9,1238.9 1451.4,1240.6 1451.9,1242.3 1452.5,1244.1 1453,1245.8 1453.5,1247.5 1454,1249.2 1454.5,1251 1455,1252.7 1455.5,1254.4 1456,1256.1 1456.6,1257.9 1457.1,1259.6 1457.6,1261.3 1458.1,1263.1 1458.6,1264.8 1459.1,1266.5 1459.6,1268.2 1460.1,1270 1460.6,1271.7 1461.1,1273.4 1461.7,1275.1 1462.2,1276.9 1462.7,1278.6 1463.2,1280.3 1463.7,1282 1464.2,1283.8 1464.7,1285.5 1465.2,1287.2 1465.8,1288.9 1466.3,1290.7 1466.8,1292.4 1467.3,1294.1 1467.8,1295.8 1468.4,1297.6 1468.9,1299.3 1469.4,1301 1469.9,1302.7 1470.5,1304.4 1471,1306.2"/>
<polyline fill="none" stroke="none" stroke-width="0.5" stroke-linejoin="round" marker-start="url(#m57)" marker-mid="url(#m57)" marker-end="url(#m57)" clip-path="url(#cBR)" points="1471,1306.2 1471.5,1307.9 1472.1,1309.6 1472.6,1311.3 1473.1,1313 1473.7,1314.8 1474.2,1316.5 1474.8,1318.2 1475.3,1319.9 1475.9,1321.6 1476.4,1323.3 1477,1325 1477.5,1326.7 1478.1,1328.5 1478.7,1330.2 1479.2,1331.9 1479.8,1333.6 1480.4,1335.3 1481,1337 1481.6,1338.7 1482.2,1340.4 1482.8,1342.1 1483.4,1343.8 1484,1345.5 1484.6,1347.2 1485.2,1348.8 1485.8,1350.5 1486.5,1352.2 1487.1,1353.9 1487.8,1355.6 1488.4,1357.3 1489.1,1358.9 1489.8,1360.6 1490.5,1362.3 1491.1,1363.9 1491.9,1365.6 1492.6,1367.2 1493.3,1368.9 1494,1370.5 1494.8,1372.2 1495.6,1373.8 1496.3,1375.4 1497.1,1377 1498,1378.6 1498.8,1380.2 1499.7,1381.8 1500.5,1383.4 1501.4,1384.9 1502.4,1386.5 1503.3,1388 1504.3,1389.5 1505.4,1391 1506.4,1392.4 1507.5,1393.8 1508.7,1395.2 1509.9,1396.5 1511.2,1397.8 1512.5,1399 1514,1400.1 1515.5,1401.1 1517.1,1401.9 1518.7,1402.6 1520.5,1403 1522.3,1403.2 1524.1,1403.1 1525.8,1402.8 1527.5,1402.2 1529.2,1401.4 1530.7,1400.5 1532.2,1399.4 1533.5,1398.3 1534.8,1397 1536.1,1395.7 1537.3,1394.4 1538.4,1393 1539.5,1391.6 1540.5,1390.1 1541.6,1388.6 1542.5,1387.1 1543.5,1385.6 1544.4,1384 1545.3,1382.5 1546.2,1380.9 1547,1379.3 1547.8,1377.7 1548.6,1376.1 1549.4,1374.5 1550.2,1372.9 1551,1371.2"/>
<polyline fill="none" stroke="none" stroke-width="0.5" stroke-linejoin="round" marker-start="url(#m58)" marker-mid="url(#m58)" marker-end="url(#m58)" clip-path="url(#cBR)" points="1551,1371.2 1551.7,1369.6 1552.5,1367.9 1553.2,1366.3 1553.9,1364.6 1554.6,1363 1555.3,1361.3 1556,1359.7 1556.7,1358 1557.3,1356.3 1558,1354.6 1558.6,1353 1559.3,1351.3 1559.9,1349.6 1560.5,1347.9 1561.2,1346.2 1561.8,1344.5 1562.4,1342.8 1563,1341.1 1563.6,1339.5 1564.2,1337.8 1564.8,1336.1 1565.4,1334.4 1566,1332.6 1566.5,1330.9 1567.1,1329.2 1567.7,1327.5 1568.3,1325.8 1568.8,1324.1 1569.4,1322.4 1569.9,1320.7 1570.5,1319 1571,1317.3 1571.6,1315.6 1572.1,1313.8 1572.7,1312.1 1573.2,1310.4 1573.8,1308.7 1574.3,1307 1574.8,1305.3 1575.4,1303.5 1575.9,1301.8 1576.4,1300.1 1577,1298.4 1577.5,1296.7 1578,1294.9 1578.6,1293.2 1579.1,1291.5 1579.6,1289.8 1580.1,1288 1580.6,1286.3 1581.2,1284.6 1581.7,1282.9 1582.2,1281.2 1582.7,1279.4 1583.2,1277.7 1583.8,1276 1584.3,1274.3 1584.8,1272.5 1585.3,1270.8 1585.8,1269.1 1586.3,1267.4 1586.9,1265.6 1587.4,1263.9 1587.9,1262.2 1588.4,1260.5 1588.9,1258.7 1589.5,1257 1590,1255.3 1590.5,1253.6 1591,1251.8 1591.5,1250.1 1592.1,1248.4 1592.6,1246.7 1593.1,1245 1593.6,1243.2 1594.2,1241.5 1594.7,1239.8 1595.2,1238.1 1595.7,1236.4 1596.3,1234.6 1596.8,1232.9 1597.3,1231.2 1597.9,1229.5 1598.4,1227.8 1599,1226 1599.5,1224.3 1600.1,1222.6 1600.6,1220.9"/>
<polyline fill="none" stroke="none" stroke-width="0.5" stroke-linejoin="round" marker-start="url(#m59)" marker-mid="url(#m59)" marker-end="url(#m59)" clip-path="url(#cBR)" points="1600.6,1220.9 1601.2,1219.2 1601.7,1217.5 1602.3,1215.8 1602.8,1214.1 1603.4,1212.3 1604,1210.6 1604.5,1208.9 1605.1,1207.2 1605.7,1205.5 1606.3,1203.8 1606.8,1202.1 1607.4,1200.4 1608,1198.7 1608.6,1197 1609.2,1195.3 1609.8,1193.6 1610.5,1191.9 1611.1,1190.2 1611.7,1188.6 1612.3,1186.9 1613,1185.2 1613.6,1183.5 1614.3,1181.8 1615,1180.2 1615.6,1178.5 1616.3,1176.8 1617,1175.2 1617.7,1173.5 1618.4,1171.9 1619.1,1170.2 1619.9,1168.6 1620.6,1166.9 1621.4,1165.3 1622.1,1163.7 1622.9,1162 1623.7,1160.4 1624.6,1158.8 1625.4,1157.2 1626.3,1155.7 1627.2,1154.1 1628.1,1152.5 1629,1151 1630,1149.5 1631,1148 1632,1146.5 1633.1,1145.1 1634.2,1143.7 1635.4,1142.3 1636.6,1141 1637.9,1139.7 1639.3,1138.6 1640.7,1137.5 1642.2,1136.5 1643.8,1135.7 1645.5,1135.1 1647.3,1134.7 1649,1134.5 1650.8,1134.6 1652.6,1135 1654.3,1135.6 1655.9,1136.3 1657.5,1137.3 1658.9,1138.3 1660.3,1139.5 1661.6,1140.7 1662.9,1142 1664.1,1143.3 1665.2,1144.7 1666.3,1146.1 1667.4,1147.6 1668.4,1149.1 1669.4,1150.6 1670.3,1152.1 1671.3,1153.7 1672.2,1155.2 1673,1156.8 1673.9,1158.4 1674.7,1160 1675.6,1161.6 1676.4,1163.2 1677.2,1164.8 1677.9,1166.4 1678.7,1168.1 1679.4,1169.7 1680.2,1171.3 1680.9,1173 1681.6,1174.6 1682.3,1176.3"/>
<polyline fill="none" stroke="none" stroke-width="0.5" stroke-linejoin="round" marker-start="url(#m60)" marker-mid="url(#m60)" marker-end="url(#m60)" clip-path="url(#cBR)" points="1682.3,1176.3 1683,1178 1683.7,1179.6 1684.3,1181.3 1685,1183 1685.7,1184.6 1686.3,1186.3 1687,1188 1687.6,1189.7 1688.2,1191.4 1688.9,1193.1 1689.5,1194.7 1690.1,1196.4 1690.7,1198.1 1691.3,1199.8 1691.9,1201.5 1692.5,1203.2 1693.1,1204.9 1693.7,1206.6 1694.3,1208.3 1694.8,1210 1695.4,1211.7 1696,1213.4 1696.6,1215.1 1697.1,1216.9 1697.7,1218.6 1698.3,1220.3 1698.8,1222 1699.4,1223.7 1699.9,1225.4 1700.5,1227.1 1701,1228.8 1701.6,1230.6 1702.1,1232.3 1702.7,1234 1703.2,1235.7 1703.7,1237.4 1704.3,1239.1 1704.8,1240.9 1705.4,1242.6 1705.9,1244.3 1706.4,1246 1707,1247.7 1707.5,1249.4 1708,1251.2 1708.6,1252.9 1709.1,1254.6 1709.6,1256.3 1710.1,1258.1 1710.7,1259.8 1711.2,1261.5 1711.7,1263.2 1712.3,1264.9 1712.8,1266.7 1713.3,1268.4 1713.8,1270.1 1714.4,1271.8 1714.9,1273.5 1715.4,1275.3 1715.9,1277 1716.5,1278.7 1717,1280.4 1717.5,1282.1 1718.1,1283.9 1718.6,1285.6 1719.1,1287.3 1719.7,1289 1720.2,1290.7 1720.7,1292.5 1721.3,1294.2 1721.8,1295.9 1722.4,1297.6 1722.9,1299.3 1723.4,1301 1724,1302.8 1724.5,1304.5 1725.1,1306.2 1725.6,1307.9 1726.2,1309.6 1726.7,1311.3 1727.3,1313 1727.9,1314.7 1728.4,1316.5 1729,1318.2 1729.6,1319.9 1730.1,1321.6 1730.7,1323.3 1731.3,1325 1731.9,1326.7"/>
<polyline fill="none" stroke="none" stroke-width="0.5" stroke-linejoin="round" marker-start="url(#m61)" marker-mid="url(#m61)" marker-end="url(#m61)" clip-path="url(#cBR)" points="1731.9,1326.7 1732.5,1328.4 1733.1,1330.1 1733.7,1331.8 1734.3,1333.5 1734.9,1335.2 1735.5,1336.9 1736.1,1338.6 1736.7,1340.2 1737.4,1341.9 1738,1343.6 1738.6,1345.3 1739.3,1347 1739.9,1348.7 1740.6,1350.3 1741.3,1352 1741.9,1353.7 1742.6,1355.3 1743.3,1357 1744,1358.7 1744.7,1360.3 1745.5,1362 1746.2,1363.6 1746.9,1365.2 1747.7,1366.9 1748.5,1368.5 1749.3,1370.1 1750.1,1371.7 1750.9,1373.3 1751.8,1374.9 1752.6,1376.5 1753.5,1378 1754.4,1379.6 1755.3,1381.1 1756.3,1382.7 1757.3,1384.2 1758.3,1385.6 1759.4,1387.1 1760.5,1388.5 1761.7,1389.9 1762.9,1391.2 1764.2,1392.5 1765.5,1393.7 1766.9,1394.8 1768.4,1395.8 1769.9,1396.7 1771.6,1397.4 1773.3,1398 1775.1,1398.2 1776.9,1398.3 1778.7,1398 1780.4,1397.6 1782.1,1396.9 1783.7,1396 1785.2,1395.1 1786.6,1393.9 1787.9,1392.8 1789.2,1391.5 1790.4,1390.2 1791.6,1388.8 1792.7,1387.4 1793.8,1385.9 1794.8,1384.5 1795.8,1383 1796.8,1381.4 1797.7,1379.9 1798.6,1378.4 1799.5,1376.8 1800.4,1375.2 1801.2,1373.6 1802.1,1372 1802.9,1370.4 1803.7,1368.8 1804.4,1367.2 1805.2,1365.6 1806,1363.9 1806.7,1362.3 1807.4,1360.6 1808.1,1359 1808.8,1357.3 1809.5,1355.7 1810.2,1354 1810.9,1352.3 1811.6,1350.7 1812.2,1349 1812.9,1347.3 1813.5,1345.6 1814.2,1343.9 1814.8,1342.3"/>
<polyline fill="none" stroke="none" stroke-width="0.5" stroke-linejoin="round" marker-start="url(#m62)" marker-mid="url(#m62)" marker-end="url(#m62)" clip-path="url(#cBR)" points="1814.8,1342.3 1815.4,1340.6 1816.1,1338.9 1816.7,1337.2 1817.3,1335.5 1817.9,1333.8 1818.5,1332.1 1819.1,1330.4 1819.7,1328.7 1820.3,1327 1820.9,1325.3 1821.4,1323.6 1822,1321.9 1822.6,1320.2 1823.2,1318.5 1823.7,1316.8 1824.3,1315.1 1824.9,1313.4 1825.4,1311.7 1826,1309.9 1826.5,1308.2 1827.1,1306.5 1827.6,1304.8 1828.2,1303.1 1828.7,1301.4 1829.3,1299.7 1829.8,1297.9 1830.4,1296.2 1830.9,1294.5 1831.5,1292.8 1832,1291.1 1832.5,1289.4 1833.1,1287.6 1833.6,1285.9 1834.1,1284.2 1834.7,1282.5 1835.2,1280.8 1835.7,1279 1836.3,1277.3 1836.8,1275.6 1837.3,1273.9 1837.9,1272.2 1838.4,1270.4 1838.9,1268.7 1839.5,1267 1840,1265.3 1840.5,1263.6 1841.1,1261.9 1841.6,1260.1 1842.1,1258.4 1842.6,1256.7 1843.2,1255 1843.7,1253.3 1844.3,1251.5 1844.8,1249.8 1845.3,1248.1 1845.9,1246.4 1846.4,1244.7 1846.9,1242.9 1847.5,1241.2 1848,1239.5 1848.6,1237.8 1849.1,1236.1 1849.7,1234.4 1850.2,1232.7 1850.8,1230.9 1851.3,1229.2 1851.9,1227.5 1852.4,1225.8 1853,1224.1 1853.6,1222.4 1854.1,1220.7 1854.7,1219 1855.3,1217.3 1855.9,1215.6 1856.4,1213.9 1857,1212.2 1857.6,1210.5 1858.2,1208.8 1858.8,1207.1 1859.4,1205.4 1860,1203.7 1860.6,1202 1861.2,1200.3 1861.9,1198.6 1862.5,1196.9 1863.1,1195.2 1863.7,1193.5 1864.4,1191.9"/>
<polyline fill="none" stroke="none" stroke-width="0.5" stroke-linejoin="round" marker-start="url(#m62)" marker-mid="url(#m62)" marker-end="url(#m62)" clip-path="url(#cBR)" points="1864.4,1191.9 1865,1190.2 1865.7,1188.5 1866.4,1186.8 1867,1185.2 1867.7,1183.5 1868.4,1181.8 1869.1,1180.2 1869.8,1178.5 1870.6,1176.9 1871.3,1175.2 1872,1173.6 1872.8,1172 1873.6,1170.3 1874.4,1168.7 1875.2,1167.1 1876,1165.5 1876.8,1163.9 1877.7,1162.3 1878.6,1160.8 1879.5,1159.2 1880.4,1157.7 1881.4,1156.1 1882.3,1154.6 1883.4,1153.2 1884.4,1151.7 1885.5,1150.3 1886.7,1148.9 1887.9,1147.6 1889.1,1146.3 1890.5,1145 1891.9,1143.9 1893.3,1142.9 1894.9,1142 1896.5,1141.2 1898.2,1140.7 1900,1140.4 1901.8,1140.3 1903.6,1140.5 1905.3,1140.9 1907,1141.6 1908.6,1142.4 1910.2,1143.3 1911.6,1144.4 1913,1145.6 1914.3,1146.8 1915.5,1148.1 1916.7,1149.4 1917.9,1150.8 1919,1152.3 1920,1153.7 1921.1,1155.2 1922.1,1156.7 1923,1158.2 1924,1159.7 1924.9,1161.3 1925.8,1162.9 1926.6,1164.4 1927.5,1166 1928.3,1167.6 1929.1,1169.2 1929.9,1170.8 1930.7,1172.5 1931.5,1174.1 1932.2,1175.7 1933,1177.4 1933.7,1179 1934.5,1180.6 1935.2,1182.3 1935.9,1184 1936.6,1185.6 1937.3,1187.3 1937.9,1188.9 1938.6,1190.6 1939.3,1192.3 1939.9,1194 1940.6,1195.6 1941.2,1197.3 1941.9,1199 1942.5,1200.7 1943.1,1202.4 1943.7,1204.1 1944.4,1205.8 1945,1207.4 1945.6,1209.1 1946.2,1210.8 1946.8,1212.5 1947.4,1214.2 1948,1215.9"/>
<polyline fill="none" stroke="none" stroke-width="0.5" stroke-linejoin="round" marker-start="url(#m62)" marker-mid="url(#m62)" marker-end="url(#m62)" clip-path="url(#cBR)" points="1948,1215.9 1948.6,1217.6 1949.2,1219.3 1949.8,1221 1950.3,1222.7 1950.9,1224.4 1951.5,1226.1 1952.1,1227.9 1952.6,1229.6 1953.2,1231.3 1953.8,1233 1954.3,1234.7 1954.9,1236.4 1955.5,1238.1 1956,1239.8 1956.6,1241.5 1957.1,1243.2 1957.7,1244.9 1958.2,1246.7 1958.8,1248.4 1959.3,1250.1 1959.9,1251.8 1960.4,1253.5 1961,1255.2 1961.5,1256.9 1962.1,1258.7 1962.6,1260.4 1963.2,1262.1 1963.7,1263.8 1964.3,1265.5 1964.8,1267.2 1965.4,1268.9 1965.9,1270.7 1966.5,1272.4 1967,1274.1 1967.6,1275.8 1968.1,1277.5 1968.7,1279.2 1969.2,1280.9 1969.8,1282.7 1970.3,1284.4 1970.9,1286.1 1971.4,1287.8 1972,1289.5 1972.5,1291.2 1973.1,1292.9 1973.7,1294.6 1974.2,1296.4 1974.8,1298.1 1975.3,1299.8 1975.9,1301.5 1976.5,1303.2 1977.1,1304.9 1977.6,1306.6 1978.2,1308.3 1978.8,1310 1979.4,1311.7 1979.9,1313.4 1980.5,1315.1 1981.1,1316.8 1981.7,1318.5 1982.3,1320.2 1982.9,1321.9 1983.5,1323.6 1984.1,1325.3 1984.7,1327 1985.4,1328.7 1986,1330.4 1986.6,1332.1 1987.2,1333.8 1987.9,1335.4 1988.5,1337.1 1989.2,1338.8 1989.8,1340.5 1990.5,1342.1 1991.1,1343.8 1991.8,1345.5 1992.5,1347.2 1993.2,1348.8 1993.9,1350.5 1994.6,1352.1 1995.3,1353.8 1996.1,1355.4 1996.8,1357.1 1997.6,1358.7 1998.3,1360.3 1999.1,1361.9 1999.9,1363.6 2000.4,1364.5"/>
<rect x="1291.2" y="1216.2" width="704.6" height="3.7" fill="#000"/>
<rect x="1292.2" y="1314.6" width="703.6" height="3.7" fill="#000"/>
<path d="M1095.0 1079.2H2000.4V1458.3" fill="none" stroke="#6a6a6a" stroke-width="1"/>
<path d="M1095.0 1079.2V1458.3H2000.4" fill="none" stroke="#2a2a2a" stroke-width="1.3"/>
<line x1="1095" y1="1394.4" x2="1102.6" y2="1394.4" stroke="#333" stroke-width="1" />
<line x1="2000.4" y1="1394.4" x2="1992.8" y2="1394.4" stroke="#555" stroke-width="1" />
<line x1="1095" y1="1331.6" x2="1102.6" y2="1331.6" stroke="#333" stroke-width="1" />
<line x1="2000.4" y1="1331.6" x2="1992.8" y2="1331.6" stroke="#555" stroke-width="1" />
<line x1="1095" y1="1268.8" x2="1102.6" y2="1268.8" stroke="#333" stroke-width="1" />
<line x1="2000.4" y1="1268.8" x2="1992.8" y2="1268.8" stroke="#555" stroke-width="1" />
<line x1="1095" y1="1206" x2="1102.6" y2="1206" stroke="#333" stroke-width="1" />
<line x1="2000.4" y1="1206" x2="1992.8" y2="1206" stroke="#555" stroke-width="1" />
<line x1="1095" y1="1143.2" x2="1102.6" y2="1143.2" stroke="#333" stroke-width="1" />
<line x1="2000.4" y1="1143.2" x2="1992.8" y2="1143.2" stroke="#555" stroke-width="1" />
<line x1="1206.6" y1="1079.2" x2="1206.6" y2="1087.2" stroke="#555" stroke-width="1" />
<line x1="1206.6" y1="1458.3" x2="1206.6" y2="1450.3" stroke="#333" stroke-width="1" />
<line x1="1319.9" y1="1079.2" x2="1319.9" y2="1087.2" stroke="#555" stroke-width="1" />
<line x1="1319.9" y1="1458.3" x2="1319.9" y2="1450.3" stroke="#333" stroke-width="1" />
<line x1="1433.3" y1="1079.2" x2="1433.3" y2="1087.2" stroke="#555" stroke-width="1" />
<line x1="1433.3" y1="1458.3" x2="1433.3" y2="1450.3" stroke="#333" stroke-width="1" />
<line x1="1546.6" y1="1079.2" x2="1546.6" y2="1087.2" stroke="#555" stroke-width="1" />
<line x1="1546.6" y1="1458.3" x2="1546.6" y2="1450.3" stroke="#333" stroke-width="1" />
<line x1="1660" y1="1079.2" x2="1660" y2="1087.2" stroke="#555" stroke-width="1" />
<line x1="1660" y1="1458.3" x2="1660" y2="1450.3" stroke="#333" stroke-width="1" />
<line x1="1773.3" y1="1079.2" x2="1773.3" y2="1087.2" stroke="#555" stroke-width="1" />
<line x1="1773.3" y1="1458.3" x2="1773.3" y2="1450.3" stroke="#333" stroke-width="1" />
<line x1="1886.7" y1="1079.2" x2="1886.7" y2="1087.2" stroke="#555" stroke-width="1" />
<line x1="1886.7" y1="1458.3" x2="1886.7" y2="1450.3" stroke="#333" stroke-width="1" />
<text x="1089.9" y="1150" font-size="17.8" text-anchor="end" font-family='"Liberation Serif", serif' >0.1</text>
<text x="1089.9" y="1208.5" font-size="17.8" text-anchor="end" font-family='"Liberation Serif", serif' >0.05</text>
<text x="1087.5" y="1274.2" font-size="17.8" text-anchor="end" font-family='"Liberation Serif", serif' >0</text>
<text x="1087.7" y="1337.6" font-size="17.8" text-anchor="end" font-family='"Liberation Serif", serif' >-0.05</text>
<text x="1085.3" y="1399.2" font-size="17.8" text-anchor="end" font-family='"Liberation Serif", serif' >-0.1</text>
<text x="1206.9" y="1478.6" font-size="17.8" text-anchor="middle" font-family='"Liberation Serif", serif' >58</text>
<text x="1433.5" y="1478.6" font-size="17.8" text-anchor="middle" font-family='"Liberation Serif", serif' >60</text>
<text x="1659.9" y="1478.6" font-size="17.8" text-anchor="middle" font-family='"Liberation Serif", serif' >62</text>
<text x="1886.9" y="1478.6" font-size="17.8" text-anchor="middle" font-family='"Liberation Serif", serif' >64</text>
<text x="1965.6" y="1485.6" font-size="22.3" text-anchor="start" font-family='"Liberation Serif", serif' >[s]</text>
<text x="1048.2" y="1091.8" font-size="22.3" text-anchor="start" font-family='"Liberation Serif", serif' >[rad]</text>
</svg></body></html>
